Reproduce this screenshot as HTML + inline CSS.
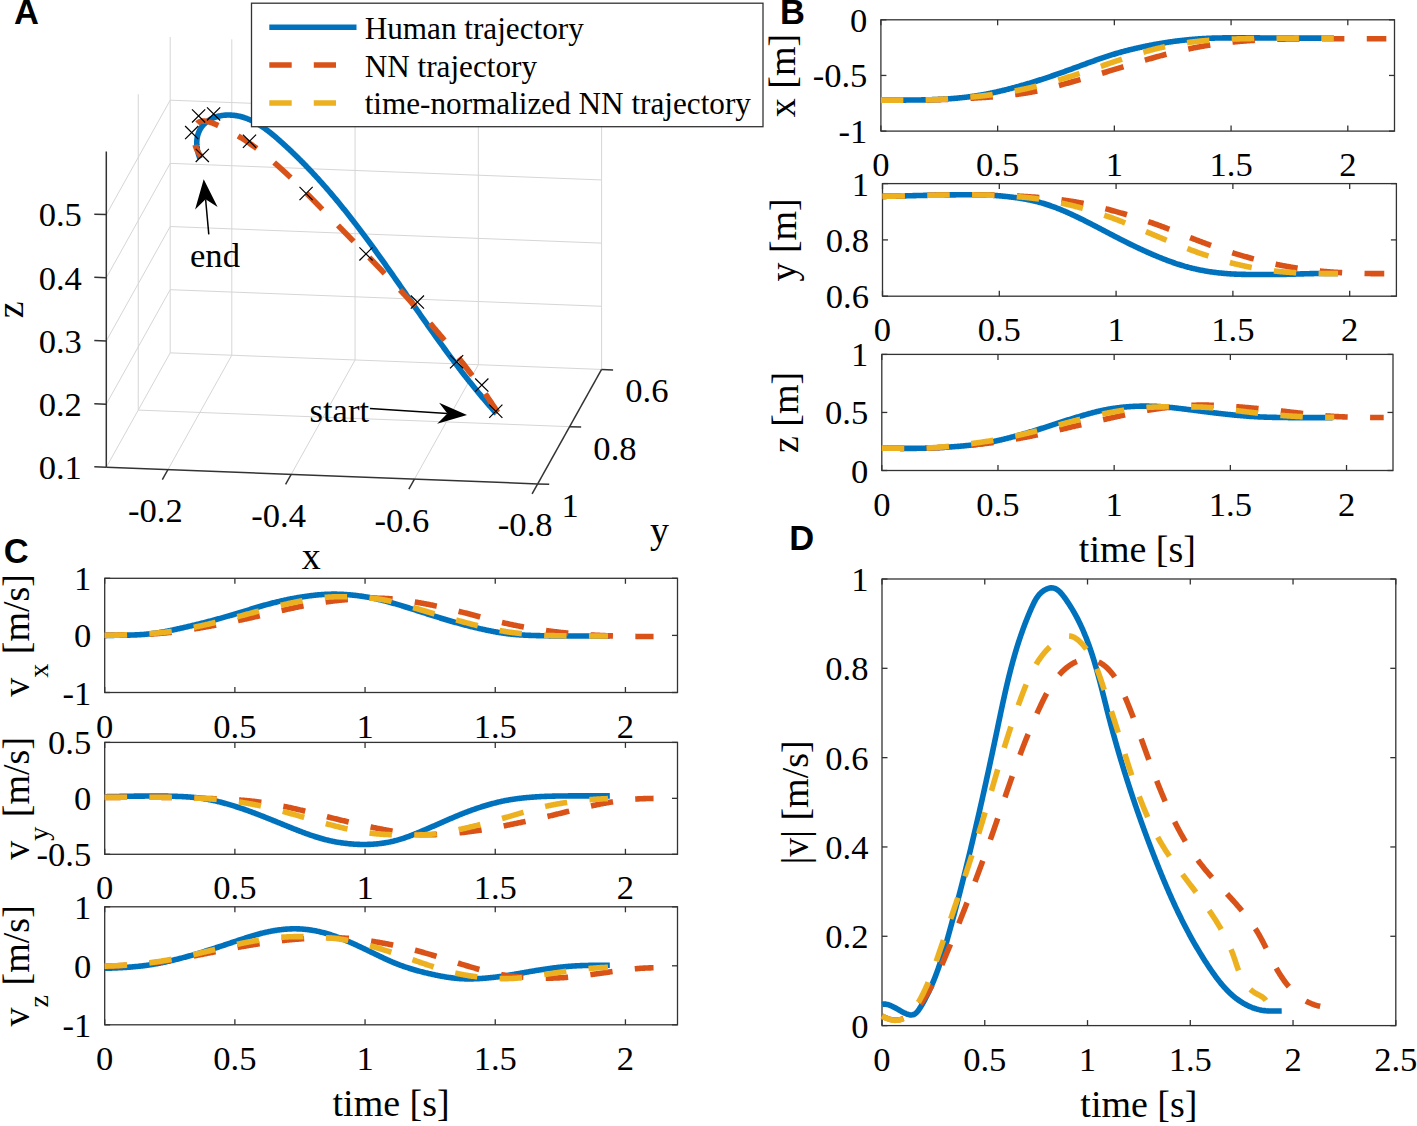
<!DOCTYPE html>
<html><head><meta charset="utf-8"><style>
html,body{margin:0;padding:0;background:#fff;width:1417px;height:1126px;overflow:hidden}
svg{display:block}
</style></head><body>
<svg width="1417" height="1126" viewBox="0 0 1417 1126">
<rect width="1417" height="1126" fill="#fff"/>
<line x1="231.81" y1="355.23" x2="231.81" y2="39.38" stroke="#D6D6D6" stroke-width="1.0"/>
<line x1="355.07" y1="359.97" x2="355.07" y2="44.12" stroke="#D6D6D6" stroke-width="1.0"/>
<line x1="478.33" y1="364.71" x2="478.33" y2="48.86" stroke="#D6D6D6" stroke-width="1.0"/>
<line x1="601.59" y1="369.45" x2="601.59" y2="53.60" stroke="#D6D6D6" stroke-width="1.0"/>
<line x1="170.18" y1="352.86" x2="170.18" y2="37.01" stroke="#D6D6D6" stroke-width="1.0"/>
<line x1="170.18" y1="352.86" x2="601.59" y2="369.45" stroke="#D6D6D6" stroke-width="1.0"/>
<line x1="170.18" y1="289.69" x2="601.59" y2="306.28" stroke="#D6D6D6" stroke-width="1.0"/>
<line x1="170.18" y1="226.52" x2="601.59" y2="243.11" stroke="#D6D6D6" stroke-width="1.0"/>
<line x1="170.18" y1="163.35" x2="601.59" y2="179.94" stroke="#D6D6D6" stroke-width="1.0"/>
<line x1="170.18" y1="100.18" x2="601.59" y2="116.77" stroke="#D6D6D6" stroke-width="1.0"/>
<line x1="138.24" y1="410.08" x2="138.24" y2="94.23" stroke="#D6D6D6" stroke-width="1.0"/>
<line x1="106.30" y1="467.30" x2="170.18" y2="352.86" stroke="#D6D6D6" stroke-width="1.0"/>
<line x1="106.30" y1="404.13" x2="170.18" y2="289.69" stroke="#D6D6D6" stroke-width="1.0"/>
<line x1="106.30" y1="340.96" x2="170.18" y2="226.52" stroke="#D6D6D6" stroke-width="1.0"/>
<line x1="106.30" y1="277.79" x2="170.18" y2="163.35" stroke="#D6D6D6" stroke-width="1.0"/>
<line x1="106.30" y1="214.62" x2="170.18" y2="100.18" stroke="#D6D6D6" stroke-width="1.0"/>
<line x1="167.93" y1="469.67" x2="231.81" y2="355.23" stroke="#D6D6D6" stroke-width="1.0"/>
<line x1="291.19" y1="474.41" x2="355.07" y2="359.97" stroke="#D6D6D6" stroke-width="1.0"/>
<line x1="414.45" y1="479.15" x2="478.33" y2="364.71" stroke="#D6D6D6" stroke-width="1.0"/>
<line x1="138.24" y1="410.08" x2="569.65" y2="426.67" stroke="#D6D6D6" stroke-width="1.0"/>
<line x1="106.30" y1="467.30" x2="106.30" y2="151.45" stroke="#333333" stroke-width="1.5"/>
<line x1="106.30" y1="467.30" x2="537.71" y2="483.89" stroke="#333333" stroke-width="1.5"/>
<line x1="537.71" y1="483.89" x2="601.59" y2="369.45" stroke="#333333" stroke-width="1.5"/>
<line x1="106.30" y1="467.30" x2="94.30" y2="466.85" stroke="#333333" stroke-width="1.5"/>
<text x="81.90" y="479.10" font-family="Liberation Serif" font-size="34.6" font-weight="400" text-anchor="end" fill="#000">0.1</text>
<line x1="106.30" y1="404.13" x2="94.30" y2="403.68" stroke="#333333" stroke-width="1.5"/>
<text x="81.90" y="415.93" font-family="Liberation Serif" font-size="34.6" font-weight="400" text-anchor="end" fill="#000">0.2</text>
<line x1="106.30" y1="340.96" x2="94.30" y2="340.51" stroke="#333333" stroke-width="1.5"/>
<text x="81.90" y="352.76" font-family="Liberation Serif" font-size="34.6" font-weight="400" text-anchor="end" fill="#000">0.3</text>
<line x1="106.30" y1="277.79" x2="94.30" y2="277.34" stroke="#333333" stroke-width="1.5"/>
<text x="81.90" y="289.59" font-family="Liberation Serif" font-size="34.6" font-weight="400" text-anchor="end" fill="#000">0.4</text>
<line x1="106.30" y1="214.62" x2="94.30" y2="214.17" stroke="#333333" stroke-width="1.5"/>
<text x="81.90" y="226.42" font-family="Liberation Serif" font-size="34.6" font-weight="400" text-anchor="end" fill="#000">0.5</text>
<line x1="167.93" y1="469.67" x2="162.32" y2="479.71" stroke="#333333" stroke-width="1.5"/>
<text x="155.43" y="522.17" font-family="Liberation Serif" font-size="34.6" font-weight="400" text-anchor="middle" fill="#000">-0.2</text>
<line x1="291.19" y1="474.41" x2="285.58" y2="484.45" stroke="#333333" stroke-width="1.5"/>
<text x="278.69" y="526.91" font-family="Liberation Serif" font-size="34.6" font-weight="400" text-anchor="middle" fill="#000">-0.4</text>
<line x1="414.45" y1="479.15" x2="408.84" y2="489.19" stroke="#333333" stroke-width="1.5"/>
<text x="401.95" y="531.65" font-family="Liberation Serif" font-size="34.6" font-weight="400" text-anchor="middle" fill="#000">-0.6</text>
<line x1="537.71" y1="483.89" x2="532.10" y2="493.93" stroke="#333333" stroke-width="1.5"/>
<text x="525.21" y="536.39" font-family="Liberation Serif" font-size="34.6" font-weight="400" text-anchor="middle" fill="#000">-0.8</text>
<line x1="601.59" y1="369.45" x2="613.08" y2="369.89" stroke="#333333" stroke-width="1.5"/>
<text x="625.29" y="402.45" font-family="Liberation Serif" font-size="34.6" font-weight="400" text-anchor="start" fill="#000">0.6</text>
<line x1="569.65" y1="426.67" x2="581.14" y2="427.11" stroke="#333333" stroke-width="1.5"/>
<text x="593.35" y="459.67" font-family="Liberation Serif" font-size="34.6" font-weight="400" text-anchor="start" fill="#000">0.8</text>
<line x1="537.71" y1="483.89" x2="549.20" y2="484.33" stroke="#333333" stroke-width="1.5"/>
<text x="561.41" y="516.89" font-family="Liberation Serif" font-size="34.6" font-weight="400" text-anchor="start" fill="#000">1</text>
<text x="311.20" y="568.50" font-family="Liberation Serif" font-size="38" font-weight="400" text-anchor="middle" fill="#000">x</text>
<text x="659.50" y="543.40" font-family="Liberation Serif" font-size="38" font-weight="400" text-anchor="middle" fill="#000">y</text>
<text x="0" y="0" font-family="Liberation Serif" font-size="38" text-anchor="middle" transform="translate(22.60,309.90) rotate(-90)">z</text>
<path d="M496.59,413.71 L495.94,413.00 L495.30,412.28 L494.67,411.57 L494.03,410.85 L493.39,410.13 L492.76,409.41 L492.12,408.69 L491.49,407.97 L490.86,407.25 L490.23,406.53 L489.60,405.81 L488.98,405.09 L488.35,404.37 L487.72,403.64 L487.10,402.92 L486.48,402.19 L485.86,401.47 L485.24,400.74 L484.62,400.01 L484.00,399.28 L483.39,398.56 L482.77,397.83 L482.16,397.10 L481.54,396.37 L480.93,395.63 L480.32,394.90 L479.71,394.17 L479.11,393.44 L478.50,392.70 L477.89,391.97 L477.29,391.23 L476.68,390.50 L476.08,389.76 L475.48,389.03 L474.88,388.29 L474.28,387.55 L473.68,386.81 L473.08,386.07 L472.49,385.33 L471.89,384.59 L471.30,383.85 L470.70,383.11 L470.11,382.37 L469.52,381.63 L468.93,380.88 L468.34,380.14 L467.75,379.40 L467.17,378.65 L466.58,377.91 L465.99,377.16 L465.41,376.41 L464.82,375.67 L464.24,374.92 L463.66,374.17 L463.08,373.42 L462.50,372.68 L461.92,371.93 L461.34,371.18 L460.76,370.43 L460.19,369.68 L459.61,368.93 L459.04,368.17 L458.46,367.42 L457.89,366.67 L457.32,365.92 L456.74,365.16 L456.17,364.41 L455.60,363.66 L455.03,362.90 L454.46,362.15 L453.90,361.39 L453.33,360.64 L452.76,359.88 L452.20,359.13 L451.63,358.37 L451.07,357.61 L450.51,356.85 L449.94,356.10 L449.38,355.34 L448.82,354.58 L448.26,353.82 L447.70,353.06 L447.14,352.30 L446.58,351.54 L446.02,350.78 L445.46,350.02 L444.91,349.26 L444.35,348.50 L443.79,347.74 L443.24,346.97 L442.68,346.21 L442.13,345.45 L441.58,344.69 L441.02,343.92 L440.47,343.16 L439.92,342.40 L439.37,341.63 L438.82,340.87 L438.27,340.10 L437.72,339.34 L437.17,338.57 L436.62,337.81 L436.07,337.04 L435.52,336.28 L434.98,335.51 L434.43,334.75 L433.88,333.98 L433.34,333.21 L432.79,332.45 L432.25,331.68 L431.70,330.91 L431.16,330.14 L430.61,329.38 L430.07,328.61 L429.53,327.84 L428.98,327.07 L428.44,326.30 L427.90,325.54 L427.36,324.77 L426.82,324.00 L426.28,323.23 L425.74,322.46 L425.20,321.69 L424.65,320.92 L424.12,320.15 L423.58,319.38 L423.04,318.61 L422.50,317.84 L421.96,317.07 L421.42,316.30 L420.88,315.53 L420.34,314.76 L419.81,313.99 L419.27,313.22 L418.73,312.45 L418.19,311.68 L417.66,310.91 L417.12,310.14 L416.58,309.37 L416.05,308.60 L415.51,307.83 L414.97,307.06 L414.44,306.29 L413.90,305.51 L413.37,304.74 L412.83,303.97 L412.30,303.20 L411.76,302.43 L411.23,301.66 L410.69,300.89 L410.15,300.12 L409.62,299.35 L409.08,298.58 L408.55,297.80 L408.01,297.03 L407.48,296.26 L406.94,295.49 L406.41,294.72 L405.87,293.95 L405.34,293.18 L404.80,292.41 L404.27,291.64 L403.73,290.87 L403.20,290.10 L402.66,289.33 L402.13,288.56 L401.59,287.79 L401.06,287.02 L400.52,286.25 L399.99,285.48 L399.45,284.71 L398.92,283.94 L398.38,283.17 L397.85,282.40 L397.31,281.63 L396.77,280.86 L396.24,280.09 L395.70,279.32 L395.16,278.55 L394.63,277.78 L394.09,277.01 L393.55,276.24 L393.01,275.48 L392.48,274.71 L391.94,273.94 L391.40,273.17 L390.86,272.41 L390.32,271.64 L389.78,270.87 L389.25,270.10 L388.71,269.34 L388.17,268.57 L387.63,267.80 L387.09,267.04 L386.55,266.27 L386.01,265.51 L385.46,264.74 L384.92,263.98 L384.38,263.21 L383.84,262.45 L383.30,261.68 L382.75,260.92 L382.21,260.15 L381.67,259.39 L381.12,258.63 L380.58,257.87 L380.03,257.10 L379.49,256.34 L378.94,255.58 L378.39,254.82 L377.85,254.05 L377.30,253.29 L376.75,252.53 L376.21,251.77 L375.66,251.01 L375.11,250.25 L374.56,249.49 L374.01,248.73 L373.46,247.97 L372.91,247.22 L372.36,246.46 L371.80,245.70 L371.25,244.94 L370.70,244.19 L370.14,243.43 L369.59,242.67 L369.03,241.92 L368.48,241.16 L367.92,240.41 L367.37,239.65 L366.81,238.90 L366.25,238.14 L365.69,237.39 L365.13,236.64 L364.57,235.89 L364.01,235.13 L363.45,234.38 L362.89,233.63 L362.33,232.88 L361.76,232.13 L361.20,231.38 L360.64,230.63 L360.07,229.88 L359.50,229.13 L358.94,228.39 L358.37,227.64 L357.80,226.89 L357.23,226.15 L356.66,225.40 L356.09,224.65 L355.52,223.91 L354.95,223.16 L354.37,222.42 L353.80,221.68 L353.23,220.93 L352.65,220.19 L352.07,219.45 L351.50,218.71 L350.92,217.97 L350.34,217.23 L349.76,216.49 L349.18,215.75 L348.60,215.01 L348.02,214.28 L347.43,213.54 L346.85,212.80 L346.26,212.07 L345.68,211.33 L345.09,210.60 L344.50,209.86 L343.91,209.13 L343.32,208.39 L342.73,207.66 L342.14,206.93 L341.55,206.20 L340.95,205.47 L340.36,204.74 L339.76,204.01 L339.17,203.28 L338.57,202.56 L337.97,201.83 L337.37,201.10 L336.77,200.38 L336.17,199.65 L335.56,198.93 L334.96,198.20 L334.35,197.48 L333.75,196.76 L333.14,196.04 L332.53,195.32 L331.92,194.60 L331.31,193.88 L330.70,193.16 L330.08,192.44 L329.47,191.72 L328.85,191.01 L328.24,190.29 L327.62,189.58 L327.00,188.86 L326.38,188.15 L325.76,187.44 L325.13,186.72 L324.51,186.01 L323.89,185.30 L323.26,184.59 L322.63,183.88 L322.00,183.18 L321.37,182.47 L320.74,181.76 L320.11,181.06 L319.47,180.35 L318.84,179.65 L318.20,178.95 L317.56,178.24 L316.92,177.54 L316.28,176.84 L315.64,176.14 L315.00,175.44 L314.35,174.75 L313.70,174.05 L313.06,173.35 L312.41,172.66 L311.76,171.96 L311.11,171.27 L310.45,170.58 L309.80,169.89 L309.14,169.20 L308.48,168.51 L307.82,167.82 L307.16,167.13 L306.50,166.44 L305.84,165.76 L305.17,165.07 L304.51,164.39 L303.84,163.70 L303.17,163.02 L302.50,162.34 L301.82,161.66 L301.15,160.98 L300.47,160.30 L299.80,159.62 L299.12,158.95 L298.44,158.27 L297.76,157.60 L297.07,156.92 L296.39,156.25 L295.70,155.58 L295.01,154.91 L294.32,154.24 L293.63,153.57 L292.94,152.90 L292.24,152.24 L291.55,151.57 L290.85,150.91 L290.15,150.24 L289.45,149.58 L288.74,148.92 L288.04,148.26 L287.33,147.60 L286.62,146.94 L285.91,146.28 L285.20,145.63 L284.49,144.97 L283.77,144.32 L283.05,143.67 L282.34,143.02 L281.61,142.37 L280.89,141.72 L280.17,141.07 L279.44,140.42 L278.71,139.78 L277.98,139.14 L277.25,138.50 L276.52,137.86 L275.78,137.23 L275.04,136.59 L274.30,135.97 L273.56,135.34 L272.81,134.72 L272.06,134.11 L271.31,133.50 L270.56,132.89 L269.80,132.30 L269.05,131.70 L268.29,131.11 L267.52,130.53 L266.76,129.95 L265.99,129.38 L265.21,128.82 L264.44,128.27 L263.66,127.72 L262.88,127.18 L262.10,126.64 L261.31,126.12 L260.52,125.61 L259.73,125.10 L258.93,124.60 L258.13,124.11 L257.33,123.63 L256.52,123.17 L255.71,122.71 L254.89,122.26 L254.08,121.82 L253.26,121.40 L252.43,120.98 L251.60,120.58 L250.77,120.19 L249.93,119.81 L249.09,119.44 L248.25,119.09 L247.40,118.75 L246.55,118.42 L245.69,118.10 L244.83,117.80 L243.97,117.52 L243.10,117.25 L242.22,116.99 L241.35,116.75 L240.46,116.52 L239.58,116.31 L238.69,116.11 L237.79,115.93 L236.89,115.77 L235.99,115.62 L235.09,115.49 L234.19,115.37 L233.28,115.27 L232.37,115.19 L231.47,115.12 L230.56,115.08 L229.66,115.05 L228.75,115.03 L227.85,115.04 L226.95,115.06 L226.06,115.10 L225.16,115.15 L224.27,115.23 L223.39,115.32 L222.51,115.43 L221.63,115.56 L220.76,115.71 L219.90,115.88 L219.05,116.06 L218.20,116.27 L217.36,116.49 L216.53,116.74 L215.71,117.00 L214.90,117.28 L214.09,117.59 L213.30,117.91 L212.52,118.25 L211.75,118.62 L210.99,119.00 L210.25,119.41 L209.52,119.83 L208.80,120.28 L208.10,120.74 L207.41,121.23 L206.73,121.74 L206.08,122.27 L205.43,122.82 L204.81,123.39 L204.21,123.98 L203.62,124.59 L203.05,125.22 L202.51,125.87 L201.98,126.54 L201.48,127.24 L200.99,127.95 L200.53,128.68 L200.10,129.44 L199.68,130.21 L199.29,131.00 L198.93,131.82 L198.59,132.65 L198.28,133.50 L198.00,134.38 L197.74,135.27 L197.51,136.18 L197.31,137.11 L197.15,138.06 L197.01,139.04 L196.90,140.03 L196.82,141.04 L196.78,142.07 L196.77,143.12 L196.79,144.18 L196.85,145.27 L196.94,146.38 L197.07,147.50 L197.23,148.65 L197.43,149.81 L197.67,151.00 L197.95,152.20 L198.26,153.42 L198.62,154.66 L199.01,155.92 L199.44,157.20 L199.92,158.49" fill="none" stroke="#0072BD" stroke-width="5.6" stroke-linejoin="round"/>
<path d="M497.71,412.38 L497.20,411.59 L496.69,410.80 L496.17,410.01 L495.66,409.22 L495.14,408.43 L494.63,407.64 L494.11,406.85 L493.59,406.06 L493.07,405.28 L492.55,404.49 L492.03,403.71 L491.50,402.93 L490.98,402.15 L490.45,401.37 L489.93,400.59 L489.40,399.81 L488.87,399.03 L488.35,398.26 L487.82,397.48 L487.29,396.71 L486.76,395.93 L486.22,395.16 L485.69,394.39 L485.16,393.62 L484.62,392.85 L484.09,392.08 L483.55,391.32 L483.01,390.55 L482.48,389.78 L481.94,389.02 L481.40,388.26 L480.86,387.49 L480.31,386.73 L479.77,385.97 L479.23,385.21 L478.68,384.45 L478.14,383.69 L477.59,382.94 L477.05,382.18 L476.50,381.43 L475.95,380.67 L475.40,379.92 L474.85,379.17 L474.30,378.41 L473.75,377.66 L473.20,376.91 L472.64,376.17 L472.09,375.42 L471.54,374.67 L470.98,373.92 L470.42,373.18 L469.87,372.43 L469.31,371.69 L468.75,370.95 L468.19,370.20 L467.63,369.46 L467.07,368.72 L466.51,367.98 L465.94,367.24 L465.38,366.51 L464.82,365.77 L464.25,365.03 L463.69,364.30 L463.12,363.56 L462.55,362.83 L461.98,362.10 L461.42,361.36 L460.85,360.63 L460.28,359.90 L459.71,359.17 L459.13,358.44 L458.56,357.71 L457.99,356.98 L457.41,356.26 L456.84,355.53 L456.26,354.81 L455.69,354.08 L455.11,353.36 L454.53,352.63 L453.96,351.91 L453.38,351.19 L452.80,350.47 L452.22,349.75 L451.64,349.03 L451.05,348.31 L450.47,347.59 L449.89,346.87 L449.31,346.16 L448.72,345.44 L448.14,344.72 L447.55,344.01 L446.96,343.29 L446.38,342.58 L445.79,341.87 L445.20,341.16 L444.61,340.44 L444.02,339.73 L443.43,339.02 L442.84,338.31 L442.25,337.60 L441.66,336.90 L441.07,336.19 L440.47,335.48 L439.88,334.77 L439.28,334.07 L438.69,333.36 L438.09,332.66 L437.50,331.95 L436.90,331.25 L436.30,330.55 L435.70,329.85 L435.10,329.14 L434.51,328.44 L433.91,327.74 L433.30,327.04 L432.70,326.34 L432.10,325.64 L431.50,324.94 L430.90,324.25 L430.29,323.55 L429.69,322.85 L429.08,322.16 L428.48,321.46 L427.87,320.77 L427.27,320.07 L426.66,319.38 L426.05,318.68 L425.44,317.99 L424.84,317.30 L424.23,316.61 L423.62,315.91 L423.01,315.22 L422.40,314.53 L421.79,313.84 L421.17,313.15 L420.56,312.46 L419.95,311.77 L419.34,311.09 L418.72,310.40 L418.11,309.71 L417.49,309.02 L416.88,308.34 L416.26,307.65 L415.65,306.97 L415.03,306.28 L414.41,305.60 L413.79,304.91 L413.18,304.23 L412.56,303.55 L411.94,302.86 L411.32,302.18 L410.70,301.50 L410.08,300.82 L409.46,300.13 L408.84,299.45 L408.21,298.77 L407.59,298.09 L406.97,297.41 L406.35,296.73 L405.72,296.05 L405.10,295.37 L404.47,294.70 L403.85,294.02 L403.22,293.34 L402.60,292.66 L401.97,291.99 L401.34,291.31 L400.72,290.63 L400.09,289.96 L399.46,289.28 L398.83,288.61 L398.20,287.93 L397.58,287.26 L396.95,286.58 L396.32,285.91 L395.69,285.23 L395.06,284.56 L394.42,283.89 L393.79,283.21 L393.16,282.54 L392.53,281.87 L391.90,281.19 L391.26,280.52 L390.63,279.85 L390.00,279.18 L389.36,278.51 L388.73,277.84 L388.09,277.17 L387.46,276.50 L386.82,275.83 L386.19,275.16 L385.55,274.49 L384.92,273.82 L384.28,273.15 L383.64,272.48 L383.00,271.81 L382.37,271.14 L381.73,270.47 L381.09,269.80 L380.45,269.13 L379.81,268.47 L379.17,267.80 L378.53,267.13 L377.90,266.46 L377.26,265.80 L376.61,265.13 L375.97,264.46 L375.33,263.79 L374.69,263.13 L374.05,262.46 L373.41,261.79 L372.77,261.13 L372.12,260.46 L371.48,259.80 L370.84,259.13 L370.20,258.46 L369.55,257.80 L368.91,257.13 L368.27,256.47 L367.62,255.80 L366.98,255.13 L366.33,254.47 L365.69,253.80 L365.04,253.14 L364.40,252.47 L363.75,251.81 L363.11,251.14 L362.46,250.48 L361.82,249.81 L361.17,249.15 L360.52,248.48 L359.88,247.82 L359.23,247.15 L358.58,246.49 L357.94,245.83 L357.29,245.16 L356.64,244.50 L355.99,243.83 L355.34,243.17 L354.70,242.50 L354.05,241.84 L353.40,241.17 L352.75,240.51 L352.10,239.84 L351.45,239.18 L350.80,238.51 L350.15,237.85 L349.51,237.19 L348.86,236.52 L348.21,235.86 L347.56,235.19 L346.91,234.53 L346.26,233.86 L345.61,233.20 L344.96,232.53 L344.30,231.87 L343.65,231.20 L343.00,230.54 L342.35,229.87 L341.70,229.20 L341.05,228.54 L340.40,227.87 L339.75,227.21 L339.10,226.54 L338.45,225.88 L337.79,225.21 L337.14,224.54 L336.49,223.88 L335.84,223.21 L335.19,222.54 L334.53,221.88 L333.88,221.21 L333.23,220.54 L332.58,219.88 L331.93,219.21 L331.27,218.54 L330.62,217.87 L329.97,217.21 L329.32,216.54 L328.66,215.87 L328.01,215.20 L327.36,214.53 L326.71,213.86 L326.05,213.20 L325.40,212.53 L324.75,211.86 L324.10,211.19 L323.44,210.52 L322.79,209.85 L322.14,209.18 L321.48,208.51 L320.83,207.84 L320.18,207.17 L319.53,206.50 L318.87,205.83 L318.22,205.15 L317.57,204.48 L316.91,203.81 L316.26,203.14 L315.61,202.47 L314.95,201.80 L314.30,201.13 L313.64,200.46 L312.99,199.79 L312.33,199.12 L311.68,198.45 L311.02,197.78 L310.37,197.11 L309.71,196.44 L309.05,195.78 L308.39,195.11 L307.74,194.44 L307.08,193.77 L306.42,193.11 L305.76,192.44 L305.10,191.78 L304.44,191.11 L303.78,190.45 L303.12,189.78 L302.46,189.12 L301.80,188.46 L301.13,187.80 L300.47,187.14 L299.81,186.48 L299.14,185.82 L298.48,185.16 L297.81,184.50 L297.14,183.85 L296.48,183.19 L295.81,182.54 L295.14,181.88 L294.47,181.23 L293.80,180.58 L293.13,179.93 L292.46,179.28 L291.78,178.64 L291.11,177.99 L290.43,177.34 L289.76,176.70 L289.08,176.06 L288.40,175.42 L287.73,174.78 L287.05,174.14 L286.37,173.50 L285.68,172.86 L285.00,172.23 L284.32,171.60 L283.63,170.96 L282.95,170.34 L282.26,169.71 L281.57,169.08 L280.88,168.46 L280.19,167.83 L279.50,167.21 L278.81,166.59 L278.12,165.97 L277.42,165.36 L276.73,164.74 L276.03,164.13 L275.33,163.52 L274.63,162.91 L273.93,162.30 L273.22,161.70 L272.52,161.10 L271.81,160.50 L271.11,159.90 L270.40,159.30 L269.69,158.71 L268.98,158.11 L268.26,157.52 L267.55,156.94 L266.83,156.35 L266.12,155.77 L265.40,155.19 L264.68,154.61 L263.96,154.03 L263.23,153.46 L262.51,152.89 L261.78,152.32 L261.05,151.75 L260.32,151.19 L259.59,150.63 L258.86,150.07 L258.12,149.51 L257.38,148.96 L256.65,148.41 L255.91,147.86 L255.16,147.31 L254.42,146.77 L253.67,146.23 L252.93,145.69 L252.18,145.16 L251.42,144.63 L250.67,144.10 L249.91,143.58 L249.16,143.05 L248.40,142.53 L247.64,142.02 L246.87,141.50 L246.11,140.99 L245.34,140.49 L244.57,139.98 L243.80,139.48 L243.03,138.99 L242.25,138.49 L241.47,138.00 L240.69,137.51 L239.91,137.03 L239.13,136.55 L238.34,136.07 L237.55,135.60 L236.76,135.13 L235.97,134.66 L235.17,134.19 L234.37,133.73 L233.57,133.28 L232.77,132.83 L231.97,132.38 L231.16,131.93 L230.35,131.49 L229.54,131.05 L228.72,130.62 L227.91,130.19 L227.09,129.76 L226.26,129.34 L225.44,128.92 L224.61,128.50 L223.78,128.09 L222.95,127.68 L222.12,127.28 L221.28,126.88 L220.44,126.49 L219.60,126.10 L218.75,125.71 L217.91,125.33 L217.06,124.95 L216.21,124.58 L215.36,124.22 L214.51,123.87 L213.66,123.53 L212.82,123.21 L211.99,122.90 L211.15,122.61 L210.33,122.34 L209.51,122.09 L208.70,121.87 L207.91,121.67 L207.12,121.49 L206.35,121.34 L205.59,121.23 L204.84,121.14 L204.11,121.09 L203.39,121.07 L202.70,121.09 L202.02,121.15 L201.36,121.25 L200.73,121.40 L200.11,121.58 L199.52,121.81 L198.96,122.09 L198.41,122.42 L197.90,122.80 L197.41,123.23 L196.95,123.72 L196.52,124.26 L196.13,124.86 L195.76,125.52 L195.42,126.23 L195.12,126.98 L194.85,127.79 L194.61,128.64 L194.40,129.53 L194.23,130.46 L194.09,131.42 L193.98,132.41 L193.90,133.42 L193.86,134.47 L193.85,135.53 L193.88,136.61 L193.94,137.70 L194.03,138.80 L194.16,139.92 L194.32,141.03 L194.52,142.15 L194.75,143.26 L195.02,144.37 L195.32,145.47 L195.66,146.56 L196.04,147.63 L196.45,148.68 L196.90,149.71 L197.38,150.72 L197.90,151.70 L198.46,152.64 L199.06,153.55 L199.69,154.43 L200.36,155.26 L201.07,156.04 L201.81,156.78" fill="none" stroke="#D95319" stroke-width="5.6" stroke-dasharray="22.4 22.4" stroke-linejoin="round"/>
<path d="M489.20,404.60 L502.40,417.80 M489.20,417.80 L502.40,404.60" stroke="#000" stroke-width="1.2" fill="none"/>
<path d="M475.20,378.50 L488.40,391.70 M475.20,391.70 L488.40,378.50" stroke="#000" stroke-width="1.2" fill="none"/>
<path d="M450.00,355.20 L463.20,368.40 M450.00,368.40 L463.20,355.20" stroke="#000" stroke-width="1.2" fill="none"/>
<path d="M410.80,295.50 L424.00,308.70 M410.80,308.70 L424.00,295.50" stroke="#000" stroke-width="1.2" fill="none"/>
<path d="M359.40,247.30 L372.60,260.50 M359.40,260.50 L372.60,247.30" stroke="#000" stroke-width="1.2" fill="none"/>
<path d="M299.50,186.90 L312.70,200.10 M299.50,200.10 L312.70,186.90" stroke="#000" stroke-width="1.2" fill="none"/>
<path d="M242.90,134.60 L256.10,147.80 M242.90,147.80 L256.10,134.60" stroke="#000" stroke-width="1.2" fill="none"/>
<path d="M207.00,107.30 L220.20,120.50 M207.00,120.50 L220.20,107.30" stroke="#000" stroke-width="1.2" fill="none"/>
<path d="M192.00,109.30 L205.20,122.50 M192.00,122.50 L205.20,109.30" stroke="#000" stroke-width="1.2" fill="none"/>
<path d="M185.10,126.00 L198.30,139.20 M185.10,139.20 L198.30,126.00" stroke="#000" stroke-width="1.2" fill="none"/>
<path d="M195.70,148.80 L208.90,162.00 M195.70,162.00 L208.90,148.80" stroke="#000" stroke-width="1.2" fill="none"/>
<line x1="208.8" y1="234.4" x2="205.6" y2="199.3" stroke="#000" stroke-width="1.5"/>
<path d="M203.7,179.3 L195.1,209.5 L205.6,199.3 L217.6,207.1 Z" fill="#000"/>
<text x="190.00" y="267.20" font-family="Liberation Serif" font-size="34.6" font-weight="400" text-anchor="start" fill="#000">end</text>
<line x1="369.9" y1="408.5" x2="447.4" y2="413.6" stroke="#000" stroke-width="1.5"/>
<path d="M467.0,414.9 L439.1,402.8 L447.4,413.6 L437.2,423.7 Z" fill="#000"/>
<text x="309.50" y="421.50" font-family="Liberation Serif" font-size="34.6" font-weight="400" text-anchor="start" fill="#000">start</text>
<rect x="251.5" y="3.2" width="511.5" height="123.5" fill="#fff" stroke="#333333" stroke-width="1.3"/>
<path d="M269.3,27.3 L356.5,27.3" stroke="#0072BD" stroke-width="5.6" fill="none"/>
<text x="364.70" y="38.70" font-family="Liberation Serif" font-size="31.2" font-weight="400" text-anchor="start" fill="#000">Human trajectory</text>
<path d="M269.3,65.0 L291.7,65.0 M313.8,65.0 L336,65.0" stroke="#D95319" stroke-width="5.6" fill="none"/>
<text x="364.70" y="76.60" font-family="Liberation Serif" font-size="31.2" font-weight="400" text-anchor="start" fill="#000">NN trajectory</text>
<path d="M269.3,103.0 L291.7,103.0 M313.8,103.0 L336,103.0" stroke="#EDB120" stroke-width="5.6" fill="none"/>
<text x="364.70" y="114.30" font-family="Liberation Serif" font-size="31.2" font-weight="400" text-anchor="start" fill="#000">time-normalized NN trajectory</text>
<line x1="880.90" y1="131.10" x2="880.90" y2="125.60" stroke="#333333" stroke-width="1.3"/>
<line x1="880.90" y1="19.80" x2="880.90" y2="25.30" stroke="#333333" stroke-width="1.3"/>
<line x1="997.63" y1="131.10" x2="997.63" y2="125.60" stroke="#333333" stroke-width="1.3"/>
<line x1="997.63" y1="19.80" x2="997.63" y2="25.30" stroke="#333333" stroke-width="1.3"/>
<line x1="1114.35" y1="131.10" x2="1114.35" y2="125.60" stroke="#333333" stroke-width="1.3"/>
<line x1="1114.35" y1="19.80" x2="1114.35" y2="25.30" stroke="#333333" stroke-width="1.3"/>
<line x1="1231.08" y1="131.10" x2="1231.08" y2="125.60" stroke="#333333" stroke-width="1.3"/>
<line x1="1231.08" y1="19.80" x2="1231.08" y2="25.30" stroke="#333333" stroke-width="1.3"/>
<line x1="1347.81" y1="131.10" x2="1347.81" y2="125.60" stroke="#333333" stroke-width="1.3"/>
<line x1="1347.81" y1="19.80" x2="1347.81" y2="25.30" stroke="#333333" stroke-width="1.3"/>
<line x1="880.90" y1="131.10" x2="886.40" y2="131.10" stroke="#333333" stroke-width="1.3"/>
<line x1="1394.50" y1="131.10" x2="1389.00" y2="131.10" stroke="#333333" stroke-width="1.3"/>
<line x1="880.90" y1="75.45" x2="886.40" y2="75.45" stroke="#333333" stroke-width="1.3"/>
<line x1="1394.50" y1="75.45" x2="1389.00" y2="75.45" stroke="#333333" stroke-width="1.3"/>
<line x1="880.90" y1="19.80" x2="886.40" y2="19.80" stroke="#333333" stroke-width="1.3"/>
<line x1="1394.50" y1="19.80" x2="1389.00" y2="19.80" stroke="#333333" stroke-width="1.3"/>
<rect x="880.90" y="19.80" width="513.60" height="111.30" fill="none" stroke="#333333" stroke-width="1.3"/>
<text x="880.90" y="176.10" font-family="Liberation Serif" font-size="34.6" font-weight="400" text-anchor="middle" fill="#000">0</text>
<text x="997.63" y="176.10" font-family="Liberation Serif" font-size="34.6" font-weight="400" text-anchor="middle" fill="#000">0.5</text>
<text x="1114.35" y="176.10" font-family="Liberation Serif" font-size="34.6" font-weight="400" text-anchor="middle" fill="#000">1</text>
<text x="1231.08" y="176.10" font-family="Liberation Serif" font-size="34.6" font-weight="400" text-anchor="middle" fill="#000">1.5</text>
<text x="1347.81" y="176.10" font-family="Liberation Serif" font-size="34.6" font-weight="400" text-anchor="middle" fill="#000">2</text>
<text x="867.40" y="143.10" font-family="Liberation Serif" font-size="34.6" font-weight="400" text-anchor="end" fill="#000">-1</text>
<text x="867.40" y="87.45" font-family="Liberation Serif" font-size="34.6" font-weight="400" text-anchor="end" fill="#000">-0.5</text>
<text x="867.40" y="31.80" font-family="Liberation Serif" font-size="34.6" font-weight="400" text-anchor="end" fill="#000">0</text>
<path d="M880.90,100.15 L881.66,100.15 L882.41,100.15 L883.17,100.15 L883.92,100.15 L884.68,100.15 L885.44,100.15 L886.19,100.14 L886.95,100.14 L887.70,100.14 L888.46,100.14 L889.22,100.14 L889.97,100.14 L890.73,100.14 L891.49,100.13 L892.24,100.13 L893.00,100.13 L893.75,100.13 L894.51,100.13 L895.27,100.12 L896.02,100.12 L896.78,100.12 L897.53,100.12 L898.29,100.11 L899.05,100.11 L899.80,100.11 L900.56,100.10 L901.31,100.10 L902.07,100.10 L902.83,100.09 L903.58,100.09 L904.34,100.09 L905.10,100.08 L905.85,100.08 L906.61,100.07 L907.36,100.07 L908.12,100.06 L908.88,100.06 L909.63,100.05 L910.39,100.05 L911.14,100.04 L911.90,100.04 L912.66,100.03 L913.41,100.02 L914.17,100.02 L914.92,100.01 L915.68,100.00 L916.44,99.99 L917.19,99.99 L917.95,99.98 L918.70,99.97 L919.46,99.96 L920.22,99.95 L920.97,99.94 L921.73,99.92 L922.49,99.91 L923.24,99.90 L924.00,99.88 L924.75,99.87 L925.51,99.85 L926.27,99.84 L927.02,99.82 L927.78,99.80 L928.53,99.78 L929.29,99.76 L930.05,99.74 L930.80,99.72 L931.56,99.69 L932.31,99.67 L933.07,99.64 L933.83,99.61 L934.58,99.58 L935.34,99.55 L936.10,99.52 L936.85,99.49 L937.61,99.46 L938.36,99.42 L939.12,99.39 L939.88,99.35 L940.63,99.31 L941.39,99.27 L942.14,99.23 L942.90,99.19 L943.66,99.14 L944.41,99.10 L945.17,99.05 L945.92,99.00 L946.68,98.95 L947.44,98.90 L948.19,98.85 L948.95,98.80 L949.70,98.74 L950.46,98.68 L951.22,98.63 L951.97,98.57 L952.73,98.51 L953.49,98.45 L954.24,98.38 L955.00,98.32 L955.75,98.25 L956.51,98.18 L957.27,98.11 L958.02,98.04 L958.78,97.97 L959.53,97.90 L960.29,97.82 L961.05,97.75 L961.80,97.67 L962.56,97.59 L963.31,97.50 L964.07,97.42 L964.83,97.33 L965.58,97.25 L966.34,97.16 L967.10,97.07 L967.85,96.97 L968.61,96.88 L969.36,96.78 L970.12,96.68 L970.88,96.58 L971.63,96.48 L972.39,96.38 L973.14,96.27 L973.90,96.16 L974.66,96.05 L975.41,95.94 L976.17,95.82 L976.92,95.70 L977.68,95.58 L978.44,95.46 L979.19,95.34 L979.95,95.21 L980.70,95.09 L981.46,94.96 L982.22,94.83 L982.97,94.69 L983.73,94.56 L984.49,94.42 L985.24,94.28 L986.00,94.14 L986.75,93.99 L987.51,93.85 L988.27,93.70 L989.02,93.55 L989.78,93.40 L990.53,93.24 L991.29,93.09 L992.05,92.93 L992.80,92.77 L993.56,92.61 L994.31,92.44 L995.07,92.28 L995.83,92.11 L996.58,91.94 L997.34,91.77 L998.09,91.60 L998.85,91.43 L999.61,91.25 L1000.36,91.07 L1001.12,90.89 L1001.88,90.71 L1002.63,90.53 L1003.39,90.34 L1004.14,90.16 L1004.90,89.97 L1005.66,89.78 L1006.41,89.59 L1007.17,89.40 L1007.92,89.21 L1008.68,89.01 L1009.44,88.82 L1010.19,88.62 L1010.95,88.42 L1011.70,88.22 L1012.46,88.02 L1013.22,87.82 L1013.97,87.62 L1014.73,87.41 L1015.49,87.21 L1016.24,87.00 L1017.00,86.79 L1017.75,86.58 L1018.51,86.37 L1019.27,86.16 L1020.02,85.95 L1020.78,85.73 L1021.53,85.52 L1022.29,85.30 L1023.05,85.09 L1023.80,84.87 L1024.56,84.65 L1025.31,84.43 L1026.07,84.21 L1026.83,83.98 L1027.58,83.76 L1028.34,83.54 L1029.09,83.31 L1029.85,83.08 L1030.61,82.86 L1031.36,82.63 L1032.12,82.40 L1032.88,82.17 L1033.63,81.93 L1034.39,81.70 L1035.14,81.47 L1035.90,81.23 L1036.66,80.99 L1037.41,80.76 L1038.17,80.52 L1038.92,80.28 L1039.68,80.03 L1040.44,79.79 L1041.19,79.55 L1041.95,79.30 L1042.70,79.06 L1043.46,78.81 L1044.22,78.56 L1044.97,78.31 L1045.73,78.06 L1046.49,77.81 L1047.24,77.56 L1048.00,77.31 L1048.75,77.05 L1049.51,76.80 L1050.27,76.54 L1051.02,76.28 L1051.78,76.02 L1052.53,75.76 L1053.29,75.50 L1054.05,75.24 L1054.80,74.98 L1055.56,74.72 L1056.31,74.46 L1057.07,74.19 L1057.83,73.93 L1058.58,73.66 L1059.34,73.39 L1060.09,73.13 L1060.85,72.86 L1061.61,72.59 L1062.36,72.32 L1063.12,72.05 L1063.88,71.78 L1064.63,71.51 L1065.39,71.24 L1066.14,70.96 L1066.90,70.69 L1067.66,70.42 L1068.41,70.14 L1069.17,69.87 L1069.92,69.60 L1070.68,69.32 L1071.44,69.05 L1072.19,68.77 L1072.95,68.49 L1073.70,68.22 L1074.46,67.94 L1075.22,67.66 L1075.97,67.39 L1076.73,67.11 L1077.49,66.83 L1078.24,66.55 L1079.00,66.28 L1079.75,66.00 L1080.51,65.72 L1081.27,65.44 L1082.02,65.17 L1082.78,64.89 L1083.53,64.61 L1084.29,64.33 L1085.05,64.06 L1085.80,63.78 L1086.56,63.50 L1087.31,63.23 L1088.07,62.95 L1088.83,62.68 L1089.58,62.40 L1090.34,62.13 L1091.09,61.86 L1091.85,61.58 L1092.61,61.31 L1093.36,61.04 L1094.12,60.77 L1094.88,60.50 L1095.63,60.23 L1096.39,59.96 L1097.14,59.70 L1097.90,59.43 L1098.66,59.17 L1099.41,58.91 L1100.17,58.64 L1100.92,58.38 L1101.68,58.12 L1102.44,57.87 L1103.19,57.61 L1103.95,57.36 L1104.70,57.10 L1105.46,56.85 L1106.22,56.60 L1106.97,56.35 L1107.73,56.11 L1108.49,55.86 L1109.24,55.62 L1110.00,55.38 L1110.75,55.14 L1111.51,54.91 L1112.27,54.67 L1113.02,54.44 L1113.78,54.21 L1114.53,53.98 L1115.29,53.75 L1116.05,53.53 L1116.80,53.31 L1117.56,53.09 L1118.31,52.87 L1119.07,52.65 L1119.83,52.44 L1120.58,52.23 L1121.34,52.02 L1122.09,51.81 L1122.85,51.60 L1123.61,51.40 L1124.36,51.20 L1125.12,51.00 L1125.88,50.80 L1126.63,50.60 L1127.39,50.41 L1128.14,50.22 L1128.90,50.03 L1129.66,49.84 L1130.41,49.65 L1131.17,49.47 L1131.92,49.28 L1132.68,49.10 L1133.44,48.92 L1134.19,48.74 L1134.95,48.57 L1135.70,48.39 L1136.46,48.22 L1137.22,48.05 L1137.97,47.88 L1138.73,47.71 L1139.49,47.54 L1140.24,47.37 L1141.00,47.21 L1141.75,47.04 L1142.51,46.88 L1143.27,46.72 L1144.02,46.56 L1144.78,46.40 L1145.53,46.25 L1146.29,46.09 L1147.05,45.94 L1147.80,45.78 L1148.56,45.63 L1149.31,45.48 L1150.07,45.33 L1150.83,45.19 L1151.58,45.04 L1152.34,44.90 L1153.09,44.75 L1153.85,44.61 L1154.61,44.47 L1155.36,44.33 L1156.12,44.20 L1156.88,44.06 L1157.63,43.93 L1158.39,43.79 L1159.14,43.66 L1159.90,43.53 L1160.66,43.40 L1161.41,43.28 L1162.17,43.15 L1162.92,43.03 L1163.68,42.90 L1164.44,42.78 L1165.19,42.66 L1165.95,42.54 L1166.70,42.43 L1167.46,42.31 L1168.22,42.20 L1168.97,42.09 L1169.73,41.98 L1170.48,41.87 L1171.24,41.76 L1172.00,41.65 L1172.75,41.55 L1173.51,41.45 L1174.27,41.34 L1175.02,41.24 L1175.78,41.15 L1176.53,41.05 L1177.29,40.95 L1178.05,40.86 L1178.80,40.77 L1179.56,40.68 L1180.31,40.59 L1181.07,40.50 L1181.83,40.42 L1182.58,40.33 L1183.34,40.25 L1184.09,40.17 L1184.85,40.09 L1185.61,40.01 L1186.36,39.93 L1187.12,39.85 L1187.88,39.78 L1188.63,39.71 L1189.39,39.64 L1190.14,39.57 L1190.90,39.50 L1191.66,39.43 L1192.41,39.36 L1193.17,39.30 L1193.92,39.24 L1194.68,39.18 L1195.44,39.12 L1196.19,39.06 L1196.95,39.00 L1197.70,38.94 L1198.46,38.89 L1199.22,38.84 L1199.97,38.79 L1200.73,38.74 L1201.48,38.69 L1202.24,38.64 L1203.00,38.59 L1203.75,38.55 L1204.51,38.51 L1205.27,38.47 L1206.02,38.43 L1206.78,38.39 L1207.53,38.35 L1208.29,38.32 L1209.05,38.28 L1209.80,38.25 L1210.56,38.22 L1211.31,38.19 L1212.07,38.16 L1212.83,38.14 L1213.58,38.11 L1214.34,38.09 L1215.09,38.07 L1215.85,38.05 L1216.61,38.03 L1217.36,38.01 L1218.12,37.99 L1218.88,37.98 L1219.63,37.96 L1220.39,37.95 L1221.14,37.94 L1221.90,37.93 L1222.66,37.92 L1223.41,37.91 L1224.17,37.90 L1224.92,37.89 L1225.68,37.89 L1226.44,37.88 L1227.19,37.87 L1227.95,37.87 L1228.70,37.86 L1229.46,37.86 L1230.22,37.86 L1230.97,37.85 L1231.73,37.85 L1232.48,37.85 L1233.24,37.85 L1234.00,37.85 L1234.75,37.85 L1235.51,37.85 L1236.27,37.85 L1237.02,37.85 L1237.78,37.85 L1238.53,37.85 L1239.29,37.85 L1240.05,37.85 L1240.80,37.85 L1241.56,37.85 L1242.31,37.85 L1243.07,37.85 L1243.83,37.85 L1244.58,37.86 L1245.34,37.86 L1246.09,37.86 L1246.85,37.86 L1247.61,37.87 L1248.36,37.87 L1249.12,37.87 L1249.88,37.87 L1250.63,37.88 L1251.39,37.88 L1252.14,37.88 L1252.90,37.89 L1253.66,37.89 L1254.41,37.89 L1255.17,37.90 L1255.92,37.90 L1256.68,37.91 L1257.44,37.91 L1258.19,37.92 L1258.95,37.92 L1259.70,37.92 L1260.46,37.93 L1261.22,37.93 L1261.97,37.94 L1262.73,37.94 L1263.48,37.95 L1264.24,37.95 L1265.00,37.96 L1265.75,37.96 L1266.51,37.97 L1267.27,37.97 L1268.02,37.98 L1268.78,37.98 L1269.53,37.99 L1270.29,37.99 L1271.05,38.00 L1271.80,38.01 L1272.56,38.01 L1273.31,38.02 L1274.07,38.02 L1274.83,38.03 L1275.58,38.03 L1276.34,38.04 L1277.09,38.04 L1277.85,38.05 L1278.61,38.05 L1279.36,38.06 L1280.12,38.06 L1280.88,38.07 L1281.63,38.07 L1282.39,38.08 L1283.14,38.08 L1283.90,38.08 L1284.66,38.09 L1285.41,38.09 L1286.17,38.10 L1286.92,38.10 L1287.68,38.10 L1288.44,38.11 L1289.19,38.11 L1289.95,38.12 L1290.70,38.12 L1291.46,38.12 L1292.22,38.12 L1292.97,38.13 L1293.73,38.13 L1294.48,38.13 L1295.24,38.14 L1296.00,38.14 L1296.75,38.14 L1297.51,38.14 L1298.27,38.14 L1299.02,38.15 L1299.78,38.15 L1300.53,38.15 L1301.29,38.15 L1302.05,38.15 L1302.80,38.15 L1303.56,38.15 L1304.31,38.16 L1305.07,38.16 L1305.83,38.16 L1306.58,38.16 L1307.34,38.16 L1308.09,38.16 L1308.85,38.16 L1309.61,38.16 L1310.36,38.16 L1311.12,38.16 L1311.88,38.16 L1312.63,38.16 L1313.39,38.16 L1314.14,38.16 L1314.90,38.16 L1315.66,38.16 L1316.41,38.16 L1317.17,38.16 L1317.92,38.16 L1318.68,38.16 L1319.44,38.16 L1320.19,38.16 L1320.95,38.16 L1321.70,38.16 L1322.46,38.16 L1323.22,38.16 L1323.97,38.16 L1324.73,38.16 L1325.48,38.16 L1326.24,38.16 L1327.00,38.16 L1327.75,38.16 L1328.51,38.16 L1329.27,38.16 L1330.02,38.16 L1330.78,38.16 L1331.53,38.16 L1332.29,38.16 L1333.05,38.16 L1333.80,38.16" fill="none" stroke="#0072BD" stroke-width="5.6" stroke-linejoin="round"/>
<path d="M880.90,100.15 L881.74,100.15 L882.59,100.15 L883.43,100.15 L884.28,100.15 L885.12,100.15 L885.96,100.14 L886.81,100.14 L887.65,100.14 L888.49,100.14 L889.34,100.14 L890.18,100.14 L891.03,100.13 L891.87,100.13 L892.71,100.13 L893.56,100.13 L894.40,100.12 L895.24,100.12 L896.09,100.12 L896.93,100.11 L897.78,100.11 L898.62,100.11 L899.46,100.11 L900.31,100.10 L901.15,100.10 L901.99,100.09 L902.84,100.09 L903.68,100.09 L904.53,100.08 L905.37,100.08 L906.21,100.07 L907.06,100.07 L907.90,100.06 L908.75,100.06 L909.59,100.05 L910.43,100.05 L911.28,100.04 L912.12,100.04 L912.96,100.03 L913.81,100.02 L914.65,100.02 L915.50,100.01 L916.34,100.00 L917.18,100.00 L918.03,99.99 L918.87,99.98 L919.71,99.97 L920.56,99.96 L921.40,99.96 L922.25,99.95 L923.09,99.94 L923.93,99.93 L924.78,99.92 L925.62,99.90 L926.46,99.89 L927.31,99.88 L928.15,99.87 L929.00,99.85 L929.84,99.84 L930.68,99.82 L931.53,99.81 L932.37,99.79 L933.21,99.77 L934.06,99.76 L934.90,99.74 L935.75,99.72 L936.59,99.70 L937.43,99.68 L938.28,99.66 L939.12,99.63 L939.97,99.61 L940.81,99.59 L941.65,99.56 L942.50,99.53 L943.34,99.51 L944.18,99.48 L945.03,99.45 L945.87,99.42 L946.72,99.39 L947.56,99.36 L948.40,99.33 L949.25,99.30 L950.09,99.27 L950.93,99.23 L951.78,99.20 L952.62,99.16 L953.47,99.13 L954.31,99.09 L955.15,99.05 L956.00,99.01 L956.84,98.98 L957.68,98.94 L958.53,98.90 L959.37,98.86 L960.22,98.82 L961.06,98.77 L961.90,98.73 L962.75,98.69 L963.59,98.65 L964.44,98.60 L965.28,98.56 L966.12,98.51 L966.97,98.47 L967.81,98.42 L968.65,98.38 L969.50,98.33 L970.34,98.28 L971.19,98.23 L972.03,98.19 L972.87,98.14 L973.72,98.09 L974.56,98.04 L975.40,97.99 L976.25,97.94 L977.09,97.89 L977.94,97.83 L978.78,97.78 L979.62,97.73 L980.47,97.67 L981.31,97.62 L982.15,97.56 L983.00,97.51 L983.84,97.45 L984.69,97.39 L985.53,97.34 L986.37,97.28 L987.22,97.22 L988.06,97.16 L988.90,97.09 L989.75,97.03 L990.59,96.97 L991.44,96.90 L992.28,96.84 L993.12,96.77 L993.97,96.70 L994.81,96.63 L995.66,96.56 L996.50,96.49 L997.34,96.42 L998.19,96.35 L999.03,96.27 L999.87,96.20 L1000.72,96.12 L1001.56,96.04 L1002.41,95.96 L1003.25,95.88 L1004.09,95.80 L1004.94,95.72 L1005.78,95.63 L1006.62,95.55 L1007.47,95.46 L1008.31,95.37 L1009.16,95.28 L1010.00,95.19 L1010.84,95.09 L1011.69,95.00 L1012.53,94.90 L1013.37,94.80 L1014.22,94.70 L1015.06,94.59 L1015.91,94.49 L1016.75,94.38 L1017.59,94.27 L1018.44,94.16 L1019.28,94.04 L1020.13,93.92 L1020.97,93.80 L1021.81,93.68 L1022.66,93.56 L1023.50,93.43 L1024.34,93.30 L1025.19,93.16 L1026.03,93.03 L1026.88,92.89 L1027.72,92.75 L1028.56,92.60 L1029.41,92.45 L1030.25,92.30 L1031.09,92.14 L1031.94,91.98 L1032.78,91.82 L1033.63,91.66 L1034.47,91.49 L1035.31,91.32 L1036.16,91.14 L1037.00,90.97 L1037.84,90.78 L1038.69,90.60 L1039.53,90.41 L1040.38,90.22 L1041.22,90.03 L1042.06,89.83 L1042.91,89.64 L1043.75,89.44 L1044.59,89.23 L1045.44,89.03 L1046.28,88.82 L1047.13,88.61 L1047.97,88.40 L1048.81,88.18 L1049.66,87.97 L1050.50,87.75 L1051.35,87.53 L1052.19,87.31 L1053.03,87.09 L1053.88,86.87 L1054.72,86.64 L1055.56,86.42 L1056.41,86.19 L1057.25,85.96 L1058.10,85.73 L1058.94,85.51 L1059.78,85.28 L1060.63,85.05 L1061.47,84.81 L1062.31,84.58 L1063.16,84.35 L1064.00,84.12 L1064.85,83.89 L1065.69,83.65 L1066.53,83.42 L1067.38,83.19 L1068.22,82.95 L1069.06,82.72 L1069.91,82.48 L1070.75,82.25 L1071.60,82.01 L1072.44,81.78 L1073.28,81.54 L1074.13,81.30 L1074.97,81.07 L1075.82,80.83 L1076.66,80.59 L1077.50,80.35 L1078.35,80.11 L1079.19,79.87 L1080.03,79.63 L1080.88,79.39 L1081.72,79.15 L1082.57,78.91 L1083.41,78.67 L1084.25,78.43 L1085.10,78.18 L1085.94,77.94 L1086.78,77.69 L1087.63,77.45 L1088.47,77.20 L1089.32,76.96 L1090.16,76.71 L1091.00,76.46 L1091.85,76.22 L1092.69,75.97 L1093.53,75.72 L1094.38,75.47 L1095.22,75.22 L1096.07,74.97 L1096.91,74.72 L1097.75,74.47 L1098.60,74.22 L1099.44,73.97 L1100.28,73.72 L1101.13,73.47 L1101.97,73.22 L1102.82,72.96 L1103.66,72.71 L1104.50,72.46 L1105.35,72.20 L1106.19,71.95 L1107.04,71.70 L1107.88,71.44 L1108.72,71.19 L1109.57,70.93 L1110.41,70.68 L1111.25,70.42 L1112.10,70.16 L1112.94,69.91 L1113.79,69.65 L1114.63,69.39 L1115.47,69.13 L1116.32,68.88 L1117.16,68.62 L1118.00,68.36 L1118.85,68.10 L1119.69,67.84 L1120.54,67.58 L1121.38,67.32 L1122.22,67.06 L1123.07,66.80 L1123.91,66.54 L1124.75,66.28 L1125.60,66.02 L1126.44,65.76 L1127.29,65.50 L1128.13,65.24 L1128.97,64.98 L1129.82,64.72 L1130.66,64.46 L1131.51,64.20 L1132.35,63.95 L1133.19,63.69 L1134.04,63.43 L1134.88,63.17 L1135.72,62.92 L1136.57,62.66 L1137.41,62.41 L1138.26,62.15 L1139.10,61.90 L1139.94,61.65 L1140.79,61.39 L1141.63,61.14 L1142.47,60.89 L1143.32,60.64 L1144.16,60.40 L1145.01,60.15 L1145.85,59.90 L1146.69,59.66 L1147.54,59.41 L1148.38,59.17 L1149.22,58.93 L1150.07,58.69 L1150.91,58.45 L1151.76,58.21 L1152.60,57.97 L1153.44,57.74 L1154.29,57.50 L1155.13,57.27 L1155.97,57.03 L1156.82,56.80 L1157.66,56.57 L1158.51,56.34 L1159.35,56.11 L1160.19,55.88 L1161.04,55.66 L1161.88,55.43 L1162.73,55.21 L1163.57,54.98 L1164.41,54.76 L1165.26,54.54 L1166.10,54.32 L1166.94,54.10 L1167.79,53.88 L1168.63,53.66 L1169.48,53.45 L1170.32,53.23 L1171.16,53.02 L1172.01,52.81 L1172.85,52.60 L1173.69,52.39 L1174.54,52.18 L1175.38,51.97 L1176.23,51.77 L1177.07,51.57 L1177.91,51.37 L1178.76,51.16 L1179.60,50.97 L1180.44,50.77 L1181.29,50.57 L1182.13,50.38 L1182.98,50.19 L1183.82,50.00 L1184.66,49.81 L1185.51,49.63 L1186.35,49.44 L1187.20,49.26 L1188.04,49.08 L1188.88,48.90 L1189.73,48.72 L1190.57,48.55 L1191.41,48.38 L1192.26,48.21 L1193.10,48.04 L1193.95,47.87 L1194.79,47.70 L1195.63,47.54 L1196.48,47.38 L1197.32,47.22 L1198.16,47.06 L1199.01,46.90 L1199.85,46.75 L1200.70,46.59 L1201.54,46.44 L1202.38,46.29 L1203.23,46.14 L1204.07,46.00 L1204.91,45.85 L1205.76,45.71 L1206.60,45.56 L1207.45,45.42 L1208.29,45.28 L1209.13,45.15 L1209.98,45.01 L1210.82,44.88 L1211.66,44.74 L1212.51,44.61 L1213.35,44.48 L1214.20,44.36 L1215.04,44.23 L1215.88,44.10 L1216.73,43.98 L1217.57,43.86 L1218.42,43.74 L1219.26,43.62 L1220.10,43.51 L1220.95,43.39 L1221.79,43.28 L1222.63,43.17 L1223.48,43.06 L1224.32,42.96 L1225.17,42.85 L1226.01,42.75 L1226.85,42.65 L1227.70,42.55 L1228.54,42.46 L1229.38,42.36 L1230.23,42.27 L1231.07,42.18 L1231.92,42.09 L1232.76,42.01 L1233.60,41.92 L1234.45,41.84 L1235.29,41.76 L1236.13,41.68 L1236.98,41.60 L1237.82,41.53 L1238.67,41.45 L1239.51,41.38 L1240.35,41.31 L1241.20,41.24 L1242.04,41.17 L1242.89,41.11 L1243.73,41.04 L1244.57,40.98 L1245.42,40.92 L1246.26,40.85 L1247.10,40.80 L1247.95,40.74 L1248.79,40.68 L1249.64,40.62 L1250.48,40.57 L1251.32,40.51 L1252.17,40.46 L1253.01,40.41 L1253.85,40.35 L1254.70,40.30 L1255.54,40.25 L1256.39,40.20 L1257.23,40.16 L1258.07,40.11 L1258.92,40.06 L1259.76,40.02 L1260.60,39.97 L1261.45,39.93 L1262.29,39.89 L1263.14,39.84 L1263.98,39.80 L1264.82,39.76 L1265.67,39.72 L1266.51,39.69 L1267.35,39.65 L1268.20,39.61 L1269.04,39.58 L1269.89,39.54 L1270.73,39.51 L1271.57,39.48 L1272.42,39.45 L1273.26,39.41 L1274.11,39.39 L1274.95,39.36 L1275.79,39.33 L1276.64,39.30 L1277.48,39.28 L1278.32,39.25 L1279.17,39.23 L1280.01,39.21 L1280.86,39.18 L1281.70,39.16 L1282.54,39.14 L1283.39,39.12 L1284.23,39.11 L1285.07,39.09 L1285.92,39.07 L1286.76,39.06 L1287.61,39.04 L1288.45,39.03 L1289.29,39.01 L1290.14,39.00 L1290.98,38.99 L1291.82,38.98 L1292.67,38.97 L1293.51,38.96 L1294.36,38.95 L1295.20,38.94 L1296.04,38.93 L1296.89,38.92 L1297.73,38.91 L1298.58,38.90 L1299.42,38.90 L1300.26,38.89 L1301.11,38.88 L1301.95,38.88 L1302.79,38.87 L1303.64,38.87 L1304.48,38.86 L1305.33,38.85 L1306.17,38.85 L1307.01,38.84 L1307.86,38.84 L1308.70,38.83 L1309.54,38.83 L1310.39,38.83 L1311.23,38.82 L1312.08,38.82 L1312.92,38.81 L1313.76,38.81 L1314.61,38.81 L1315.45,38.80 L1316.29,38.80 L1317.14,38.79 L1317.98,38.79 L1318.83,38.79 L1319.67,38.78 L1320.51,38.78 L1321.36,38.78 L1322.20,38.78 L1323.04,38.77 L1323.89,38.77 L1324.73,38.77 L1325.58,38.76 L1326.42,38.76 L1327.26,38.76 L1328.11,38.76 L1328.95,38.75 L1329.80,38.75 L1330.64,38.75 L1331.48,38.75 L1332.33,38.75 L1333.17,38.74 L1334.01,38.74 L1334.86,38.74 L1335.70,38.74 L1336.55,38.74 L1337.39,38.74 L1338.23,38.74 L1339.08,38.73 L1339.92,38.73 L1340.76,38.73 L1341.61,38.73 L1342.45,38.73 L1343.30,38.73 L1344.14,38.73 L1344.98,38.73 L1345.83,38.73 L1346.67,38.73 L1347.51,38.73 L1348.36,38.73 L1349.20,38.72 L1350.05,38.72 L1350.89,38.72 L1351.73,38.72 L1352.58,38.72 L1353.42,38.72 L1354.27,38.72 L1355.11,38.72 L1355.95,38.72 L1356.80,38.72 L1357.64,38.72 L1358.48,38.72 L1359.33,38.72 L1360.17,38.72 L1361.02,38.72 L1361.86,38.72 L1362.70,38.72 L1363.55,38.72 L1364.39,38.72 L1365.23,38.72 L1366.08,38.72 L1366.92,38.72 L1367.77,38.72 L1368.61,38.72 L1369.45,38.72 L1370.30,38.72 L1371.14,38.72 L1371.98,38.72 L1372.83,38.72 L1373.67,38.72 L1374.52,38.72 L1375.36,38.72 L1376.20,38.72 L1377.05,38.72 L1377.89,38.72 L1378.73,38.72 L1379.58,38.72 L1380.42,38.72 L1381.27,38.72 L1382.11,38.72 L1382.95,38.72 L1383.80,38.72 L1384.64,38.72 L1385.49,38.72 L1386.33,38.72" fill="none" stroke="#D95319" stroke-width="5.6" stroke-dasharray="22.4 22.4" stroke-linejoin="round"/>
<path d="M880.90,100.15 L881.66,100.15 L882.41,100.15 L883.17,100.15 L883.92,100.15 L884.68,100.15 L885.44,100.15 L886.19,100.14 L886.95,100.14 L887.70,100.14 L888.46,100.14 L889.22,100.14 L889.97,100.14 L890.73,100.13 L891.49,100.13 L892.24,100.13 L893.00,100.13 L893.75,100.13 L894.51,100.12 L895.27,100.12 L896.02,100.12 L896.78,100.12 L897.53,100.11 L898.29,100.11 L899.05,100.11 L899.80,100.11 L900.56,100.10 L901.31,100.10 L902.07,100.10 L902.83,100.09 L903.58,100.09 L904.34,100.08 L905.10,100.08 L905.85,100.08 L906.61,100.07 L907.36,100.07 L908.12,100.06 L908.88,100.06 L909.63,100.05 L910.39,100.05 L911.14,100.04 L911.90,100.04 L912.66,100.03 L913.41,100.02 L914.17,100.02 L914.92,100.01 L915.68,100.00 L916.44,100.00 L917.19,99.99 L917.95,99.98 L918.70,99.97 L919.46,99.96 L920.22,99.95 L920.97,99.94 L921.73,99.93 L922.49,99.92 L923.24,99.91 L924.00,99.89 L924.75,99.88 L925.51,99.87 L926.27,99.85 L927.02,99.84 L927.78,99.82 L928.53,99.80 L929.29,99.78 L930.05,99.76 L930.80,99.74 L931.56,99.72 L932.31,99.70 L933.07,99.67 L933.83,99.65 L934.58,99.62 L935.34,99.60 L936.10,99.57 L936.85,99.54 L937.61,99.51 L938.36,99.48 L939.12,99.44 L939.88,99.41 L940.63,99.37 L941.39,99.34 L942.14,99.30 L942.90,99.26 L943.66,99.22 L944.41,99.18 L945.17,99.13 L945.92,99.09 L946.68,99.04 L947.44,99.00 L948.19,98.95 L948.95,98.90 L949.70,98.85 L950.46,98.80 L951.22,98.75 L951.97,98.69 L952.73,98.64 L953.49,98.59 L954.24,98.53 L955.00,98.47 L955.75,98.41 L956.51,98.35 L957.27,98.29 L958.02,98.23 L958.78,98.17 L959.53,98.11 L960.29,98.05 L961.05,97.98 L961.80,97.92 L962.56,97.85 L963.31,97.78 L964.07,97.72 L964.83,97.65 L965.58,97.58 L966.34,97.51 L967.10,97.44 L967.85,97.37 L968.61,97.30 L969.36,97.23 L970.12,97.15 L970.88,97.08 L971.63,97.00 L972.39,96.93 L973.14,96.85 L973.90,96.78 L974.66,96.70 L975.41,96.62 L976.17,96.54 L976.92,96.46 L977.68,96.38 L978.44,96.30 L979.19,96.22 L979.95,96.13 L980.70,96.05 L981.46,95.96 L982.22,95.88 L982.97,95.79 L983.73,95.70 L984.49,95.61 L985.24,95.52 L986.00,95.43 L986.75,95.33 L987.51,95.24 L988.27,95.14 L989.02,95.05 L989.78,94.95 L990.53,94.85 L991.29,94.75 L992.05,94.65 L992.80,94.54 L993.56,94.44 L994.31,94.33 L995.07,94.23 L995.83,94.12 L996.58,94.01 L997.34,93.90 L998.09,93.78 L998.85,93.67 L999.61,93.55 L1000.36,93.44 L1001.12,93.32 L1001.88,93.20 L1002.63,93.08 L1003.39,92.96 L1004.14,92.83 L1004.90,92.71 L1005.66,92.58 L1006.41,92.45 L1007.17,92.32 L1007.92,92.19 L1008.68,92.06 L1009.44,91.93 L1010.19,91.80 L1010.95,91.66 L1011.70,91.52 L1012.46,91.38 L1013.22,91.24 L1013.97,91.10 L1014.73,90.96 L1015.49,90.82 L1016.24,90.67 L1017.00,90.53 L1017.75,90.38 L1018.51,90.23 L1019.27,90.08 L1020.02,89.92 L1020.78,89.77 L1021.53,89.61 L1022.29,89.46 L1023.05,89.30 L1023.80,89.14 L1024.56,88.98 L1025.31,88.81 L1026.07,88.65 L1026.83,88.48 L1027.58,88.31 L1028.34,88.14 L1029.09,87.97 L1029.85,87.79 L1030.61,87.62 L1031.36,87.44 L1032.12,87.26 L1032.88,87.08 L1033.63,86.90 L1034.39,86.71 L1035.14,86.53 L1035.90,86.34 L1036.66,86.15 L1037.41,85.96 L1038.17,85.76 L1038.92,85.57 L1039.68,85.37 L1040.44,85.17 L1041.19,84.97 L1041.95,84.77 L1042.70,84.57 L1043.46,84.37 L1044.22,84.16 L1044.97,83.95 L1045.73,83.74 L1046.49,83.53 L1047.24,83.32 L1048.00,83.11 L1048.75,82.90 L1049.51,82.68 L1050.27,82.47 L1051.02,82.25 L1051.78,82.03 L1052.53,81.81 L1053.29,81.59 L1054.05,81.37 L1054.80,81.15 L1055.56,80.93 L1056.31,80.71 L1057.07,80.48 L1057.83,80.26 L1058.58,80.03 L1059.34,79.80 L1060.09,79.58 L1060.85,79.35 L1061.61,79.12 L1062.36,78.89 L1063.12,78.66 L1063.88,78.43 L1064.63,78.19 L1065.39,77.96 L1066.14,77.73 L1066.90,77.49 L1067.66,77.26 L1068.41,77.02 L1069.17,76.79 L1069.92,76.55 L1070.68,76.31 L1071.44,76.07 L1072.19,75.83 L1072.95,75.59 L1073.70,75.35 L1074.46,75.11 L1075.22,74.87 L1075.97,74.63 L1076.73,74.38 L1077.49,74.14 L1078.24,73.89 L1079.00,73.65 L1079.75,73.40 L1080.51,73.15 L1081.27,72.90 L1082.02,72.66 L1082.78,72.41 L1083.53,72.16 L1084.29,71.91 L1085.05,71.66 L1085.80,71.40 L1086.56,71.15 L1087.31,70.90 L1088.07,70.65 L1088.83,70.39 L1089.58,70.14 L1090.34,69.88 L1091.09,69.63 L1091.85,69.37 L1092.61,69.12 L1093.36,68.86 L1094.12,68.61 L1094.88,68.35 L1095.63,68.09 L1096.39,67.84 L1097.14,67.58 L1097.90,67.32 L1098.66,67.07 L1099.41,66.81 L1100.17,66.55 L1100.92,66.30 L1101.68,66.04 L1102.44,65.78 L1103.19,65.52 L1103.95,65.26 L1104.70,65.01 L1105.46,64.75 L1106.22,64.49 L1106.97,64.23 L1107.73,63.97 L1108.49,63.72 L1109.24,63.46 L1110.00,63.20 L1110.75,62.94 L1111.51,62.68 L1112.27,62.42 L1113.02,62.16 L1113.78,61.90 L1114.53,61.64 L1115.29,61.38 L1116.05,61.12 L1116.80,60.87 L1117.56,60.61 L1118.31,60.35 L1119.07,60.09 L1119.83,59.83 L1120.58,59.57 L1121.34,59.31 L1122.09,59.05 L1122.85,58.80 L1123.61,58.54 L1124.36,58.28 L1125.12,58.02 L1125.88,57.77 L1126.63,57.51 L1127.39,57.26 L1128.14,57.01 L1128.90,56.75 L1129.66,56.50 L1130.41,56.25 L1131.17,56.00 L1131.92,55.75 L1132.68,55.50 L1133.44,55.26 L1134.19,55.02 L1134.95,54.77 L1135.70,54.53 L1136.46,54.29 L1137.22,54.05 L1137.97,53.82 L1138.73,53.58 L1139.49,53.35 L1140.24,53.12 L1141.00,52.89 L1141.75,52.67 L1142.51,52.44 L1143.27,52.22 L1144.02,52.00 L1144.78,51.78 L1145.53,51.57 L1146.29,51.35 L1147.05,51.14 L1147.80,50.93 L1148.56,50.73 L1149.31,50.52 L1150.07,50.32 L1150.83,50.12 L1151.58,49.92 L1152.34,49.72 L1153.09,49.53 L1153.85,49.33 L1154.61,49.14 L1155.36,48.95 L1156.12,48.77 L1156.88,48.58 L1157.63,48.40 L1158.39,48.22 L1159.14,48.04 L1159.90,47.86 L1160.66,47.68 L1161.41,47.51 L1162.17,47.34 L1162.92,47.17 L1163.68,47.00 L1164.44,46.83 L1165.19,46.66 L1165.95,46.50 L1166.70,46.34 L1167.46,46.17 L1168.22,46.02 L1168.97,45.86 L1169.73,45.70 L1170.48,45.55 L1171.24,45.40 L1172.00,45.25 L1172.75,45.10 L1173.51,44.95 L1174.27,44.81 L1175.02,44.66 L1175.78,44.52 L1176.53,44.39 L1177.29,44.25 L1178.05,44.11 L1178.80,43.98 L1179.56,43.85 L1180.31,43.72 L1181.07,43.60 L1181.83,43.47 L1182.58,43.35 L1183.34,43.23 L1184.09,43.11 L1184.85,43.00 L1185.61,42.88 L1186.36,42.77 L1187.12,42.66 L1187.88,42.56 L1188.63,42.45 L1189.39,42.35 L1190.14,42.25 L1190.90,42.15 L1191.66,42.06 L1192.41,41.96 L1193.17,41.87 L1193.92,41.78 L1194.68,41.69 L1195.44,41.61 L1196.19,41.52 L1196.95,41.44 L1197.70,41.36 L1198.46,41.28 L1199.22,41.20 L1199.97,41.13 L1200.73,41.05 L1201.48,40.98 L1202.24,40.91 L1203.00,40.84 L1203.75,40.78 L1204.51,40.71 L1205.27,40.64 L1206.02,40.58 L1206.78,40.52 L1207.53,40.46 L1208.29,40.40 L1209.05,40.34 L1209.80,40.28 L1210.56,40.23 L1211.31,40.17 L1212.07,40.12 L1212.83,40.07 L1213.58,40.01 L1214.34,39.96 L1215.09,39.91 L1215.85,39.87 L1216.61,39.82 L1217.36,39.77 L1218.12,39.73 L1218.88,39.68 L1219.63,39.64 L1220.39,39.60 L1221.14,39.56 L1221.90,39.52 L1222.66,39.48 L1223.41,39.44 L1224.17,39.40 L1224.92,39.37 L1225.68,39.33 L1226.44,39.30 L1227.19,39.26 L1227.95,39.23 L1228.70,39.20 L1229.46,39.17 L1230.22,39.14 L1230.97,39.11 L1231.73,39.08 L1232.48,39.05 L1233.24,39.03 L1234.00,39.00 L1234.75,38.98 L1235.51,38.95 L1236.27,38.93 L1237.02,38.90 L1237.78,38.88 L1238.53,38.86 L1239.29,38.84 L1240.05,38.82 L1240.80,38.80 L1241.56,38.78 L1242.31,38.76 L1243.07,38.74 L1243.83,38.72 L1244.58,38.71 L1245.34,38.69 L1246.09,38.67 L1246.85,38.66 L1247.61,38.64 L1248.36,38.63 L1249.12,38.61 L1249.88,38.60 L1250.63,38.58 L1251.39,38.57 L1252.14,38.55 L1252.90,38.54 L1253.66,38.53 L1254.41,38.51 L1255.17,38.50 L1255.92,38.49 L1256.68,38.48 L1257.44,38.47 L1258.19,38.45 L1258.95,38.44 L1259.70,38.43 L1260.46,38.42 L1261.22,38.41 L1261.97,38.40 L1262.73,38.39 L1263.48,38.38 L1264.24,38.37 L1265.00,38.36 L1265.75,38.35 L1266.51,38.34 L1267.27,38.33 L1268.02,38.32 L1268.78,38.32 L1269.53,38.31 L1270.29,38.30 L1271.05,38.29 L1271.80,38.29 L1272.56,38.28 L1273.31,38.27 L1274.07,38.27 L1274.83,38.26 L1275.58,38.25 L1276.34,38.25 L1277.09,38.24 L1277.85,38.24 L1278.61,38.23 L1279.36,38.23 L1280.12,38.22 L1280.88,38.22 L1281.63,38.21 L1282.39,38.21 L1283.14,38.21 L1283.90,38.20 L1284.66,38.20 L1285.41,38.20 L1286.17,38.19 L1286.92,38.19 L1287.68,38.19 L1288.44,38.19 L1289.19,38.18 L1289.95,38.18 L1290.70,38.18 L1291.46,38.18 L1292.22,38.18 L1292.97,38.18 L1293.73,38.18 L1294.48,38.17 L1295.24,38.17 L1296.00,38.17 L1296.75,38.17 L1297.51,38.17 L1298.27,38.17 L1299.02,38.17 L1299.78,38.17 L1300.53,38.17 L1301.29,38.17 L1302.05,38.17 L1302.80,38.17 L1303.56,38.17 L1304.31,38.17 L1305.07,38.17 L1305.83,38.17 L1306.58,38.17 L1307.34,38.17 L1308.09,38.17 L1308.85,38.17 L1309.61,38.16 L1310.36,38.16 L1311.12,38.16 L1311.88,38.16 L1312.63,38.16 L1313.39,38.16 L1314.14,38.16 L1314.90,38.16 L1315.66,38.16 L1316.41,38.16 L1317.17,38.16 L1317.92,38.16 L1318.68,38.16 L1319.44,38.16 L1320.19,38.16 L1320.95,38.16 L1321.70,38.16 L1322.46,38.16 L1323.22,38.16 L1323.97,38.16 L1324.73,38.16 L1325.48,38.16 L1326.24,38.16 L1327.00,38.16 L1327.75,38.16 L1328.51,38.16 L1329.27,38.16 L1330.02,38.16 L1330.78,38.16 L1331.53,38.16 L1332.29,38.16 L1333.05,38.16 L1333.80,38.16" fill="none" stroke="#EDB120" stroke-width="5.6" stroke-dasharray="22.4 22.4" stroke-linejoin="round"/>
<text x="0" y="0" font-family="Liberation Serif" font-size="38" text-anchor="middle" transform="translate(795.30,75.45) rotate(-90)">x [m]</text>
<line x1="882.50" y1="296.20" x2="882.50" y2="290.70" stroke="#333333" stroke-width="1.3"/>
<line x1="882.50" y1="183.60" x2="882.50" y2="189.10" stroke="#333333" stroke-width="1.3"/>
<line x1="999.30" y1="296.20" x2="999.30" y2="290.70" stroke="#333333" stroke-width="1.3"/>
<line x1="999.30" y1="183.60" x2="999.30" y2="189.10" stroke="#333333" stroke-width="1.3"/>
<line x1="1116.09" y1="296.20" x2="1116.09" y2="290.70" stroke="#333333" stroke-width="1.3"/>
<line x1="1116.09" y1="183.60" x2="1116.09" y2="189.10" stroke="#333333" stroke-width="1.3"/>
<line x1="1232.89" y1="296.20" x2="1232.89" y2="290.70" stroke="#333333" stroke-width="1.3"/>
<line x1="1232.89" y1="183.60" x2="1232.89" y2="189.10" stroke="#333333" stroke-width="1.3"/>
<line x1="1349.68" y1="296.20" x2="1349.68" y2="290.70" stroke="#333333" stroke-width="1.3"/>
<line x1="1349.68" y1="183.60" x2="1349.68" y2="189.10" stroke="#333333" stroke-width="1.3"/>
<line x1="882.50" y1="296.20" x2="888.00" y2="296.20" stroke="#333333" stroke-width="1.3"/>
<line x1="1396.40" y1="296.20" x2="1390.90" y2="296.20" stroke="#333333" stroke-width="1.3"/>
<line x1="882.50" y1="239.90" x2="888.00" y2="239.90" stroke="#333333" stroke-width="1.3"/>
<line x1="1396.40" y1="239.90" x2="1390.90" y2="239.90" stroke="#333333" stroke-width="1.3"/>
<line x1="882.50" y1="183.60" x2="888.00" y2="183.60" stroke="#333333" stroke-width="1.3"/>
<line x1="1396.40" y1="183.60" x2="1390.90" y2="183.60" stroke="#333333" stroke-width="1.3"/>
<rect x="882.50" y="183.60" width="513.90" height="112.60" fill="none" stroke="#333333" stroke-width="1.3"/>
<text x="882.50" y="341.20" font-family="Liberation Serif" font-size="34.6" font-weight="400" text-anchor="middle" fill="#000">0</text>
<text x="999.30" y="341.20" font-family="Liberation Serif" font-size="34.6" font-weight="400" text-anchor="middle" fill="#000">0.5</text>
<text x="1116.09" y="341.20" font-family="Liberation Serif" font-size="34.6" font-weight="400" text-anchor="middle" fill="#000">1</text>
<text x="1232.89" y="341.20" font-family="Liberation Serif" font-size="34.6" font-weight="400" text-anchor="middle" fill="#000">1.5</text>
<text x="1349.68" y="341.20" font-family="Liberation Serif" font-size="34.6" font-weight="400" text-anchor="middle" fill="#000">2</text>
<text x="869.00" y="308.20" font-family="Liberation Serif" font-size="34.6" font-weight="400" text-anchor="end" fill="#000">0.6</text>
<text x="869.00" y="251.90" font-family="Liberation Serif" font-size="34.6" font-weight="400" text-anchor="end" fill="#000">0.8</text>
<text x="869.00" y="195.60" font-family="Liberation Serif" font-size="34.6" font-weight="400" text-anchor="end" fill="#000">1</text>
<path d="M882.50,196.40 L883.26,196.39 L884.02,196.38 L884.78,196.36 L885.54,196.35 L886.30,196.33 L887.06,196.32 L887.82,196.30 L888.58,196.29 L889.34,196.27 L890.10,196.25 L890.86,196.24 L891.63,196.22 L892.39,196.20 L893.15,196.18 L893.91,196.16 L894.67,196.14 L895.43,196.12 L896.19,196.10 L896.95,196.08 L897.71,196.06 L898.47,196.04 L899.23,196.02 L899.99,196.00 L900.75,195.98 L901.51,195.96 L902.27,195.94 L903.03,195.92 L903.79,195.90 L904.55,195.88 L905.31,195.86 L906.07,195.84 L906.83,195.82 L907.59,195.80 L908.35,195.78 L909.12,195.76 L909.88,195.74 L910.64,195.72 L911.40,195.70 L912.16,195.68 L912.92,195.66 L913.68,195.64 L914.44,195.62 L915.20,195.61 L915.96,195.59 L916.72,195.57 L917.48,195.55 L918.24,195.53 L919.00,195.51 L919.76,195.50 L920.52,195.48 L921.28,195.46 L922.04,195.44 L922.80,195.43 L923.56,195.41 L924.32,195.39 L925.08,195.38 L925.84,195.36 L926.61,195.34 L927.37,195.33 L928.13,195.31 L928.89,195.30 L929.65,195.28 L930.41,195.27 L931.17,195.25 L931.93,195.24 L932.69,195.22 L933.45,195.21 L934.21,195.19 L934.97,195.18 L935.73,195.16 L936.49,195.15 L937.25,195.13 L938.01,195.12 L938.77,195.11 L939.53,195.09 L940.29,195.08 L941.05,195.07 L941.81,195.05 L942.57,195.04 L943.34,195.03 L944.10,195.01 L944.86,195.00 L945.62,194.99 L946.38,194.97 L947.14,194.96 L947.90,194.95 L948.66,194.94 L949.42,194.92 L950.18,194.91 L950.94,194.90 L951.70,194.89 L952.46,194.88 L953.22,194.87 L953.98,194.86 L954.74,194.84 L955.50,194.83 L956.26,194.82 L957.02,194.81 L957.78,194.80 L958.54,194.79 L959.30,194.78 L960.06,194.78 L960.83,194.77 L961.59,194.76 L962.35,194.75 L963.11,194.74 L963.87,194.74 L964.63,194.73 L965.39,194.73 L966.15,194.72 L966.91,194.72 L967.67,194.71 L968.43,194.71 L969.19,194.71 L969.95,194.71 L970.71,194.71 L971.47,194.71 L972.23,194.71 L972.99,194.71 L973.75,194.72 L974.51,194.72 L975.27,194.73 L976.03,194.73 L976.79,194.74 L977.55,194.75 L978.32,194.77 L979.08,194.78 L979.84,194.79 L980.60,194.81 L981.36,194.83 L982.12,194.85 L982.88,194.87 L983.64,194.89 L984.40,194.92 L985.16,194.95 L985.92,194.98 L986.68,195.01 L987.44,195.04 L988.20,195.08 L988.96,195.11 L989.72,195.15 L990.48,195.19 L991.24,195.24 L992.00,195.28 L992.76,195.33 L993.52,195.38 L994.28,195.43 L995.04,195.48 L995.81,195.54 L996.57,195.59 L997.33,195.65 L998.09,195.71 L998.85,195.78 L999.61,195.84 L1000.37,195.91 L1001.13,195.97 L1001.89,196.04 L1002.65,196.12 L1003.41,196.19 L1004.17,196.27 L1004.93,196.34 L1005.69,196.42 L1006.45,196.50 L1007.21,196.59 L1007.97,196.67 L1008.73,196.76 L1009.49,196.85 L1010.25,196.94 L1011.01,197.03 L1011.77,197.12 L1012.53,197.22 L1013.30,197.32 L1014.06,197.42 L1014.82,197.52 L1015.58,197.62 L1016.34,197.73 L1017.10,197.84 L1017.86,197.95 L1018.62,198.07 L1019.38,198.18 L1020.14,198.30 L1020.90,198.42 L1021.66,198.55 L1022.42,198.67 L1023.18,198.80 L1023.94,198.93 L1024.70,199.07 L1025.46,199.21 L1026.22,199.35 L1026.98,199.49 L1027.74,199.64 L1028.50,199.78 L1029.26,199.94 L1030.02,200.09 L1030.79,200.25 L1031.55,200.41 L1032.31,200.58 L1033.07,200.75 L1033.83,200.92 L1034.59,201.10 L1035.35,201.28 L1036.11,201.46 L1036.87,201.65 L1037.63,201.84 L1038.39,202.04 L1039.15,202.24 L1039.91,202.44 L1040.67,202.65 L1041.43,202.87 L1042.19,203.08 L1042.95,203.30 L1043.71,203.53 L1044.47,203.76 L1045.23,203.99 L1045.99,204.23 L1046.75,204.47 L1047.52,204.72 L1048.28,204.97 L1049.04,205.23 L1049.80,205.49 L1050.56,205.75 L1051.32,206.02 L1052.08,206.29 L1052.84,206.56 L1053.60,206.84 L1054.36,207.13 L1055.12,207.41 L1055.88,207.70 L1056.64,208.00 L1057.40,208.30 L1058.16,208.60 L1058.92,208.90 L1059.68,209.21 L1060.44,209.52 L1061.20,209.83 L1061.96,210.15 L1062.72,210.47 L1063.48,210.79 L1064.24,211.12 L1065.01,211.44 L1065.77,211.77 L1066.53,212.11 L1067.29,212.44 L1068.05,212.78 L1068.81,213.12 L1069.57,213.46 L1070.33,213.81 L1071.09,214.16 L1071.85,214.51 L1072.61,214.86 L1073.37,215.21 L1074.13,215.57 L1074.89,215.93 L1075.65,216.29 L1076.41,216.65 L1077.17,217.01 L1077.93,217.38 L1078.69,217.75 L1079.45,218.11 L1080.21,218.49 L1080.97,218.86 L1081.73,219.23 L1082.50,219.61 L1083.26,219.99 L1084.02,220.37 L1084.78,220.75 L1085.54,221.13 L1086.30,221.51 L1087.06,221.90 L1087.82,222.28 L1088.58,222.67 L1089.34,223.06 L1090.10,223.44 L1090.86,223.83 L1091.62,224.23 L1092.38,224.62 L1093.14,225.01 L1093.90,225.40 L1094.66,225.80 L1095.42,226.19 L1096.18,226.59 L1096.94,226.98 L1097.70,227.38 L1098.46,227.78 L1099.22,228.17 L1099.99,228.57 L1100.75,228.97 L1101.51,229.37 L1102.27,229.77 L1103.03,230.17 L1103.79,230.57 L1104.55,230.97 L1105.31,231.37 L1106.07,231.77 L1106.83,232.16 L1107.59,232.56 L1108.35,232.96 L1109.11,233.36 L1109.87,233.76 L1110.63,234.16 L1111.39,234.56 L1112.15,234.96 L1112.91,235.35 L1113.67,235.75 L1114.43,236.15 L1115.19,236.54 L1115.95,236.94 L1116.71,237.33 L1117.48,237.72 L1118.24,238.11 L1119.00,238.51 L1119.76,238.90 L1120.52,239.28 L1121.28,239.67 L1122.04,240.06 L1122.80,240.45 L1123.56,240.83 L1124.32,241.21 L1125.08,241.60 L1125.84,241.98 L1126.60,242.36 L1127.36,242.74 L1128.12,243.11 L1128.88,243.49 L1129.64,243.86 L1130.40,244.24 L1131.16,244.61 L1131.92,244.98 L1132.68,245.35 L1133.44,245.71 L1134.20,246.08 L1134.97,246.44 L1135.73,246.81 L1136.49,247.17 L1137.25,247.53 L1138.01,247.89 L1138.77,248.25 L1139.53,248.60 L1140.29,248.96 L1141.05,249.31 L1141.81,249.66 L1142.57,250.01 L1143.33,250.36 L1144.09,250.70 L1144.85,251.05 L1145.61,251.39 L1146.37,251.73 L1147.13,252.07 L1147.89,252.41 L1148.65,252.75 L1149.41,253.08 L1150.17,253.42 L1150.93,253.75 L1151.69,254.08 L1152.46,254.41 L1153.22,254.74 L1153.98,255.06 L1154.74,255.38 L1155.50,255.71 L1156.26,256.02 L1157.02,256.34 L1157.78,256.66 L1158.54,256.97 L1159.30,257.28 L1160.06,257.59 L1160.82,257.90 L1161.58,258.21 L1162.34,258.51 L1163.10,258.81 L1163.86,259.11 L1164.62,259.41 L1165.38,259.70 L1166.14,259.99 L1166.90,260.28 L1167.66,260.57 L1168.42,260.85 L1169.19,261.13 L1169.95,261.41 L1170.71,261.69 L1171.47,261.96 L1172.23,262.23 L1172.99,262.50 L1173.75,262.76 L1174.51,263.02 L1175.27,263.28 L1176.03,263.54 L1176.79,263.79 L1177.55,264.04 L1178.31,264.28 L1179.07,264.52 L1179.83,264.76 L1180.59,265.00 L1181.35,265.23 L1182.11,265.46 L1182.87,265.69 L1183.63,265.91 L1184.39,266.14 L1185.15,266.35 L1185.91,266.57 L1186.68,266.78 L1187.44,266.99 L1188.20,267.19 L1188.96,267.39 L1189.72,267.59 L1190.48,267.79 L1191.24,267.98 L1192.00,268.17 L1192.76,268.35 L1193.52,268.54 L1194.28,268.72 L1195.04,268.89 L1195.80,269.07 L1196.56,269.24 L1197.32,269.40 L1198.08,269.57 L1198.84,269.73 L1199.60,269.88 L1200.36,270.04 L1201.12,270.19 L1201.88,270.34 L1202.64,270.48 L1203.40,270.62 L1204.17,270.76 L1204.93,270.90 L1205.69,271.03 L1206.45,271.16 L1207.21,271.29 L1207.97,271.41 L1208.73,271.53 L1209.49,271.65 L1210.25,271.76 L1211.01,271.87 L1211.77,271.98 L1212.53,272.09 L1213.29,272.19 L1214.05,272.29 L1214.81,272.39 L1215.57,272.49 L1216.33,272.58 L1217.09,272.67 L1217.85,272.76 L1218.61,272.85 L1219.37,272.93 L1220.13,273.01 L1220.89,273.09 L1221.66,273.16 L1222.42,273.24 L1223.18,273.31 L1223.94,273.38 L1224.70,273.44 L1225.46,273.51 L1226.22,273.57 L1226.98,273.63 L1227.74,273.69 L1228.50,273.74 L1229.26,273.79 L1230.02,273.84 L1230.78,273.89 L1231.54,273.94 L1232.30,273.98 L1233.06,274.02 L1233.82,274.06 L1234.58,274.10 L1235.34,274.13 L1236.10,274.16 L1236.86,274.19 L1237.62,274.22 L1238.38,274.25 L1239.15,274.28 L1239.91,274.30 L1240.67,274.32 L1241.43,274.34 L1242.19,274.36 L1242.95,274.38 L1243.71,274.39 L1244.47,274.41 L1245.23,274.42 L1245.99,274.43 L1246.75,274.44 L1247.51,274.45 L1248.27,274.46 L1249.03,274.47 L1249.79,274.47 L1250.55,274.48 L1251.31,274.49 L1252.07,274.49 L1252.83,274.50 L1253.59,274.50 L1254.35,274.50 L1255.11,274.51 L1255.87,274.51 L1256.64,274.51 L1257.40,274.51 L1258.16,274.51 L1258.92,274.51 L1259.68,274.52 L1260.44,274.52 L1261.20,274.52 L1261.96,274.52 L1262.72,274.52 L1263.48,274.52 L1264.24,274.52 L1265.00,274.52 L1265.76,274.51 L1266.52,274.51 L1267.28,274.51 L1268.04,274.51 L1268.80,274.51 L1269.56,274.51 L1270.32,274.50 L1271.08,274.50 L1271.84,274.50 L1272.60,274.49 L1273.37,274.49 L1274.13,274.48 L1274.89,274.48 L1275.65,274.47 L1276.41,274.47 L1277.17,274.46 L1277.93,274.45 L1278.69,274.45 L1279.45,274.44 L1280.21,274.43 L1280.97,274.42 L1281.73,274.41 L1282.49,274.39 L1283.25,274.38 L1284.01,274.37 L1284.77,274.36 L1285.53,274.34 L1286.29,274.33 L1287.05,274.31 L1287.81,274.29 L1288.57,274.27 L1289.33,274.26 L1290.09,274.24 L1290.86,274.22 L1291.62,274.20 L1292.38,274.18 L1293.14,274.15 L1293.90,274.13 L1294.66,274.11 L1295.42,274.09 L1296.18,274.06 L1296.94,274.04 L1297.70,274.02 L1298.46,273.99 L1299.22,273.97 L1299.98,273.95 L1300.74,273.92 L1301.50,273.90 L1302.26,273.87 L1303.02,273.85 L1303.78,273.83 L1304.54,273.80 L1305.30,273.78 L1306.06,273.76 L1306.82,273.74 L1307.58,273.72 L1308.35,273.70 L1309.11,273.68 L1309.87,273.66 L1310.63,273.64 L1311.39,273.62 L1312.15,273.61 L1312.91,273.59 L1313.67,273.58 L1314.43,273.56 L1315.19,273.55 L1315.95,273.54 L1316.71,273.52 L1317.47,273.51 L1318.23,273.50 L1318.99,273.49 L1319.75,273.48 L1320.51,273.47 L1321.27,273.47 L1322.03,273.46 L1322.79,273.45 L1323.55,273.45 L1324.31,273.44 L1325.07,273.44 L1325.84,273.43 L1326.60,273.43 L1327.36,273.42 L1328.12,273.42 L1328.88,273.42 L1329.64,273.42 L1330.40,273.41 L1331.16,273.41 L1331.92,273.41 L1332.68,273.41 L1333.44,273.41 L1334.20,273.41 L1334.96,273.40 L1335.72,273.40 L1336.48,273.40 L1337.24,273.40 L1338.00,273.40" fill="none" stroke="#0072BD" stroke-width="5.6" stroke-linejoin="round"/>
<path d="M882.50,196.39 L883.34,196.37 L884.18,196.36 L885.01,196.34 L885.85,196.32 L886.69,196.30 L887.53,196.29 L888.36,196.27 L889.20,196.25 L890.04,196.23 L890.88,196.21 L891.71,196.18 L892.55,196.16 L893.39,196.14 L894.23,196.12 L895.06,196.10 L895.90,196.07 L896.74,196.05 L897.58,196.02 L898.42,196.00 L899.25,195.98 L900.09,195.95 L900.93,195.93 L901.77,195.91 L902.60,195.88 L903.44,195.86 L904.28,195.83 L905.12,195.81 L905.95,195.79 L906.79,195.77 L907.63,195.74 L908.47,195.72 L909.30,195.70 L910.14,195.68 L910.98,195.65 L911.82,195.63 L912.66,195.61 L913.49,195.59 L914.33,195.57 L915.17,195.55 L916.01,195.53 L916.84,195.51 L917.68,195.49 L918.52,195.47 L919.36,195.46 L920.19,195.44 L921.03,195.42 L921.87,195.40 L922.71,195.39 L923.54,195.37 L924.38,195.35 L925.22,195.34 L926.06,195.32 L926.90,195.31 L927.73,195.30 L928.57,195.28 L929.41,195.27 L930.25,195.25 L931.08,195.24 L931.92,195.23 L932.76,195.22 L933.60,195.21 L934.43,195.19 L935.27,195.18 L936.11,195.17 L936.95,195.16 L937.79,195.15 L938.62,195.14 L939.46,195.13 L940.30,195.12 L941.14,195.11 L941.97,195.10 L942.81,195.09 L943.65,195.08 L944.49,195.08 L945.32,195.07 L946.16,195.06 L947.00,195.05 L947.84,195.04 L948.67,195.04 L949.51,195.03 L950.35,195.02 L951.19,195.01 L952.03,195.01 L952.86,195.00 L953.70,194.99 L954.54,194.99 L955.38,194.98 L956.21,194.98 L957.05,194.97 L957.89,194.97 L958.73,194.96 L959.56,194.95 L960.40,194.95 L961.24,194.95 L962.08,194.94 L962.91,194.94 L963.75,194.93 L964.59,194.93 L965.43,194.93 L966.27,194.92 L967.10,194.92 L967.94,194.92 L968.78,194.92 L969.62,194.91 L970.45,194.91 L971.29,194.91 L972.13,194.91 L972.97,194.91 L973.80,194.91 L974.64,194.91 L975.48,194.92 L976.32,194.92 L977.15,194.92 L977.99,194.93 L978.83,194.93 L979.67,194.93 L980.51,194.94 L981.34,194.95 L982.18,194.95 L983.02,194.96 L983.86,194.97 L984.69,194.98 L985.53,194.99 L986.37,195.00 L987.21,195.02 L988.04,195.03 L988.88,195.05 L989.72,195.06 L990.56,195.08 L991.39,195.09 L992.23,195.11 L993.07,195.13 L993.91,195.15 L994.75,195.17 L995.58,195.20 L996.42,195.22 L997.26,195.24 L998.10,195.27 L998.93,195.30 L999.77,195.32 L1000.61,195.35 L1001.45,195.38 L1002.28,195.41 L1003.12,195.44 L1003.96,195.47 L1004.80,195.50 L1005.63,195.53 L1006.47,195.57 L1007.31,195.60 L1008.15,195.64 L1008.99,195.67 L1009.82,195.71 L1010.66,195.75 L1011.50,195.79 L1012.34,195.82 L1013.17,195.86 L1014.01,195.90 L1014.85,195.94 L1015.69,195.99 L1016.52,196.03 L1017.36,196.07 L1018.20,196.11 L1019.04,196.16 L1019.87,196.20 L1020.71,196.25 L1021.55,196.30 L1022.39,196.34 L1023.23,196.39 L1024.06,196.44 L1024.90,196.49 L1025.74,196.54 L1026.58,196.59 L1027.41,196.64 L1028.25,196.70 L1029.09,196.75 L1029.93,196.81 L1030.76,196.86 L1031.60,196.92 L1032.44,196.98 L1033.28,197.04 L1034.11,197.10 L1034.95,197.16 L1035.79,197.22 L1036.63,197.29 L1037.47,197.35 L1038.30,197.42 L1039.14,197.49 L1039.98,197.56 L1040.82,197.63 L1041.65,197.70 L1042.49,197.78 L1043.33,197.85 L1044.17,197.93 L1045.00,198.00 L1045.84,198.08 L1046.68,198.16 L1047.52,198.25 L1048.36,198.33 L1049.19,198.41 L1050.03,198.50 L1050.87,198.59 L1051.71,198.68 L1052.54,198.77 L1053.38,198.86 L1054.22,198.95 L1055.06,199.05 L1055.89,199.15 L1056.73,199.24 L1057.57,199.34 L1058.41,199.44 L1059.24,199.55 L1060.08,199.65 L1060.92,199.76 L1061.76,199.87 L1062.60,199.98 L1063.43,200.09 L1064.27,200.20 L1065.11,200.32 L1065.95,200.44 L1066.78,200.56 L1067.62,200.68 L1068.46,200.80 L1069.30,200.93 L1070.13,201.06 L1070.97,201.19 L1071.81,201.32 L1072.65,201.46 L1073.48,201.60 L1074.32,201.74 L1075.16,201.88 L1076.00,202.03 L1076.84,202.18 L1077.67,202.33 L1078.51,202.48 L1079.35,202.64 L1080.19,202.80 L1081.02,202.96 L1081.86,203.12 L1082.70,203.29 L1083.54,203.46 L1084.37,203.63 L1085.21,203.81 L1086.05,203.99 L1086.89,204.17 L1087.72,204.35 L1088.56,204.54 L1089.40,204.72 L1090.24,204.91 L1091.08,205.11 L1091.91,205.30 L1092.75,205.50 L1093.59,205.70 L1094.43,205.90 L1095.26,206.10 L1096.10,206.30 L1096.94,206.51 L1097.78,206.72 L1098.61,206.93 L1099.45,207.14 L1100.29,207.35 L1101.13,207.57 L1101.96,207.78 L1102.80,208.00 L1103.64,208.22 L1104.48,208.44 L1105.32,208.66 L1106.15,208.88 L1106.99,209.11 L1107.83,209.33 L1108.67,209.56 L1109.50,209.78 L1110.34,210.01 L1111.18,210.24 L1112.02,210.47 L1112.85,210.70 L1113.69,210.93 L1114.53,211.16 L1115.37,211.40 L1116.20,211.63 L1117.04,211.87 L1117.88,212.11 L1118.72,212.34 L1119.56,212.58 L1120.39,212.83 L1121.23,213.07 L1122.07,213.31 L1122.91,213.55 L1123.74,213.80 L1124.58,214.05 L1125.42,214.29 L1126.26,214.54 L1127.09,214.79 L1127.93,215.05 L1128.77,215.30 L1129.61,215.55 L1130.44,215.81 L1131.28,216.07 L1132.12,216.32 L1132.96,216.58 L1133.80,216.84 L1134.63,217.11 L1135.47,217.37 L1136.31,217.64 L1137.15,217.90 L1137.98,218.17 L1138.82,218.44 L1139.66,218.71 L1140.50,218.98 L1141.33,219.26 L1142.17,219.53 L1143.01,219.81 L1143.85,220.09 L1144.68,220.36 L1145.52,220.65 L1146.36,220.93 L1147.20,221.21 L1148.04,221.50 L1148.87,221.78 L1149.71,222.07 L1150.55,222.36 L1151.39,222.65 L1152.22,222.94 L1153.06,223.24 L1153.90,223.53 L1154.74,223.83 L1155.57,224.13 L1156.41,224.43 L1157.25,224.74 L1158.09,225.04 L1158.93,225.35 L1159.76,225.65 L1160.60,225.96 L1161.44,226.28 L1162.28,226.59 L1163.11,226.90 L1163.95,227.22 L1164.79,227.54 L1165.63,227.86 L1166.46,228.18 L1167.30,228.50 L1168.14,228.82 L1168.98,229.15 L1169.81,229.47 L1170.65,229.80 L1171.49,230.13 L1172.33,230.46 L1173.17,230.79 L1174.00,231.12 L1174.84,231.46 L1175.68,231.79 L1176.52,232.12 L1177.35,232.46 L1178.19,232.79 L1179.03,233.13 L1179.87,233.46 L1180.70,233.80 L1181.54,234.13 L1182.38,234.47 L1183.22,234.80 L1184.05,235.14 L1184.89,235.47 L1185.73,235.81 L1186.57,236.14 L1187.41,236.47 L1188.24,236.80 L1189.08,237.14 L1189.92,237.47 L1190.76,237.80 L1191.59,238.12 L1192.43,238.45 L1193.27,238.78 L1194.11,239.10 L1194.94,239.43 L1195.78,239.75 L1196.62,240.07 L1197.46,240.39 L1198.29,240.71 L1199.13,241.03 L1199.97,241.35 L1200.81,241.67 L1201.65,241.98 L1202.48,242.30 L1203.32,242.61 L1204.16,242.92 L1205.00,243.23 L1205.83,243.54 L1206.67,243.85 L1207.51,244.16 L1208.35,244.47 L1209.18,244.77 L1210.02,245.07 L1210.86,245.38 L1211.70,245.68 L1212.53,245.98 L1213.37,246.28 L1214.21,246.58 L1215.05,246.88 L1215.89,247.17 L1216.72,247.47 L1217.56,247.76 L1218.40,248.05 L1219.24,248.34 L1220.07,248.63 L1220.91,248.92 L1221.75,249.21 L1222.59,249.49 L1223.42,249.77 L1224.26,250.06 L1225.10,250.34 L1225.94,250.62 L1226.77,250.89 L1227.61,251.17 L1228.45,251.44 L1229.29,251.71 L1230.13,251.99 L1230.96,252.25 L1231.80,252.52 L1232.64,252.79 L1233.48,253.05 L1234.31,253.31 L1235.15,253.57 L1235.99,253.83 L1236.83,254.09 L1237.66,254.34 L1238.50,254.60 L1239.34,254.85 L1240.18,255.10 L1241.01,255.35 L1241.85,255.59 L1242.69,255.84 L1243.53,256.08 L1244.37,256.33 L1245.20,256.57 L1246.04,256.81 L1246.88,257.04 L1247.72,257.28 L1248.55,257.51 L1249.39,257.75 L1250.23,257.98 L1251.07,258.21 L1251.90,258.44 L1252.74,258.66 L1253.58,258.89 L1254.42,259.11 L1255.25,259.34 L1256.09,259.56 L1256.93,259.78 L1257.77,259.99 L1258.61,260.21 L1259.44,260.42 L1260.28,260.64 L1261.12,260.85 L1261.96,261.06 L1262.79,261.26 L1263.63,261.47 L1264.47,261.67 L1265.31,261.87 L1266.14,262.07 L1266.98,262.27 L1267.82,262.47 L1268.66,262.66 L1269.50,262.85 L1270.33,263.04 L1271.17,263.23 L1272.01,263.42 L1272.85,263.60 L1273.68,263.78 L1274.52,263.96 L1275.36,264.14 L1276.20,264.31 L1277.03,264.49 L1277.87,264.66 L1278.71,264.83 L1279.55,265.00 L1280.38,265.16 L1281.22,265.33 L1282.06,265.49 L1282.90,265.65 L1283.74,265.81 L1284.57,265.96 L1285.41,266.12 L1286.25,266.27 L1287.09,266.42 L1287.92,266.57 L1288.76,266.72 L1289.60,266.87 L1290.44,267.01 L1291.27,267.16 L1292.11,267.30 L1292.95,267.44 L1293.79,267.58 L1294.62,267.72 L1295.46,267.85 L1296.30,267.99 L1297.14,268.12 L1297.98,268.25 L1298.81,268.38 L1299.65,268.51 L1300.49,268.63 L1301.33,268.76 L1302.16,268.88 L1303.00,269.00 L1303.84,269.12 L1304.68,269.24 L1305.51,269.36 L1306.35,269.48 L1307.19,269.59 L1308.03,269.70 L1308.86,269.81 L1309.70,269.92 L1310.54,270.02 L1311.38,270.13 L1312.22,270.23 L1313.05,270.33 L1313.89,270.43 L1314.73,270.52 L1315.57,270.62 L1316.40,270.71 L1317.24,270.80 L1318.08,270.89 L1318.92,270.97 L1319.75,271.06 L1320.59,271.14 L1321.43,271.22 L1322.27,271.29 L1323.10,271.37 L1323.94,271.45 L1324.78,271.52 L1325.62,271.59 L1326.46,271.66 L1327.29,271.72 L1328.13,271.79 L1328.97,271.85 L1329.81,271.91 L1330.64,271.98 L1331.48,272.03 L1332.32,272.09 L1333.16,272.15 L1333.99,272.20 L1334.83,272.26 L1335.67,272.31 L1336.51,272.36 L1337.34,272.41 L1338.18,272.46 L1339.02,272.51 L1339.86,272.55 L1340.70,272.60 L1341.53,272.64 L1342.37,272.69 L1343.21,272.73 L1344.05,272.77 L1344.88,272.81 L1345.72,272.85 L1346.56,272.89 L1347.40,272.93 L1348.23,272.96 L1349.07,273.00 L1349.91,273.03 L1350.75,273.07 L1351.58,273.10 L1352.42,273.13 L1353.26,273.16 L1354.10,273.19 L1354.94,273.22 L1355.77,273.25 L1356.61,273.28 L1357.45,273.30 L1358.29,273.33 L1359.12,273.35 L1359.96,273.37 L1360.80,273.40 L1361.64,273.42 L1362.47,273.44 L1363.31,273.46 L1364.15,273.47 L1364.99,273.49 L1365.82,273.51 L1366.66,273.52 L1367.50,273.54 L1368.34,273.55 L1369.18,273.56 L1370.01,273.57 L1370.85,273.58 L1371.69,273.59 L1372.53,273.60 L1373.36,273.61 L1374.20,273.62 L1375.04,273.62 L1375.88,273.63 L1376.71,273.64 L1377.55,273.64 L1378.39,273.65 L1379.23,273.65 L1380.07,273.65 L1380.90,273.66 L1381.74,273.66 L1382.58,273.66 L1383.42,273.67 L1384.25,273.67" fill="none" stroke="#D95319" stroke-width="5.6" stroke-dasharray="22.4 22.4" stroke-linejoin="round"/>
<path d="M882.50,196.39 L883.26,196.37 L884.02,196.36 L884.78,196.34 L885.54,196.33 L886.30,196.31 L887.06,196.30 L887.82,196.28 L888.58,196.26 L889.34,196.24 L890.10,196.23 L890.86,196.21 L891.63,196.19 L892.39,196.17 L893.15,196.15 L893.91,196.13 L894.67,196.11 L895.43,196.09 L896.19,196.06 L896.95,196.04 L897.71,196.02 L898.47,196.00 L899.23,195.98 L899.99,195.96 L900.75,195.93 L901.51,195.91 L902.27,195.89 L903.03,195.87 L903.79,195.85 L904.55,195.83 L905.31,195.81 L906.07,195.79 L906.83,195.76 L907.59,195.74 L908.35,195.72 L909.12,195.70 L909.88,195.68 L910.64,195.66 L911.40,195.64 L912.16,195.62 L912.92,195.61 L913.68,195.59 L914.44,195.57 L915.20,195.55 L915.96,195.53 L916.72,195.51 L917.48,195.50 L918.24,195.48 L919.00,195.46 L919.76,195.45 L920.52,195.43 L921.28,195.42 L922.04,195.40 L922.80,195.39 L923.56,195.37 L924.32,195.36 L925.08,195.34 L925.84,195.33 L926.61,195.31 L927.37,195.30 L928.13,195.29 L928.89,195.28 L929.65,195.26 L930.41,195.25 L931.17,195.24 L931.93,195.23 L932.69,195.22 L933.45,195.21 L934.21,195.20 L934.97,195.19 L935.73,195.18 L936.49,195.17 L937.25,195.16 L938.01,195.15 L938.77,195.14 L939.53,195.13 L940.29,195.12 L941.05,195.11 L941.81,195.10 L942.57,195.10 L943.34,195.09 L944.10,195.08 L944.86,195.07 L945.62,195.06 L946.38,195.06 L947.14,195.05 L947.90,195.04 L948.66,195.04 L949.42,195.03 L950.18,195.02 L950.94,195.02 L951.70,195.01 L952.46,195.00 L953.22,195.00 L953.98,194.99 L954.74,194.99 L955.50,194.98 L956.26,194.98 L957.02,194.97 L957.78,194.97 L958.54,194.96 L959.30,194.96 L960.06,194.95 L960.83,194.95 L961.59,194.94 L962.35,194.94 L963.11,194.94 L963.87,194.93 L964.63,194.93 L965.39,194.93 L966.15,194.93 L966.91,194.92 L967.67,194.92 L968.43,194.92 L969.19,194.92 L969.95,194.92 L970.71,194.92 L971.47,194.92 L972.23,194.92 L972.99,194.92 L973.75,194.92 L974.51,194.93 L975.27,194.93 L976.03,194.93 L976.79,194.94 L977.55,194.94 L978.32,194.95 L979.08,194.96 L979.84,194.96 L980.60,194.97 L981.36,194.98 L982.12,194.99 L982.88,195.00 L983.64,195.02 L984.40,195.03 L985.16,195.04 L985.92,195.06 L986.68,195.08 L987.44,195.09 L988.20,195.11 L988.96,195.13 L989.72,195.15 L990.48,195.18 L991.24,195.20 L992.00,195.22 L992.76,195.25 L993.52,195.28 L994.28,195.30 L995.04,195.33 L995.81,195.36 L996.57,195.39 L997.33,195.43 L998.09,195.46 L998.85,195.50 L999.61,195.53 L1000.37,195.57 L1001.13,195.61 L1001.89,195.65 L1002.65,195.69 L1003.41,195.73 L1004.17,195.77 L1004.93,195.82 L1005.69,195.86 L1006.45,195.91 L1007.21,195.96 L1007.97,196.00 L1008.73,196.05 L1009.49,196.10 L1010.25,196.15 L1011.01,196.21 L1011.77,196.26 L1012.53,196.31 L1013.30,196.37 L1014.06,196.42 L1014.82,196.48 L1015.58,196.54 L1016.34,196.60 L1017.10,196.66 L1017.86,196.72 L1018.62,196.78 L1019.38,196.85 L1020.14,196.91 L1020.90,196.98 L1021.66,197.05 L1022.42,197.12 L1023.18,197.19 L1023.94,197.26 L1024.70,197.33 L1025.46,197.41 L1026.22,197.48 L1026.98,197.56 L1027.74,197.64 L1028.50,197.72 L1029.26,197.81 L1030.02,197.89 L1030.79,197.98 L1031.55,198.07 L1032.31,198.16 L1033.07,198.25 L1033.83,198.35 L1034.59,198.44 L1035.35,198.54 L1036.11,198.64 L1036.87,198.74 L1037.63,198.85 L1038.39,198.96 L1039.15,199.07 L1039.91,199.18 L1040.67,199.29 L1041.43,199.41 L1042.19,199.52 L1042.95,199.64 L1043.71,199.76 L1044.47,199.89 L1045.23,200.01 L1045.99,200.14 L1046.75,200.27 L1047.52,200.40 L1048.28,200.54 L1049.04,200.67 L1049.80,200.81 L1050.56,200.95 L1051.32,201.09 L1052.08,201.23 L1052.84,201.38 L1053.60,201.52 L1054.36,201.67 L1055.12,201.82 L1055.88,201.97 L1056.64,202.13 L1057.40,202.28 L1058.16,202.44 L1058.92,202.59 L1059.68,202.75 L1060.44,202.91 L1061.20,203.08 L1061.96,203.24 L1062.72,203.41 L1063.48,203.57 L1064.24,203.74 L1065.01,203.91 L1065.77,204.08 L1066.53,204.26 L1067.29,204.43 L1068.05,204.61 L1068.81,204.79 L1069.57,204.97 L1070.33,205.15 L1071.09,205.33 L1071.85,205.52 L1072.61,205.70 L1073.37,205.89 L1074.13,206.08 L1074.89,206.28 L1075.65,206.47 L1076.41,206.67 L1077.17,206.86 L1077.93,207.06 L1078.69,207.27 L1079.45,207.47 L1080.21,207.68 L1080.97,207.88 L1081.73,208.09 L1082.50,208.31 L1083.26,208.52 L1084.02,208.73 L1084.78,208.95 L1085.54,209.17 L1086.30,209.39 L1087.06,209.62 L1087.82,209.84 L1088.58,210.07 L1089.34,210.30 L1090.10,210.53 L1090.86,210.77 L1091.62,211.00 L1092.38,211.24 L1093.14,211.48 L1093.90,211.72 L1094.66,211.96 L1095.42,212.20 L1096.18,212.45 L1096.94,212.70 L1097.70,212.94 L1098.46,213.19 L1099.22,213.45 L1099.99,213.70 L1100.75,213.96 L1101.51,214.21 L1102.27,214.47 L1103.03,214.73 L1103.79,214.99 L1104.55,215.25 L1105.31,215.52 L1106.07,215.78 L1106.83,216.05 L1107.59,216.32 L1108.35,216.59 L1109.11,216.86 L1109.87,217.13 L1110.63,217.41 L1111.39,217.68 L1112.15,217.96 L1112.91,218.24 L1113.67,218.52 L1114.43,218.80 L1115.19,219.08 L1115.95,219.37 L1116.71,219.65 L1117.48,219.94 L1118.24,220.23 L1119.00,220.52 L1119.76,220.81 L1120.52,221.11 L1121.28,221.40 L1122.04,221.70 L1122.80,222.00 L1123.56,222.30 L1124.32,222.60 L1125.08,222.90 L1125.84,223.21 L1126.60,223.51 L1127.36,223.82 L1128.12,224.13 L1128.88,224.44 L1129.64,224.75 L1130.40,225.06 L1131.16,225.37 L1131.92,225.69 L1132.68,226.00 L1133.44,226.32 L1134.20,226.64 L1134.97,226.95 L1135.73,227.27 L1136.49,227.59 L1137.25,227.91 L1138.01,228.23 L1138.77,228.55 L1139.53,228.87 L1140.29,229.19 L1141.05,229.51 L1141.81,229.84 L1142.57,230.16 L1143.33,230.48 L1144.09,230.80 L1144.85,231.12 L1145.61,231.45 L1146.37,231.77 L1147.13,232.09 L1147.89,232.41 L1148.65,232.73 L1149.41,233.06 L1150.17,233.38 L1150.93,233.70 L1151.69,234.02 L1152.46,234.34 L1153.22,234.66 L1153.98,234.98 L1154.74,235.30 L1155.50,235.62 L1156.26,235.94 L1157.02,236.26 L1157.78,236.58 L1158.54,236.90 L1159.30,237.22 L1160.06,237.54 L1160.82,237.86 L1161.58,238.17 L1162.34,238.49 L1163.10,238.81 L1163.86,239.12 L1164.62,239.44 L1165.38,239.76 L1166.14,240.07 L1166.90,240.39 L1167.66,240.70 L1168.42,241.02 L1169.19,241.33 L1169.95,241.64 L1170.71,241.96 L1171.47,242.27 L1172.23,242.58 L1172.99,242.89 L1173.75,243.20 L1174.51,243.51 L1175.27,243.82 L1176.03,244.13 L1176.79,244.43 L1177.55,244.74 L1178.31,245.05 L1179.07,245.35 L1179.83,245.65 L1180.59,245.95 L1181.35,246.25 L1182.11,246.55 L1182.87,246.85 L1183.63,247.15 L1184.39,247.45 L1185.15,247.74 L1185.91,248.03 L1186.68,248.33 L1187.44,248.62 L1188.20,248.91 L1188.96,249.19 L1189.72,249.48 L1190.48,249.77 L1191.24,250.05 L1192.00,250.33 L1192.76,250.61 L1193.52,250.89 L1194.28,251.17 L1195.04,251.45 L1195.80,251.72 L1196.56,252.00 L1197.32,252.27 L1198.08,252.54 L1198.84,252.81 L1199.60,253.08 L1200.36,253.35 L1201.12,253.61 L1201.88,253.88 L1202.64,254.14 L1203.40,254.40 L1204.17,254.67 L1204.93,254.92 L1205.69,255.18 L1206.45,255.44 L1207.21,255.69 L1207.97,255.95 L1208.73,256.20 L1209.49,256.45 L1210.25,256.70 L1211.01,256.95 L1211.77,257.20 L1212.53,257.44 L1213.29,257.68 L1214.05,257.93 L1214.81,258.17 L1215.57,258.40 L1216.33,258.64 L1217.09,258.88 L1217.85,259.11 L1218.61,259.34 L1219.37,259.57 L1220.13,259.80 L1220.89,260.02 L1221.66,260.25 L1222.42,260.47 L1223.18,260.69 L1223.94,260.91 L1224.70,261.12 L1225.46,261.34 L1226.22,261.55 L1226.98,261.76 L1227.74,261.97 L1228.50,262.17 L1229.26,262.38 L1230.02,262.58 L1230.78,262.78 L1231.54,262.97 L1232.30,263.17 L1233.06,263.36 L1233.82,263.55 L1234.58,263.74 L1235.34,263.93 L1236.10,264.11 L1236.86,264.29 L1237.62,264.47 L1238.38,264.65 L1239.15,264.83 L1239.91,265.00 L1240.67,265.18 L1241.43,265.35 L1242.19,265.52 L1242.95,265.68 L1243.71,265.85 L1244.47,266.01 L1245.23,266.18 L1245.99,266.34 L1246.75,266.49 L1247.51,266.65 L1248.27,266.81 L1249.03,266.96 L1249.79,267.11 L1250.55,267.26 L1251.31,267.41 L1252.07,267.56 L1252.83,267.71 L1253.59,267.85 L1254.35,267.99 L1255.11,268.13 L1255.87,268.27 L1256.64,268.41 L1257.40,268.54 L1258.16,268.68 L1258.92,268.81 L1259.68,268.94 L1260.44,269.06 L1261.20,269.19 L1261.96,269.31 L1262.72,269.43 L1263.48,269.55 L1264.24,269.67 L1265.00,269.79 L1265.76,269.90 L1266.52,270.01 L1267.28,270.12 L1268.04,270.22 L1268.80,270.33 L1269.56,270.43 L1270.32,270.53 L1271.08,270.62 L1271.84,270.72 L1272.60,270.81 L1273.37,270.90 L1274.13,270.99 L1274.89,271.07 L1275.65,271.15 L1276.41,271.24 L1277.17,271.31 L1277.93,271.39 L1278.69,271.47 L1279.45,271.54 L1280.21,271.61 L1280.97,271.68 L1281.73,271.74 L1282.49,271.81 L1283.25,271.87 L1284.01,271.93 L1284.77,271.99 L1285.53,272.05 L1286.29,272.11 L1287.05,272.16 L1287.81,272.21 L1288.57,272.27 L1289.33,272.32 L1290.09,272.37 L1290.86,272.41 L1291.62,272.46 L1292.38,272.51 L1293.14,272.55 L1293.90,272.59 L1294.66,272.64 L1295.42,272.68 L1296.18,272.72 L1296.94,272.76 L1297.70,272.79 L1298.46,272.83 L1299.22,272.87 L1299.98,272.90 L1300.74,272.94 L1301.50,272.97 L1302.26,273.00 L1303.02,273.04 L1303.78,273.07 L1304.54,273.10 L1305.30,273.13 L1306.06,273.16 L1306.82,273.18 L1307.58,273.21 L1308.35,273.24 L1309.11,273.26 L1309.87,273.29 L1310.63,273.31 L1311.39,273.33 L1312.15,273.35 L1312.91,273.37 L1313.67,273.39 L1314.43,273.41 L1315.19,273.43 L1315.95,273.45 L1316.71,273.46 L1317.47,273.48 L1318.23,273.50 L1318.99,273.51 L1319.75,273.52 L1320.51,273.54 L1321.27,273.55 L1322.03,273.56 L1322.79,273.57 L1323.55,273.58 L1324.31,273.59 L1325.07,273.60 L1325.84,273.60 L1326.60,273.61 L1327.36,273.62 L1328.12,273.62 L1328.88,273.63 L1329.64,273.64 L1330.40,273.64 L1331.16,273.64 L1331.92,273.65 L1332.68,273.65 L1333.44,273.66 L1334.20,273.66 L1334.96,273.66 L1335.72,273.66 L1336.48,273.67 L1337.24,273.67 L1338.00,273.67" fill="none" stroke="#EDB120" stroke-width="5.6" stroke-dasharray="22.4 22.4" stroke-linejoin="round"/>
<text x="0" y="0" font-family="Liberation Serif" font-size="38" text-anchor="middle" transform="translate(796.20,239.90) rotate(-90)">y [m]</text>
<line x1="881.80" y1="470.50" x2="881.80" y2="465.00" stroke="#333333" stroke-width="1.3"/>
<line x1="881.80" y1="354.40" x2="881.80" y2="359.90" stroke="#333333" stroke-width="1.3"/>
<line x1="997.98" y1="470.50" x2="997.98" y2="465.00" stroke="#333333" stroke-width="1.3"/>
<line x1="997.98" y1="354.40" x2="997.98" y2="359.90" stroke="#333333" stroke-width="1.3"/>
<line x1="1114.16" y1="470.50" x2="1114.16" y2="465.00" stroke="#333333" stroke-width="1.3"/>
<line x1="1114.16" y1="354.40" x2="1114.16" y2="359.90" stroke="#333333" stroke-width="1.3"/>
<line x1="1230.35" y1="470.50" x2="1230.35" y2="465.00" stroke="#333333" stroke-width="1.3"/>
<line x1="1230.35" y1="354.40" x2="1230.35" y2="359.90" stroke="#333333" stroke-width="1.3"/>
<line x1="1346.53" y1="470.50" x2="1346.53" y2="465.00" stroke="#333333" stroke-width="1.3"/>
<line x1="1346.53" y1="354.40" x2="1346.53" y2="359.90" stroke="#333333" stroke-width="1.3"/>
<line x1="881.80" y1="470.50" x2="887.30" y2="470.50" stroke="#333333" stroke-width="1.3"/>
<line x1="1393.00" y1="470.50" x2="1387.50" y2="470.50" stroke="#333333" stroke-width="1.3"/>
<line x1="881.80" y1="412.45" x2="887.30" y2="412.45" stroke="#333333" stroke-width="1.3"/>
<line x1="1393.00" y1="412.45" x2="1387.50" y2="412.45" stroke="#333333" stroke-width="1.3"/>
<line x1="881.80" y1="354.40" x2="887.30" y2="354.40" stroke="#333333" stroke-width="1.3"/>
<line x1="1393.00" y1="354.40" x2="1387.50" y2="354.40" stroke="#333333" stroke-width="1.3"/>
<rect x="881.80" y="354.40" width="511.20" height="116.10" fill="none" stroke="#333333" stroke-width="1.3"/>
<text x="881.80" y="515.50" font-family="Liberation Serif" font-size="34.6" font-weight="400" text-anchor="middle" fill="#000">0</text>
<text x="997.98" y="515.50" font-family="Liberation Serif" font-size="34.6" font-weight="400" text-anchor="middle" fill="#000">0.5</text>
<text x="1114.16" y="515.50" font-family="Liberation Serif" font-size="34.6" font-weight="400" text-anchor="middle" fill="#000">1</text>
<text x="1230.35" y="515.50" font-family="Liberation Serif" font-size="34.6" font-weight="400" text-anchor="middle" fill="#000">1.5</text>
<text x="1346.53" y="515.50" font-family="Liberation Serif" font-size="34.6" font-weight="400" text-anchor="middle" fill="#000">2</text>
<text x="868.30" y="482.50" font-family="Liberation Serif" font-size="34.6" font-weight="400" text-anchor="end" fill="#000">0</text>
<text x="868.30" y="424.45" font-family="Liberation Serif" font-size="34.6" font-weight="400" text-anchor="end" fill="#000">0.5</text>
<text x="868.30" y="366.40" font-family="Liberation Serif" font-size="34.6" font-weight="400" text-anchor="end" fill="#000">1</text>
<path d="M881.80,448.10 L882.55,448.11 L883.31,448.12 L884.06,448.13 L884.81,448.14 L885.56,448.14 L886.32,448.15 L887.07,448.16 L887.82,448.18 L888.57,448.19 L889.33,448.20 L890.08,448.21 L890.83,448.22 L891.58,448.23 L892.34,448.24 L893.09,448.25 L893.84,448.26 L894.59,448.27 L895.35,448.28 L896.10,448.28 L896.85,448.29 L897.60,448.30 L898.36,448.31 L899.11,448.32 L899.86,448.32 L900.61,448.33 L901.37,448.34 L902.12,448.34 L902.87,448.35 L903.62,448.35 L904.38,448.36 L905.13,448.36 L905.88,448.36 L906.63,448.37 L907.39,448.37 L908.14,448.37 L908.89,448.37 L909.64,448.37 L910.40,448.37 L911.15,448.37 L911.90,448.36 L912.66,448.36 L913.41,448.36 L914.16,448.35 L914.91,448.35 L915.67,448.34 L916.42,448.33 L917.17,448.32 L917.92,448.31 L918.68,448.30 L919.43,448.29 L920.18,448.28 L920.93,448.27 L921.69,448.25 L922.44,448.24 L923.19,448.22 L923.94,448.20 L924.70,448.19 L925.45,448.17 L926.20,448.14 L926.95,448.12 L927.71,448.10 L928.46,448.08 L929.21,448.05 L929.96,448.03 L930.72,448.00 L931.47,447.97 L932.22,447.94 L932.97,447.91 L933.73,447.88 L934.48,447.85 L935.23,447.81 L935.98,447.78 L936.74,447.74 L937.49,447.71 L938.24,447.67 L938.99,447.63 L939.75,447.59 L940.50,447.55 L941.25,447.51 L942.01,447.47 L942.76,447.43 L943.51,447.39 L944.26,447.34 L945.02,447.30 L945.77,447.25 L946.52,447.21 L947.27,447.16 L948.03,447.11 L948.78,447.06 L949.53,447.01 L950.28,446.96 L951.04,446.91 L951.79,446.86 L952.54,446.80 L953.29,446.75 L954.05,446.69 L954.80,446.64 L955.55,446.58 L956.30,446.52 L957.06,446.46 L957.81,446.40 L958.56,446.34 L959.31,446.28 L960.07,446.22 L960.82,446.15 L961.57,446.08 L962.32,446.02 L963.08,445.95 L963.83,445.88 L964.58,445.81 L965.33,445.73 L966.09,445.66 L966.84,445.58 L967.59,445.50 L968.34,445.42 L969.10,445.34 L969.85,445.26 L970.60,445.17 L971.36,445.09 L972.11,445.00 L972.86,444.91 L973.61,444.81 L974.37,444.72 L975.12,444.62 L975.87,444.52 L976.62,444.42 L977.38,444.31 L978.13,444.21 L978.88,444.10 L979.63,443.99 L980.39,443.87 L981.14,443.76 L981.89,443.64 L982.64,443.52 L983.40,443.40 L984.15,443.27 L984.90,443.14 L985.65,443.01 L986.41,442.88 L987.16,442.75 L987.91,442.61 L988.66,442.47 L989.42,442.33 L990.17,442.18 L990.92,442.03 L991.67,441.88 L992.43,441.73 L993.18,441.58 L993.93,441.42 L994.68,441.26 L995.44,441.10 L996.19,440.94 L996.94,440.77 L997.69,440.60 L998.45,440.43 L999.20,440.26 L999.95,440.09 L1000.71,439.91 L1001.46,439.73 L1002.21,439.55 L1002.96,439.37 L1003.72,439.19 L1004.47,439.00 L1005.22,438.82 L1005.97,438.63 L1006.73,438.44 L1007.48,438.25 L1008.23,438.05 L1008.98,437.86 L1009.74,437.67 L1010.49,437.47 L1011.24,437.27 L1011.99,437.07 L1012.75,436.87 L1013.50,436.67 L1014.25,436.47 L1015.00,436.26 L1015.76,436.06 L1016.51,435.86 L1017.26,435.65 L1018.01,435.44 L1018.77,435.24 L1019.52,435.03 L1020.27,434.82 L1021.02,434.61 L1021.78,434.40 L1022.53,434.18 L1023.28,433.97 L1024.03,433.76 L1024.79,433.54 L1025.54,433.33 L1026.29,433.11 L1027.04,432.89 L1027.80,432.68 L1028.55,432.46 L1029.30,432.24 L1030.05,432.01 L1030.81,431.79 L1031.56,431.57 L1032.31,431.34 L1033.07,431.11 L1033.82,430.89 L1034.57,430.66 L1035.32,430.43 L1036.08,430.19 L1036.83,429.96 L1037.58,429.72 L1038.33,429.49 L1039.09,429.25 L1039.84,429.01 L1040.59,428.77 L1041.34,428.53 L1042.10,428.29 L1042.85,428.04 L1043.60,427.80 L1044.35,427.55 L1045.11,427.31 L1045.86,427.06 L1046.61,426.81 L1047.36,426.57 L1048.12,426.32 L1048.87,426.07 L1049.62,425.82 L1050.37,425.57 L1051.13,425.32 L1051.88,425.08 L1052.63,424.83 L1053.38,424.58 L1054.14,424.33 L1054.89,424.09 L1055.64,423.84 L1056.39,423.60 L1057.15,423.35 L1057.90,423.11 L1058.65,422.87 L1059.40,422.62 L1060.16,422.38 L1060.91,422.14 L1061.66,421.90 L1062.42,421.67 L1063.17,421.43 L1063.92,421.19 L1064.67,420.96 L1065.43,420.72 L1066.18,420.49 L1066.93,420.26 L1067.68,420.02 L1068.44,419.79 L1069.19,419.56 L1069.94,419.33 L1070.69,419.10 L1071.45,418.87 L1072.20,418.65 L1072.95,418.42 L1073.70,418.19 L1074.46,417.96 L1075.21,417.73 L1075.96,417.51 L1076.71,417.28 L1077.47,417.06 L1078.22,416.83 L1078.97,416.61 L1079.72,416.38 L1080.48,416.16 L1081.23,415.93 L1081.98,415.71 L1082.73,415.49 L1083.49,415.27 L1084.24,415.05 L1084.99,414.83 L1085.74,414.61 L1086.50,414.40 L1087.25,414.18 L1088.00,413.97 L1088.75,413.76 L1089.51,413.55 L1090.26,413.34 L1091.01,413.14 L1091.77,412.93 L1092.52,412.73 L1093.27,412.54 L1094.02,412.34 L1094.78,412.15 L1095.53,411.96 L1096.28,411.77 L1097.03,411.59 L1097.79,411.41 L1098.54,411.23 L1099.29,411.06 L1100.04,410.89 L1100.80,410.72 L1101.55,410.55 L1102.30,410.39 L1103.05,410.24 L1103.81,410.08 L1104.56,409.93 L1105.31,409.78 L1106.06,409.64 L1106.82,409.50 L1107.57,409.36 L1108.32,409.23 L1109.07,409.10 L1109.83,408.97 L1110.58,408.84 L1111.33,408.72 L1112.08,408.60 L1112.84,408.49 L1113.59,408.37 L1114.34,408.26 L1115.09,408.15 L1115.85,408.05 L1116.60,407.95 L1117.35,407.85 L1118.10,407.75 L1118.86,407.66 L1119.61,407.57 L1120.36,407.48 L1121.12,407.40 L1121.87,407.31 L1122.62,407.23 L1123.37,407.16 L1124.13,407.08 L1124.88,407.01 L1125.63,406.94 L1126.38,406.88 L1127.14,406.81 L1127.89,406.75 L1128.64,406.69 L1129.39,406.64 L1130.15,406.59 L1130.90,406.54 L1131.65,406.49 L1132.40,406.45 L1133.16,406.41 L1133.91,406.37 L1134.66,406.33 L1135.41,406.30 L1136.17,406.27 L1136.92,406.24 L1137.67,406.22 L1138.42,406.20 L1139.18,406.18 L1139.93,406.16 L1140.68,406.15 L1141.43,406.14 L1142.19,406.13 L1142.94,406.12 L1143.69,406.12 L1144.44,406.12 L1145.20,406.12 L1145.95,406.12 L1146.70,406.13 L1147.45,406.14 L1148.21,406.15 L1148.96,406.16 L1149.71,406.18 L1150.47,406.19 L1151.22,406.21 L1151.97,406.24 L1152.72,406.26 L1153.48,406.29 L1154.23,406.32 L1154.98,406.35 L1155.73,406.38 L1156.49,406.42 L1157.24,406.46 L1157.99,406.50 L1158.74,406.54 L1159.50,406.58 L1160.25,406.63 L1161.00,406.68 L1161.75,406.73 L1162.51,406.78 L1163.26,406.84 L1164.01,406.90 L1164.76,406.96 L1165.52,407.02 L1166.27,407.08 L1167.02,407.15 L1167.77,407.21 L1168.53,407.28 L1169.28,407.35 L1170.03,407.43 L1170.78,407.50 L1171.54,407.58 L1172.29,407.65 L1173.04,407.73 L1173.79,407.81 L1174.55,407.89 L1175.30,407.98 L1176.05,408.06 L1176.80,408.14 L1177.56,408.23 L1178.31,408.32 L1179.06,408.41 L1179.82,408.49 L1180.57,408.58 L1181.32,408.67 L1182.07,408.76 L1182.83,408.86 L1183.58,408.95 L1184.33,409.04 L1185.08,409.14 L1185.84,409.23 L1186.59,409.32 L1187.34,409.42 L1188.09,409.51 L1188.85,409.61 L1189.60,409.71 L1190.35,409.80 L1191.10,409.90 L1191.86,410.00 L1192.61,410.09 L1193.36,410.19 L1194.11,410.29 L1194.87,410.38 L1195.62,410.48 L1196.37,410.58 L1197.12,410.68 L1197.88,410.77 L1198.63,410.87 L1199.38,410.97 L1200.13,411.07 L1200.89,411.16 L1201.64,411.26 L1202.39,411.36 L1203.14,411.45 L1203.90,411.55 L1204.65,411.65 L1205.40,411.74 L1206.15,411.84 L1206.91,411.93 L1207.66,412.03 L1208.41,412.12 L1209.17,412.22 L1209.92,412.31 L1210.67,412.41 L1211.42,412.50 L1212.18,412.59 L1212.93,412.69 L1213.68,412.78 L1214.43,412.87 L1215.19,412.96 L1215.94,413.05 L1216.69,413.14 L1217.44,413.23 L1218.20,413.32 L1218.95,413.41 L1219.70,413.49 L1220.45,413.58 L1221.21,413.67 L1221.96,413.75 L1222.71,413.84 L1223.46,413.92 L1224.22,414.00 L1224.97,414.09 L1225.72,414.17 L1226.47,414.25 L1227.23,414.33 L1227.98,414.41 L1228.73,414.49 L1229.48,414.57 L1230.24,414.64 L1230.99,414.72 L1231.74,414.80 L1232.49,414.87 L1233.25,414.95 L1234.00,415.02 L1234.75,415.09 L1235.50,415.16 L1236.26,415.23 L1237.01,415.30 L1237.76,415.37 L1238.52,415.44 L1239.27,415.51 L1240.02,415.57 L1240.77,415.64 L1241.53,415.70 L1242.28,415.77 L1243.03,415.83 L1243.78,415.89 L1244.54,415.95 L1245.29,416.01 L1246.04,416.07 L1246.79,416.12 L1247.55,416.18 L1248.30,416.23 L1249.05,416.29 L1249.80,416.34 L1250.56,416.39 L1251.31,416.44 L1252.06,416.49 L1252.81,416.53 L1253.57,416.58 L1254.32,416.62 L1255.07,416.67 L1255.82,416.71 L1256.58,416.75 L1257.33,416.79 L1258.08,416.83 L1258.83,416.87 L1259.59,416.90 L1260.34,416.94 L1261.09,416.97 L1261.84,417.00 L1262.60,417.03 L1263.35,417.06 L1264.10,417.09 L1264.85,417.12 L1265.61,417.14 L1266.36,417.17 L1267.11,417.19 L1267.87,417.22 L1268.62,417.24 L1269.37,417.26 L1270.12,417.28 L1270.88,417.30 L1271.63,417.32 L1272.38,417.34 L1273.13,417.35 L1273.89,417.37 L1274.64,417.38 L1275.39,417.40 L1276.14,417.41 L1276.90,417.43 L1277.65,417.44 L1278.40,417.45 L1279.15,417.47 L1279.91,417.48 L1280.66,417.49 L1281.41,417.50 L1282.16,417.51 L1282.92,417.52 L1283.67,417.53 L1284.42,417.54 L1285.17,417.55 L1285.93,417.56 L1286.68,417.56 L1287.43,417.57 L1288.18,417.58 L1288.94,417.58 L1289.69,417.59 L1290.44,417.60 L1291.19,417.60 L1291.95,417.61 L1292.70,417.61 L1293.45,417.62 L1294.20,417.62 L1294.96,417.63 L1295.71,417.63 L1296.46,417.63 L1297.21,417.64 L1297.97,417.64 L1298.72,417.64 L1299.47,417.65 L1300.23,417.65 L1300.98,417.65 L1301.73,417.65 L1302.48,417.66 L1303.24,417.66 L1303.99,417.66 L1304.74,417.66 L1305.49,417.66 L1306.25,417.66 L1307.00,417.67 L1307.75,417.67 L1308.50,417.67 L1309.26,417.67 L1310.01,417.67 L1310.76,417.67 L1311.51,417.67 L1312.27,417.67 L1313.02,417.67 L1313.77,417.67 L1314.52,417.67 L1315.28,417.67 L1316.03,417.67 L1316.78,417.67 L1317.53,417.67 L1318.29,417.67 L1319.04,417.67 L1319.79,417.67 L1320.54,417.67 L1321.30,417.67 L1322.05,417.67 L1322.80,417.67 L1323.55,417.67 L1324.31,417.67 L1325.06,417.67 L1325.81,417.67 L1326.56,417.67 L1327.32,417.67 L1328.07,417.67 L1328.82,417.67 L1329.58,417.67 L1330.33,417.67 L1331.08,417.67 L1331.83,417.67 L1332.59,417.67" fill="none" stroke="#0072BD" stroke-width="5.6" stroke-linejoin="round"/>
<path d="M881.80,448.10 L882.64,448.11 L883.48,448.12 L884.31,448.13 L885.15,448.14 L885.99,448.15 L886.83,448.16 L887.67,448.17 L888.50,448.18 L889.34,448.20 L890.18,448.21 L891.02,448.22 L891.85,448.23 L892.69,448.24 L893.53,448.25 L894.37,448.26 L895.21,448.27 L896.04,448.28 L896.88,448.29 L897.72,448.30 L898.56,448.31 L899.40,448.32 L900.23,448.33 L901.07,448.33 L901.91,448.34 L902.75,448.35 L903.59,448.35 L904.42,448.36 L905.26,448.36 L906.10,448.36 L906.94,448.37 L907.78,448.37 L908.61,448.37 L909.45,448.37 L910.29,448.37 L911.13,448.37 L911.96,448.36 L912.80,448.36 L913.64,448.35 L914.48,448.35 L915.32,448.34 L916.15,448.33 L916.99,448.32 L917.83,448.31 L918.67,448.30 L919.51,448.29 L920.34,448.27 L921.18,448.26 L922.02,448.24 L922.86,448.22 L923.70,448.20 L924.53,448.18 L925.37,448.16 L926.21,448.14 L927.05,448.11 L927.88,448.08 L928.72,448.06 L929.56,448.03 L930.40,447.99 L931.24,447.96 L932.07,447.93 L932.91,447.89 L933.75,447.85 L934.59,447.82 L935.43,447.78 L936.26,447.73 L937.10,447.69 L937.94,447.65 L938.78,447.60 L939.62,447.55 L940.45,447.50 L941.29,447.45 L942.13,447.40 L942.97,447.35 L943.81,447.30 L944.64,447.24 L945.48,447.18 L946.32,447.13 L947.16,447.07 L947.99,447.01 L948.83,446.95 L949.67,446.89 L950.51,446.82 L951.35,446.76 L952.18,446.69 L953.02,446.63 L953.86,446.56 L954.70,446.50 L955.54,446.43 L956.37,446.36 L957.21,446.29 L958.05,446.22 L958.89,446.15 L959.73,446.07 L960.56,446.00 L961.40,445.93 L962.24,445.85 L963.08,445.78 L963.91,445.70 L964.75,445.63 L965.59,445.55 L966.43,445.47 L967.27,445.40 L968.10,445.32 L968.94,445.24 L969.78,445.16 L970.62,445.08 L971.46,445.00 L972.29,444.91 L973.13,444.83 L973.97,444.75 L974.81,444.66 L975.65,444.58 L976.48,444.49 L977.32,444.41 L978.16,444.32 L979.00,444.23 L979.83,444.14 L980.67,444.05 L981.51,443.96 L982.35,443.86 L983.19,443.77 L984.02,443.67 L984.86,443.58 L985.70,443.48 L986.54,443.38 L987.38,443.28 L988.21,443.17 L989.05,443.07 L989.89,442.96 L990.73,442.86 L991.57,442.75 L992.40,442.64 L993.24,442.53 L994.08,442.42 L994.92,442.30 L995.76,442.19 L996.59,442.07 L997.43,441.95 L998.27,441.83 L999.11,441.71 L999.94,441.58 L1000.78,441.46 L1001.62,441.33 L1002.46,441.21 L1003.30,441.08 L1004.13,440.95 L1004.97,440.82 L1005.81,440.68 L1006.65,440.55 L1007.49,440.41 L1008.32,440.28 L1009.16,440.14 L1010.00,440.00 L1010.84,439.86 L1011.68,439.72 L1012.51,439.58 L1013.35,439.43 L1014.19,439.29 L1015.03,439.14 L1015.86,439.00 L1016.70,438.85 L1017.54,438.70 L1018.38,438.55 L1019.22,438.40 L1020.05,438.24 L1020.89,438.09 L1021.73,437.93 L1022.57,437.78 L1023.41,437.62 L1024.24,437.46 L1025.08,437.30 L1025.92,437.14 L1026.76,436.97 L1027.60,436.81 L1028.43,436.64 L1029.27,436.48 L1030.11,436.31 L1030.95,436.14 L1031.79,435.97 L1032.62,435.80 L1033.46,435.62 L1034.30,435.45 L1035.14,435.27 L1035.97,435.10 L1036.81,434.92 L1037.65,434.74 L1038.49,434.56 L1039.33,434.37 L1040.16,434.19 L1041.00,434.01 L1041.84,433.82 L1042.68,433.63 L1043.52,433.45 L1044.35,433.26 L1045.19,433.07 L1046.03,432.88 L1046.87,432.69 L1047.71,432.49 L1048.54,432.30 L1049.38,432.11 L1050.22,431.92 L1051.06,431.72 L1051.89,431.53 L1052.73,431.33 L1053.57,431.14 L1054.41,430.94 L1055.25,430.75 L1056.08,430.55 L1056.92,430.35 L1057.76,430.16 L1058.60,429.96 L1059.44,429.77 L1060.27,429.57 L1061.11,429.37 L1061.95,429.18 L1062.79,428.98 L1063.63,428.79 L1064.46,428.59 L1065.30,428.40 L1066.14,428.20 L1066.98,428.00 L1067.82,427.81 L1068.65,427.61 L1069.49,427.42 L1070.33,427.23 L1071.17,427.03 L1072.00,426.84 L1072.84,426.64 L1073.68,426.45 L1074.52,426.25 L1075.36,426.06 L1076.19,425.87 L1077.03,425.67 L1077.87,425.48 L1078.71,425.29 L1079.55,425.09 L1080.38,424.90 L1081.22,424.71 L1082.06,424.51 L1082.90,424.32 L1083.74,424.13 L1084.57,423.94 L1085.41,423.74 L1086.25,423.55 L1087.09,423.36 L1087.92,423.17 L1088.76,422.98 L1089.60,422.78 L1090.44,422.59 L1091.28,422.40 L1092.11,422.21 L1092.95,422.02 L1093.79,421.83 L1094.63,421.64 L1095.47,421.45 L1096.30,421.26 L1097.14,421.07 L1097.98,420.88 L1098.82,420.69 L1099.66,420.50 L1100.49,420.31 L1101.33,420.12 L1102.17,419.93 L1103.01,419.75 L1103.84,419.56 L1104.68,419.37 L1105.52,419.18 L1106.36,418.99 L1107.20,418.81 L1108.03,418.62 L1108.87,418.43 L1109.71,418.24 L1110.55,418.06 L1111.39,417.87 L1112.22,417.68 L1113.06,417.50 L1113.90,417.31 L1114.74,417.12 L1115.58,416.94 L1116.41,416.75 L1117.25,416.56 L1118.09,416.38 L1118.93,416.19 L1119.77,416.00 L1120.60,415.82 L1121.44,415.63 L1122.28,415.45 L1123.12,415.26 L1123.95,415.08 L1124.79,414.90 L1125.63,414.71 L1126.47,414.53 L1127.31,414.35 L1128.14,414.17 L1128.98,413.98 L1129.82,413.81 L1130.66,413.63 L1131.50,413.45 L1132.33,413.27 L1133.17,413.10 L1134.01,412.92 L1134.85,412.75 L1135.69,412.58 L1136.52,412.41 L1137.36,412.24 L1138.20,412.07 L1139.04,411.91 L1139.87,411.74 L1140.71,411.58 L1141.55,411.42 L1142.39,411.27 L1143.23,411.11 L1144.06,410.96 L1144.90,410.81 L1145.74,410.66 L1146.58,410.51 L1147.42,410.36 L1148.25,410.22 L1149.09,410.08 L1149.93,409.94 L1150.77,409.81 L1151.61,409.67 L1152.44,409.54 L1153.28,409.41 L1154.12,409.28 L1154.96,409.15 L1155.80,409.03 L1156.63,408.90 L1157.47,408.78 L1158.31,408.66 L1159.15,408.54 L1159.98,408.43 L1160.82,408.31 L1161.66,408.20 L1162.50,408.09 L1163.34,407.98 L1164.17,407.87 L1165.01,407.77 L1165.85,407.66 L1166.69,407.56 L1167.53,407.45 L1168.36,407.35 L1169.20,407.25 L1170.04,407.16 L1170.88,407.06 L1171.72,406.97 L1172.55,406.87 L1173.39,406.78 L1174.23,406.69 L1175.07,406.61 L1175.90,406.52 L1176.74,406.44 L1177.58,406.36 L1178.42,406.28 L1179.26,406.20 L1180.09,406.12 L1180.93,406.05 L1181.77,405.98 L1182.61,405.91 L1183.45,405.84 L1184.28,405.78 L1185.12,405.72 L1185.96,405.66 L1186.80,405.60 L1187.64,405.55 L1188.47,405.50 L1189.31,405.45 L1190.15,405.41 L1190.99,405.37 L1191.83,405.33 L1192.66,405.29 L1193.50,405.26 L1194.34,405.23 L1195.18,405.20 L1196.01,405.18 L1196.85,405.16 L1197.69,405.14 L1198.53,405.13 L1199.37,405.11 L1200.20,405.11 L1201.04,405.10 L1201.88,405.10 L1202.72,405.10 L1203.56,405.10 L1204.39,405.11 L1205.23,405.11 L1206.07,405.13 L1206.91,405.14 L1207.75,405.15 L1208.58,405.17 L1209.42,405.19 L1210.26,405.22 L1211.10,405.24 L1211.93,405.27 L1212.77,405.30 L1213.61,405.33 L1214.45,405.37 L1215.29,405.40 L1216.12,405.44 L1216.96,405.48 L1217.80,405.52 L1218.64,405.56 L1219.48,405.61 L1220.31,405.65 L1221.15,405.70 L1221.99,405.74 L1222.83,405.79 L1223.67,405.84 L1224.50,405.89 L1225.34,405.95 L1226.18,406.00 L1227.02,406.05 L1227.86,406.11 L1228.69,406.16 L1229.53,406.22 L1230.37,406.28 L1231.21,406.34 L1232.04,406.40 L1232.88,406.45 L1233.72,406.52 L1234.56,406.58 L1235.40,406.64 L1236.23,406.70 L1237.07,406.76 L1237.91,406.83 L1238.75,406.89 L1239.59,406.96 L1240.42,407.02 L1241.26,407.09 L1242.10,407.16 L1242.94,407.22 L1243.78,407.29 L1244.61,407.36 L1245.45,407.43 L1246.29,407.50 L1247.13,407.57 L1247.96,407.65 L1248.80,407.72 L1249.64,407.79 L1250.48,407.87 L1251.32,407.94 L1252.15,408.02 L1252.99,408.10 L1253.83,408.18 L1254.67,408.25 L1255.51,408.33 L1256.34,408.41 L1257.18,408.49 L1258.02,408.57 L1258.86,408.66 L1259.70,408.74 L1260.53,408.82 L1261.37,408.91 L1262.21,408.99 L1263.05,409.07 L1263.88,409.16 L1264.72,409.24 L1265.56,409.33 L1266.40,409.42 L1267.24,409.50 L1268.07,409.59 L1268.91,409.68 L1269.75,409.77 L1270.59,409.86 L1271.43,409.94 L1272.26,410.03 L1273.10,410.12 L1273.94,410.21 L1274.78,410.30 L1275.62,410.39 L1276.45,410.48 L1277.29,410.57 L1278.13,410.66 L1278.97,410.75 L1279.81,410.85 L1280.64,410.94 L1281.48,411.03 L1282.32,411.12 L1283.16,411.21 L1283.99,411.31 L1284.83,411.40 L1285.67,411.49 L1286.51,411.59 L1287.35,411.68 L1288.18,411.78 L1289.02,411.87 L1289.86,411.97 L1290.70,412.06 L1291.54,412.16 L1292.37,412.26 L1293.21,412.35 L1294.05,412.45 L1294.89,412.55 L1295.73,412.65 L1296.56,412.74 L1297.40,412.84 L1298.24,412.94 L1299.08,413.04 L1299.91,413.14 L1300.75,413.24 L1301.59,413.34 L1302.43,413.43 L1303.27,413.53 L1304.10,413.63 L1304.94,413.73 L1305.78,413.83 L1306.62,413.93 L1307.46,414.02 L1308.29,414.12 L1309.13,414.21 L1309.97,414.31 L1310.81,414.40 L1311.65,414.50 L1312.48,414.59 L1313.32,414.68 L1314.16,414.77 L1315.00,414.86 L1315.84,414.95 L1316.67,415.03 L1317.51,415.12 L1318.35,415.20 L1319.19,415.28 L1320.02,415.36 L1320.86,415.44 L1321.70,415.51 L1322.54,415.59 L1323.38,415.66 L1324.21,415.73 L1325.05,415.80 L1325.89,415.87 L1326.73,415.93 L1327.57,416.00 L1328.40,416.06 L1329.24,416.12 L1330.08,416.17 L1330.92,416.23 L1331.76,416.29 L1332.59,416.34 L1333.43,416.39 L1334.27,416.44 L1335.11,416.49 L1335.94,416.53 L1336.78,416.58 L1337.62,416.62 L1338.46,416.66 L1339.30,416.70 L1340.13,416.74 L1340.97,416.78 L1341.81,416.82 L1342.65,416.85 L1343.49,416.89 L1344.32,416.92 L1345.16,416.95 L1346.00,416.99 L1346.84,417.02 L1347.68,417.05 L1348.51,417.07 L1349.35,417.10 L1350.19,417.13 L1351.03,417.15 L1351.87,417.18 L1352.70,417.20 L1353.54,417.22 L1354.38,417.25 L1355.22,417.27 L1356.05,417.29 L1356.89,417.31 L1357.73,417.32 L1358.57,417.34 L1359.41,417.36 L1360.24,417.37 L1361.08,417.39 L1361.92,417.40 L1362.76,417.41 L1363.60,417.43 L1364.43,417.44 L1365.27,417.45 L1366.11,417.46 L1366.95,417.47 L1367.79,417.48 L1368.62,417.49 L1369.46,417.49 L1370.30,417.50 L1371.14,417.51 L1371.97,417.51 L1372.81,417.52 L1373.65,417.52 L1374.49,417.53 L1375.33,417.53 L1376.16,417.53 L1377.00,417.54 L1377.84,417.54 L1378.68,417.54 L1379.52,417.54 L1380.35,417.55 L1381.19,417.55 L1382.03,417.55 L1382.87,417.55 L1383.71,417.55" fill="none" stroke="#D95319" stroke-width="5.6" stroke-dasharray="22.4 22.4" stroke-linejoin="round"/>
<path d="M881.80,448.10 L882.56,448.11 L883.31,448.12 L884.07,448.13 L884.82,448.14 L885.58,448.14 L886.33,448.15 L887.09,448.17 L887.84,448.18 L888.60,448.19 L889.35,448.20 L890.11,448.21 L890.86,448.22 L891.62,448.23 L892.37,448.24 L893.13,448.25 L893.88,448.26 L894.64,448.27 L895.40,448.27 L896.15,448.28 L896.91,448.29 L897.66,448.30 L898.42,448.31 L899.17,448.32 L899.93,448.32 L900.68,448.33 L901.44,448.33 L902.19,448.34 L902.95,448.34 L903.70,448.35 L904.46,448.35 L905.21,448.35 L905.97,448.36 L906.72,448.36 L907.48,448.36 L908.23,448.36 L908.99,448.36 L909.75,448.35 L910.50,448.35 L911.26,448.35 L912.01,448.34 L912.77,448.33 L913.52,448.33 L914.28,448.32 L915.03,448.31 L915.79,448.30 L916.54,448.29 L917.30,448.27 L918.05,448.26 L918.81,448.24 L919.56,448.22 L920.32,448.21 L921.07,448.19 L921.83,448.16 L922.59,448.14 L923.34,448.11 L924.10,448.09 L924.85,448.06 L925.61,448.03 L926.36,448.00 L927.12,447.96 L927.87,447.93 L928.63,447.89 L929.38,447.85 L930.14,447.81 L930.89,447.77 L931.65,447.73 L932.40,447.68 L933.16,447.64 L933.91,447.59 L934.67,447.54 L935.42,447.49 L936.18,447.43 L936.94,447.38 L937.69,447.32 L938.45,447.26 L939.20,447.20 L939.96,447.14 L940.71,447.08 L941.47,447.01 L942.22,446.95 L942.98,446.88 L943.73,446.81 L944.49,446.74 L945.24,446.67 L946.00,446.59 L946.75,446.52 L947.51,446.44 L948.26,446.37 L949.02,446.29 L949.78,446.21 L950.53,446.13 L951.29,446.05 L952.04,445.97 L952.80,445.88 L953.55,445.80 L954.31,445.72 L955.06,445.63 L955.82,445.54 L956.57,445.45 L957.33,445.37 L958.08,445.28 L958.84,445.19 L959.59,445.10 L960.35,445.00 L961.10,444.91 L961.86,444.82 L962.61,444.73 L963.37,444.63 L964.13,444.54 L964.88,444.44 L965.64,444.35 L966.39,444.25 L967.15,444.15 L967.90,444.05 L968.66,443.96 L969.41,443.86 L970.17,443.76 L970.92,443.66 L971.68,443.56 L972.43,443.46 L973.19,443.35 L973.94,443.25 L974.70,443.15 L975.45,443.04 L976.21,442.94 L976.97,442.83 L977.72,442.73 L978.48,442.62 L979.23,442.51 L979.99,442.40 L980.74,442.29 L981.50,442.18 L982.25,442.07 L983.01,441.96 L983.76,441.84 L984.52,441.73 L985.27,441.61 L986.03,441.50 L986.78,441.38 L987.54,441.26 L988.29,441.14 L989.05,441.01 L989.80,440.89 L990.56,440.76 L991.32,440.64 L992.07,440.51 L992.83,440.38 L993.58,440.25 L994.34,440.12 L995.09,439.99 L995.85,439.85 L996.60,439.72 L997.36,439.58 L998.11,439.44 L998.87,439.30 L999.62,439.16 L1000.38,439.02 L1001.13,438.88 L1001.89,438.73 L1002.64,438.58 L1003.40,438.44 L1004.16,438.29 L1004.91,438.14 L1005.67,437.99 L1006.42,437.84 L1007.18,437.68 L1007.93,437.53 L1008.69,437.37 L1009.44,437.22 L1010.20,437.06 L1010.95,436.90 L1011.71,436.74 L1012.46,436.58 L1013.22,436.42 L1013.97,436.26 L1014.73,436.10 L1015.48,435.93 L1016.24,435.77 L1016.99,435.60 L1017.75,435.43 L1018.51,435.27 L1019.26,435.10 L1020.02,434.93 L1020.77,434.75 L1021.53,434.58 L1022.28,434.41 L1023.04,434.23 L1023.79,434.06 L1024.55,433.88 L1025.30,433.70 L1026.06,433.52 L1026.81,433.34 L1027.57,433.16 L1028.32,432.98 L1029.08,432.80 L1029.83,432.61 L1030.59,432.43 L1031.35,432.24 L1032.10,432.05 L1032.86,431.87 L1033.61,431.68 L1034.37,431.48 L1035.12,431.29 L1035.88,431.10 L1036.63,430.91 L1037.39,430.71 L1038.14,430.51 L1038.90,430.32 L1039.65,430.12 L1040.41,429.92 L1041.16,429.72 L1041.92,429.52 L1042.67,429.32 L1043.43,429.12 L1044.18,428.92 L1044.94,428.72 L1045.70,428.51 L1046.45,428.31 L1047.21,428.11 L1047.96,427.90 L1048.72,427.70 L1049.47,427.49 L1050.23,427.29 L1050.98,427.08 L1051.74,426.88 L1052.49,426.67 L1053.25,426.47 L1054.00,426.26 L1054.76,426.06 L1055.51,425.85 L1056.27,425.65 L1057.02,425.45 L1057.78,425.24 L1058.54,425.04 L1059.29,424.83 L1060.05,424.63 L1060.80,424.43 L1061.56,424.22 L1062.31,424.02 L1063.07,423.82 L1063.82,423.62 L1064.58,423.41 L1065.33,423.21 L1066.09,423.01 L1066.84,422.81 L1067.60,422.61 L1068.35,422.41 L1069.11,422.21 L1069.86,422.01 L1070.62,421.81 L1071.37,421.61 L1072.13,421.41 L1072.89,421.21 L1073.64,421.02 L1074.40,420.82 L1075.15,420.62 L1075.91,420.42 L1076.66,420.23 L1077.42,420.03 L1078.17,419.83 L1078.93,419.64 L1079.68,419.44 L1080.44,419.25 L1081.19,419.06 L1081.95,418.86 L1082.70,418.67 L1083.46,418.48 L1084.21,418.29 L1084.97,418.10 L1085.73,417.91 L1086.48,417.72 L1087.24,417.53 L1087.99,417.34 L1088.75,417.16 L1089.50,416.97 L1090.26,416.79 L1091.01,416.61 L1091.77,416.43 L1092.52,416.25 L1093.28,416.07 L1094.03,415.89 L1094.79,415.72 L1095.54,415.54 L1096.30,415.37 L1097.05,415.20 L1097.81,415.03 L1098.57,414.86 L1099.32,414.70 L1100.08,414.53 L1100.83,414.37 L1101.59,414.21 L1102.34,414.05 L1103.10,413.89 L1103.85,413.74 L1104.61,413.58 L1105.36,413.43 L1106.12,413.28 L1106.87,413.13 L1107.63,412.98 L1108.38,412.83 L1109.14,412.69 L1109.89,412.55 L1110.65,412.41 L1111.40,412.27 L1112.16,412.13 L1112.92,411.99 L1113.67,411.86 L1114.43,411.72 L1115.18,411.59 L1115.94,411.46 L1116.69,411.33 L1117.45,411.20 L1118.20,411.07 L1118.96,410.95 L1119.71,410.82 L1120.47,410.70 L1121.22,410.57 L1121.98,410.45 L1122.73,410.33 L1123.49,410.22 L1124.24,410.10 L1125.00,409.98 L1125.76,409.87 L1126.51,409.76 L1127.27,409.65 L1128.02,409.54 L1128.78,409.43 L1129.53,409.32 L1130.29,409.22 L1131.04,409.11 L1131.80,409.01 L1132.55,408.91 L1133.31,408.82 L1134.06,408.72 L1134.82,408.63 L1135.57,408.54 L1136.33,408.45 L1137.08,408.36 L1137.84,408.28 L1138.59,408.20 L1139.35,408.12 L1140.11,408.04 L1140.86,407.97 L1141.62,407.90 L1142.37,407.83 L1143.13,407.76 L1143.88,407.70 L1144.64,407.63 L1145.39,407.57 L1146.15,407.52 L1146.90,407.46 L1147.66,407.41 L1148.41,407.36 L1149.17,407.32 L1149.92,407.27 L1150.68,407.23 L1151.43,407.19 L1152.19,407.16 L1152.95,407.12 L1153.70,407.09 L1154.46,407.06 L1155.21,407.03 L1155.97,407.01 L1156.72,406.98 L1157.48,406.96 L1158.23,406.94 L1158.99,406.92 L1159.74,406.91 L1160.50,406.89 L1161.25,406.88 L1162.01,406.86 L1162.76,406.85 L1163.52,406.84 L1164.27,406.83 L1165.03,406.82 L1165.78,406.81 L1166.54,406.81 L1167.30,406.80 L1168.05,406.80 L1168.81,406.79 L1169.56,406.79 L1170.32,406.78 L1171.07,406.78 L1171.83,406.78 L1172.58,406.78 L1173.34,406.77 L1174.09,406.77 L1174.85,406.77 L1175.60,406.77 L1176.36,406.77 L1177.11,406.77 L1177.87,406.77 L1178.62,406.77 L1179.38,406.77 L1180.14,406.77 L1180.89,406.77 L1181.65,406.77 L1182.40,406.78 L1183.16,406.78 L1183.91,406.78 L1184.67,406.78 L1185.42,406.79 L1186.18,406.79 L1186.93,406.80 L1187.69,406.80 L1188.44,406.81 L1189.20,406.81 L1189.95,406.82 L1190.71,406.83 L1191.46,406.84 L1192.22,406.85 L1192.97,406.86 L1193.73,406.88 L1194.49,406.89 L1195.24,406.91 L1196.00,406.92 L1196.75,406.94 L1197.51,406.97 L1198.26,406.99 L1199.02,407.01 L1199.77,407.04 L1200.53,407.07 L1201.28,407.10 L1202.04,407.13 L1202.79,407.17 L1203.55,407.20 L1204.30,407.24 L1205.06,407.29 L1205.81,407.33 L1206.57,407.38 L1207.33,407.43 L1208.08,407.48 L1208.84,407.53 L1209.59,407.59 L1210.35,407.65 L1211.10,407.71 L1211.86,407.78 L1212.61,407.84 L1213.37,407.91 L1214.12,407.98 L1214.88,408.05 L1215.63,408.13 L1216.39,408.21 L1217.14,408.28 L1217.90,408.36 L1218.65,408.45 L1219.41,408.53 L1220.16,408.61 L1220.92,408.70 L1221.68,408.79 L1222.43,408.88 L1223.19,408.96 L1223.94,409.05 L1224.70,409.15 L1225.45,409.24 L1226.21,409.33 L1226.96,409.42 L1227.72,409.51 L1228.47,409.61 L1229.23,409.70 L1229.98,409.79 L1230.74,409.89 L1231.49,409.98 L1232.25,410.07 L1233.00,410.17 L1233.76,410.26 L1234.52,410.35 L1235.27,410.45 L1236.03,410.54 L1236.78,410.63 L1237.54,410.73 L1238.29,410.82 L1239.05,410.91 L1239.80,411.00 L1240.56,411.09 L1241.31,411.18 L1242.07,411.28 L1242.82,411.37 L1243.58,411.46 L1244.33,411.55 L1245.09,411.64 L1245.84,411.73 L1246.60,411.82 L1247.35,411.91 L1248.11,412.00 L1248.87,412.08 L1249.62,412.17 L1250.38,412.26 L1251.13,412.35 L1251.89,412.44 L1252.64,412.53 L1253.40,412.61 L1254.15,412.70 L1254.91,412.79 L1255.66,412.88 L1256.42,412.96 L1257.17,413.05 L1257.93,413.13 L1258.68,413.22 L1259.44,413.30 L1260.19,413.39 L1260.95,413.47 L1261.71,413.56 L1262.46,413.64 L1263.22,413.72 L1263.97,413.80 L1264.73,413.88 L1265.48,413.96 L1266.24,414.04 L1266.99,414.12 L1267.75,414.20 L1268.50,414.28 L1269.26,414.35 L1270.01,414.43 L1270.77,414.50 L1271.52,414.57 L1272.28,414.65 L1273.03,414.72 L1273.79,414.79 L1274.54,414.86 L1275.30,414.92 L1276.06,414.99 L1276.81,415.06 L1277.57,415.12 L1278.32,415.19 L1279.08,415.25 L1279.83,415.31 L1280.59,415.37 L1281.34,415.43 L1282.10,415.49 L1282.85,415.54 L1283.61,415.60 L1284.36,415.65 L1285.12,415.71 L1285.87,415.76 L1286.63,415.81 L1287.38,415.86 L1288.14,415.91 L1288.90,415.96 L1289.65,416.01 L1290.41,416.05 L1291.16,416.10 L1291.92,416.14 L1292.67,416.19 L1293.43,416.23 L1294.18,416.27 L1294.94,416.31 L1295.69,416.35 L1296.45,416.39 L1297.20,416.43 L1297.96,416.47 L1298.71,416.51 L1299.47,416.54 L1300.22,416.58 L1300.98,416.61 L1301.74,416.65 L1302.49,416.68 L1303.25,416.71 L1304.00,416.75 L1304.76,416.78 L1305.51,416.81 L1306.27,416.84 L1307.02,416.87 L1307.78,416.90 L1308.53,416.92 L1309.29,416.95 L1310.04,416.98 L1310.80,417.00 L1311.55,417.03 L1312.31,417.05 L1313.06,417.07 L1313.82,417.10 L1314.57,417.12 L1315.33,417.14 L1316.09,417.16 L1316.84,417.18 L1317.60,417.19 L1318.35,417.21 L1319.11,417.23 L1319.86,417.24 L1320.62,417.26 L1321.37,417.27 L1322.13,417.29 L1322.88,417.30 L1323.64,417.31 L1324.39,417.32 L1325.15,417.33 L1325.90,417.34 L1326.66,417.35 L1327.41,417.36 L1328.17,417.37 L1328.93,417.37 L1329.68,417.38 L1330.44,417.39 L1331.19,417.39 L1331.95,417.40 L1332.70,417.40 L1333.46,417.41 L1334.21,417.41" fill="none" stroke="#EDB120" stroke-width="5.6" stroke-dasharray="22.4 22.4" stroke-linejoin="round"/>
<text x="0" y="0" font-family="Liberation Serif" font-size="38" text-anchor="middle" transform="translate(798.00,412.45) rotate(-90)">z [m]</text>
<text x="1137.40" y="562.00" font-family="Liberation Serif" font-size="38" font-weight="400" text-anchor="middle" fill="#000">time [s]</text>
<line x1="104.70" y1="692.50" x2="104.70" y2="687.00" stroke="#333333" stroke-width="1.3"/>
<line x1="104.70" y1="578.30" x2="104.70" y2="583.80" stroke="#333333" stroke-width="1.3"/>
<line x1="234.88" y1="692.50" x2="234.88" y2="687.00" stroke="#333333" stroke-width="1.3"/>
<line x1="234.88" y1="578.30" x2="234.88" y2="583.80" stroke="#333333" stroke-width="1.3"/>
<line x1="365.06" y1="692.50" x2="365.06" y2="687.00" stroke="#333333" stroke-width="1.3"/>
<line x1="365.06" y1="578.30" x2="365.06" y2="583.80" stroke="#333333" stroke-width="1.3"/>
<line x1="495.25" y1="692.50" x2="495.25" y2="687.00" stroke="#333333" stroke-width="1.3"/>
<line x1="495.25" y1="578.30" x2="495.25" y2="583.80" stroke="#333333" stroke-width="1.3"/>
<line x1="625.43" y1="692.50" x2="625.43" y2="687.00" stroke="#333333" stroke-width="1.3"/>
<line x1="625.43" y1="578.30" x2="625.43" y2="583.80" stroke="#333333" stroke-width="1.3"/>
<line x1="104.70" y1="692.50" x2="110.20" y2="692.50" stroke="#333333" stroke-width="1.3"/>
<line x1="677.50" y1="692.50" x2="672.00" y2="692.50" stroke="#333333" stroke-width="1.3"/>
<line x1="104.70" y1="635.40" x2="110.20" y2="635.40" stroke="#333333" stroke-width="1.3"/>
<line x1="677.50" y1="635.40" x2="672.00" y2="635.40" stroke="#333333" stroke-width="1.3"/>
<line x1="104.70" y1="578.30" x2="110.20" y2="578.30" stroke="#333333" stroke-width="1.3"/>
<line x1="677.50" y1="578.30" x2="672.00" y2="578.30" stroke="#333333" stroke-width="1.3"/>
<rect x="104.70" y="578.30" width="572.80" height="114.20" fill="none" stroke="#333333" stroke-width="1.3"/>
<text x="104.70" y="737.50" font-family="Liberation Serif" font-size="34.6" font-weight="400" text-anchor="middle" fill="#000">0</text>
<text x="234.88" y="737.50" font-family="Liberation Serif" font-size="34.6" font-weight="400" text-anchor="middle" fill="#000">0.5</text>
<text x="365.06" y="737.50" font-family="Liberation Serif" font-size="34.6" font-weight="400" text-anchor="middle" fill="#000">1</text>
<text x="495.25" y="737.50" font-family="Liberation Serif" font-size="34.6" font-weight="400" text-anchor="middle" fill="#000">1.5</text>
<text x="625.43" y="737.50" font-family="Liberation Serif" font-size="34.6" font-weight="400" text-anchor="middle" fill="#000">2</text>
<text x="91.20" y="704.50" font-family="Liberation Serif" font-size="34.6" font-weight="400" text-anchor="end" fill="#000">-1</text>
<text x="91.20" y="647.40" font-family="Liberation Serif" font-size="34.6" font-weight="400" text-anchor="end" fill="#000">0</text>
<text x="91.20" y="590.30" font-family="Liberation Serif" font-size="34.6" font-weight="400" text-anchor="end" fill="#000">1</text>
<path d="M104.70,635.37 L105.54,635.37 L106.39,635.37 L107.23,635.36 L108.07,635.36 L108.92,635.36 L109.76,635.35 L110.60,635.35 L111.45,635.34 L112.29,635.34 L113.13,635.33 L113.98,635.33 L114.82,635.32 L115.66,635.31 L116.51,635.31 L117.35,635.30 L118.19,635.29 L119.04,635.28 L119.88,635.27 L120.72,635.26 L121.56,635.25 L122.41,635.24 L123.25,635.23 L124.09,635.21 L124.94,635.20 L125.78,635.18 L126.62,635.17 L127.47,635.15 L128.31,635.13 L129.15,635.11 L130.00,635.09 L130.84,635.07 L131.68,635.04 L132.53,635.01 L133.37,634.99 L134.21,634.95 L135.06,634.92 L135.90,634.89 L136.74,634.85 L137.59,634.81 L138.43,634.76 L139.27,634.72 L140.12,634.67 L140.96,634.62 L141.80,634.56 L142.65,634.50 L143.49,634.44 L144.33,634.37 L145.18,634.30 L146.02,634.23 L146.86,634.15 L147.71,634.07 L148.55,633.99 L149.39,633.90 L150.24,633.81 L151.08,633.71 L151.92,633.61 L152.77,633.50 L153.61,633.39 L154.45,633.28 L155.29,633.16 L156.14,633.04 L156.98,632.92 L157.82,632.79 L158.67,632.66 L159.51,632.52 L160.35,632.38 L161.20,632.24 L162.04,632.09 L162.88,631.94 L163.73,631.79 L164.57,631.63 L165.41,631.47 L166.26,631.31 L167.10,631.15 L167.94,630.98 L168.79,630.81 L169.63,630.64 L170.47,630.47 L171.32,630.30 L172.16,630.12 L173.00,629.94 L173.85,629.76 L174.69,629.58 L175.53,629.40 L176.38,629.21 L177.22,629.03 L178.06,628.84 L178.91,628.66 L179.75,628.47 L180.59,628.28 L181.44,628.09 L182.28,627.90 L183.12,627.71 L183.97,627.51 L184.81,627.32 L185.65,627.13 L186.50,626.93 L187.34,626.74 L188.18,626.54 L189.02,626.34 L189.87,626.14 L190.71,625.94 L191.55,625.74 L192.40,625.54 L193.24,625.34 L194.08,625.14 L194.93,624.94 L195.77,624.73 L196.61,624.52 L197.46,624.32 L198.30,624.11 L199.14,623.90 L199.99,623.69 L200.83,623.48 L201.67,623.27 L202.52,623.06 L203.36,622.84 L204.20,622.63 L205.05,622.41 L205.89,622.19 L206.73,621.98 L207.58,621.76 L208.42,621.54 L209.26,621.31 L210.11,621.09 L210.95,620.87 L211.79,620.64 L212.64,620.42 L213.48,620.19 L214.32,619.96 L215.17,619.73 L216.01,619.50 L216.85,619.27 L217.70,619.04 L218.54,618.81 L219.38,618.58 L220.22,618.34 L221.07,618.11 L221.91,617.87 L222.75,617.63 L223.60,617.39 L224.44,617.15 L225.28,616.91 L226.13,616.67 L226.97,616.43 L227.81,616.18 L228.66,615.94 L229.50,615.69 L230.34,615.45 L231.19,615.20 L232.03,614.95 L232.87,614.70 L233.72,614.45 L234.56,614.20 L235.40,613.94 L236.25,613.69 L237.09,613.44 L237.93,613.18 L238.78,612.92 L239.62,612.67 L240.46,612.41 L241.31,612.15 L242.15,611.89 L242.99,611.63 L243.84,611.37 L244.68,611.11 L245.52,610.85 L246.37,610.59 L247.21,610.33 L248.05,610.07 L248.90,609.81 L249.74,609.55 L250.58,609.29 L251.43,609.03 L252.27,608.77 L253.11,608.52 L253.95,608.26 L254.80,608.00 L255.64,607.75 L256.48,607.50 L257.33,607.25 L258.17,607.00 L259.01,606.75 L259.86,606.50 L260.70,606.26 L261.54,606.01 L262.39,605.77 L263.23,605.53 L264.07,605.29 L264.92,605.06 L265.76,604.83 L266.60,604.60 L267.45,604.37 L268.29,604.14 L269.13,603.92 L269.98,603.69 L270.82,603.47 L271.66,603.26 L272.51,603.04 L273.35,602.83 L274.19,602.62 L275.04,602.41 L275.88,602.20 L276.72,602.00 L277.57,601.80 L278.41,601.60 L279.25,601.40 L280.10,601.20 L280.94,601.01 L281.78,600.82 L282.63,600.63 L283.47,600.44 L284.31,600.26 L285.16,600.07 L286.00,599.89 L286.84,599.72 L287.68,599.54 L288.53,599.37 L289.37,599.20 L290.21,599.03 L291.06,598.86 L291.90,598.70 L292.74,598.54 L293.59,598.38 L294.43,598.22 L295.27,598.06 L296.12,597.91 L296.96,597.76 L297.80,597.61 L298.65,597.47 L299.49,597.33 L300.33,597.19 L301.18,597.05 L302.02,596.92 L302.86,596.78 L303.71,596.66 L304.55,596.53 L305.39,596.40 L306.24,596.28 L307.08,596.17 L307.92,596.05 L308.77,595.94 L309.61,595.83 L310.45,595.72 L311.30,595.62 L312.14,595.52 L312.98,595.42 L313.83,595.32 L314.67,595.23 L315.51,595.14 L316.36,595.06 L317.20,594.98 L318.04,594.90 L318.88,594.83 L319.73,594.75 L320.57,594.69 L321.41,594.62 L322.26,594.56 L323.10,594.51 L323.94,594.46 L324.79,594.41 L325.63,594.36 L326.47,594.32 L327.32,594.29 L328.16,594.25 L329.00,594.23 L329.85,594.20 L330.69,594.18 L331.53,594.17 L332.38,594.16 L333.22,594.15 L334.06,594.15 L334.91,594.15 L335.75,594.16 L336.59,594.17 L337.44,594.18 L338.28,594.20 L339.12,594.23 L339.97,594.25 L340.81,594.29 L341.65,594.32 L342.50,594.36 L343.34,594.40 L344.18,594.45 L345.03,594.50 L345.87,594.56 L346.71,594.62 L347.56,594.68 L348.40,594.74 L349.24,594.81 L350.09,594.89 L350.93,594.96 L351.77,595.04 L352.61,595.12 L353.46,595.21 L354.30,595.30 L355.14,595.39 L355.99,595.49 L356.83,595.59 L357.67,595.70 L358.52,595.80 L359.36,595.91 L360.20,596.03 L361.05,596.14 L361.89,596.27 L362.73,596.39 L363.58,596.52 L364.42,596.65 L365.26,596.79 L366.11,596.92 L366.95,597.07 L367.79,597.21 L368.64,597.36 L369.48,597.52 L370.32,597.68 L371.17,597.84 L372.01,598.00 L372.85,598.17 L373.70,598.34 L374.54,598.52 L375.38,598.70 L376.23,598.88 L377.07,599.07 L377.91,599.26 L378.76,599.46 L379.60,599.65 L380.44,599.85 L381.29,600.06 L382.13,600.26 L382.97,600.47 L383.82,600.69 L384.66,600.90 L385.50,601.12 L386.34,601.34 L387.19,601.57 L388.03,601.79 L388.87,602.02 L389.72,602.25 L390.56,602.49 L391.40,602.72 L392.25,602.96 L393.09,603.20 L393.93,603.44 L394.78,603.68 L395.62,603.93 L396.46,604.17 L397.31,604.42 L398.15,604.67 L398.99,604.92 L399.84,605.18 L400.68,605.43 L401.52,605.69 L402.37,605.94 L403.21,606.20 L404.05,606.46 L404.90,606.72 L405.74,606.99 L406.58,607.25 L407.43,607.51 L408.27,607.78 L409.11,608.04 L409.96,608.31 L410.80,608.58 L411.64,608.85 L412.49,609.12 L413.33,609.38 L414.17,609.65 L415.02,609.93 L415.86,610.20 L416.70,610.47 L417.54,610.74 L418.39,611.01 L419.23,611.28 L420.07,611.55 L420.92,611.83 L421.76,612.10 L422.60,612.37 L423.45,612.64 L424.29,612.91 L425.13,613.18 L425.98,613.45 L426.82,613.72 L427.66,613.99 L428.51,614.26 L429.35,614.53 L430.19,614.80 L431.04,615.06 L431.88,615.33 L432.72,615.60 L433.57,615.86 L434.41,616.13 L435.25,616.39 L436.10,616.65 L436.94,616.91 L437.78,617.18 L438.63,617.44 L439.47,617.70 L440.31,617.96 L441.16,618.21 L442.00,618.47 L442.84,618.73 L443.69,618.98 L444.53,619.24 L445.37,619.49 L446.22,619.74 L447.06,619.99 L447.90,620.24 L448.75,620.49 L449.59,620.74 L450.43,620.98 L451.27,621.23 L452.12,621.47 L452.96,621.72 L453.80,621.96 L454.65,622.20 L455.49,622.43 L456.33,622.67 L457.18,622.91 L458.02,623.14 L458.86,623.37 L459.71,623.60 L460.55,623.83 L461.39,624.06 L462.24,624.29 L463.08,624.51 L463.92,624.73 L464.77,624.96 L465.61,625.18 L466.45,625.39 L467.30,625.61 L468.14,625.82 L468.98,626.04 L469.83,626.25 L470.67,626.46 L471.51,626.67 L472.36,626.88 L473.20,627.08 L474.04,627.29 L474.89,627.49 L475.73,627.69 L476.57,627.89 L477.42,628.09 L478.26,628.28 L479.10,628.48 L479.95,628.67 L480.79,628.86 L481.63,629.05 L482.48,629.24 L483.32,629.43 L484.16,629.61 L485.00,629.79 L485.85,629.98 L486.69,630.16 L487.53,630.33 L488.38,630.51 L489.22,630.68 L490.06,630.85 L490.91,631.02 L491.75,631.18 L492.59,631.35 L493.44,631.51 L494.28,631.67 L495.12,631.82 L495.97,631.97 L496.81,632.12 L497.65,632.27 L498.50,632.41 L499.34,632.55 L500.18,632.69 L501.03,632.82 L501.87,632.95 L502.71,633.07 L503.56,633.20 L504.40,633.31 L505.24,633.43 L506.09,633.54 L506.93,633.65 L507.77,633.75 L508.62,633.85 L509.46,633.95 L510.30,634.04 L511.15,634.13 L511.99,634.22 L512.83,634.30 L513.68,634.38 L514.52,634.46 L515.36,634.53 L516.20,634.60 L517.05,634.67 L517.89,634.73 L518.73,634.79 L519.58,634.85 L520.42,634.91 L521.26,634.96 L522.11,635.01 L522.95,635.06 L523.79,635.10 L524.64,635.15 L525.48,635.19 L526.32,635.23 L527.17,635.27 L528.01,635.30 L528.85,635.34 L529.70,635.37 L530.54,635.40 L531.38,635.43 L532.23,635.46 L533.07,635.49 L533.91,635.52 L534.76,635.54 L535.60,635.57 L536.44,635.59 L537.29,635.61 L538.13,635.63 L538.97,635.65 L539.82,635.67 L540.66,635.69 L541.50,635.71 L542.35,635.72 L543.19,635.74 L544.03,635.76 L544.88,635.77 L545.72,635.78 L546.56,635.80 L547.41,635.81 L548.25,635.82 L549.09,635.83 L549.93,635.84 L550.78,635.85 L551.62,635.86 L552.46,635.87 L553.31,635.88 L554.15,635.89 L554.99,635.90 L555.84,635.90 L556.68,635.91 L557.52,635.91 L558.37,635.92 L559.21,635.93 L560.05,635.93 L560.90,635.93 L561.74,635.94 L562.58,635.94 L563.43,635.94 L564.27,635.95 L565.11,635.95 L565.96,635.95 L566.80,635.95 L567.64,635.96 L568.49,635.96 L569.33,635.96 L570.17,635.96 L571.02,635.96 L571.86,635.96 L572.70,635.96 L573.55,635.97 L574.39,635.97 L575.23,635.97 L576.08,635.97 L576.92,635.97 L577.76,635.97 L578.61,635.97 L579.45,635.97 L580.29,635.97 L581.14,635.97 L581.98,635.97 L582.82,635.97 L583.66,635.97 L584.51,635.97 L585.35,635.97 L586.19,635.97 L587.04,635.97 L587.88,635.97 L588.72,635.97 L589.57,635.97 L590.41,635.97 L591.25,635.97 L592.10,635.97 L592.94,635.97 L593.78,635.97 L594.63,635.97 L595.47,635.97 L596.31,635.97 L597.16,635.97 L598.00,635.97 L598.84,635.97 L599.69,635.97 L600.53,635.97 L601.37,635.97 L602.22,635.97 L603.06,635.97 L603.90,635.97 L604.75,635.97 L605.59,635.97 L606.43,635.97 L607.28,635.97 L608.12,635.97 L608.96,635.97 L609.81,635.97" fill="none" stroke="#0072BD" stroke-width="5.6" stroke-linejoin="round"/>
<path d="M104.70,635.34 L105.62,635.34 L106.53,635.33 L107.45,635.32 L108.37,635.31 L109.28,635.30 L110.20,635.29 L111.11,635.28 L112.03,635.27 L112.95,635.26 L113.86,635.25 L114.78,635.23 L115.70,635.22 L116.61,635.20 L117.53,635.19 L118.44,635.17 L119.36,635.15 L120.28,635.13 L121.19,635.11 L122.11,635.09 L123.03,635.07 L123.94,635.05 L124.86,635.03 L125.77,635.00 L126.69,634.98 L127.61,634.95 L128.52,634.93 L129.44,634.90 L130.36,634.87 L131.27,634.84 L132.19,634.81 L133.10,634.78 L134.02,634.75 L134.94,634.72 L135.85,634.69 L136.77,634.65 L137.69,634.62 L138.60,634.58 L139.52,634.54 L140.43,634.51 L141.35,634.47 L142.27,634.43 L143.18,634.39 L144.10,634.35 L145.02,634.30 L145.93,634.26 L146.85,634.21 L147.76,634.16 L148.68,634.12 L149.60,634.07 L150.51,634.02 L151.43,633.96 L152.35,633.91 L153.26,633.85 L154.18,633.79 L155.09,633.73 L156.01,633.67 L156.93,633.61 L157.84,633.54 L158.76,633.47 L159.68,633.40 L160.59,633.33 L161.51,633.26 L162.43,633.18 L163.34,633.10 L164.26,633.01 L165.17,632.93 L166.09,632.84 L167.01,632.75 L167.92,632.66 L168.84,632.56 L169.76,632.46 L170.67,632.36 L171.59,632.25 L172.50,632.15 L173.42,632.04 L174.34,631.93 L175.25,631.81 L176.17,631.69 L177.09,631.57 L178.00,631.45 L178.92,631.33 L179.83,631.20 L180.75,631.07 L181.67,630.94 L182.58,630.80 L183.50,630.67 L184.42,630.53 L185.33,630.39 L186.25,630.25 L187.16,630.11 L188.08,629.96 L189.00,629.82 L189.91,629.67 L190.83,629.52 L191.75,629.37 L192.66,629.22 L193.58,629.07 L194.49,628.92 L195.41,628.77 L196.33,628.61 L197.24,628.46 L198.16,628.30 L199.08,628.14 L199.99,627.98 L200.91,627.82 L201.82,627.66 L202.74,627.50 L203.66,627.34 L204.57,627.18 L205.49,627.01 L206.41,626.85 L207.32,626.69 L208.24,626.52 L209.15,626.35 L210.07,626.18 L210.99,626.02 L211.90,625.85 L212.82,625.68 L213.74,625.50 L214.65,625.33 L215.57,625.16 L216.49,624.98 L217.40,624.81 L218.32,624.63 L219.23,624.46 L220.15,624.28 L221.07,624.10 L221.98,623.92 L222.90,623.74 L223.82,623.56 L224.73,623.37 L225.65,623.19 L226.56,623.00 L227.48,622.82 L228.40,622.63 L229.31,622.44 L230.23,622.26 L231.15,622.07 L232.06,621.88 L232.98,621.69 L233.89,621.49 L234.81,621.30 L235.73,621.11 L236.64,620.91 L237.56,620.72 L238.48,620.52 L239.39,620.32 L240.31,620.12 L241.22,619.93 L242.14,619.73 L243.06,619.52 L243.97,619.32 L244.89,619.12 L245.81,618.92 L246.72,618.71 L247.64,618.51 L248.55,618.30 L249.47,618.09 L250.39,617.89 L251.30,617.68 L252.22,617.47 L253.14,617.26 L254.05,617.04 L254.97,616.83 L255.88,616.62 L256.80,616.41 L257.72,616.19 L258.63,615.98 L259.55,615.76 L260.47,615.54 L261.38,615.33 L262.30,615.11 L263.21,614.89 L264.13,614.68 L265.05,614.46 L265.96,614.24 L266.88,614.02 L267.80,613.80 L268.71,613.59 L269.63,613.37 L270.55,613.15 L271.46,612.93 L272.38,612.71 L273.29,612.50 L274.21,612.28 L275.13,612.07 L276.04,611.85 L276.96,611.64 L277.88,611.42 L278.79,611.21 L279.71,611.00 L280.62,610.79 L281.54,610.58 L282.46,610.37 L283.37,610.16 L284.29,609.96 L285.21,609.75 L286.12,609.54 L287.04,609.34 L287.95,609.14 L288.87,608.94 L289.79,608.74 L290.70,608.54 L291.62,608.34 L292.54,608.14 L293.45,607.94 L294.37,607.75 L295.28,607.56 L296.20,607.36 L297.12,607.17 L298.03,606.98 L298.95,606.79 L299.87,606.60 L300.78,606.42 L301.70,606.23 L302.61,606.05 L303.53,605.87 L304.45,605.68 L305.36,605.50 L306.28,605.33 L307.20,605.15 L308.11,604.97 L309.03,604.80 L309.94,604.63 L310.86,604.46 L311.78,604.29 L312.69,604.12 L313.61,603.96 L314.53,603.80 L315.44,603.64 L316.36,603.48 L317.27,603.32 L318.19,603.17 L319.11,603.02 L320.02,602.87 L320.94,602.72 L321.86,602.58 L322.77,602.44 L323.69,602.30 L324.61,602.16 L325.52,602.03 L326.44,601.90 L327.35,601.77 L328.27,601.64 L329.19,601.52 L330.10,601.40 L331.02,601.28 L331.94,601.16 L332.85,601.05 L333.77,600.94 L334.68,600.83 L335.60,600.72 L336.52,600.62 L337.43,600.52 L338.35,600.42 L339.27,600.32 L340.18,600.22 L341.10,600.13 L342.01,600.04 L342.93,599.95 L343.85,599.86 L344.76,599.77 L345.68,599.69 L346.60,599.61 L347.51,599.53 L348.43,599.45 L349.34,599.37 L350.26,599.30 L351.18,599.22 L352.09,599.15 L353.01,599.08 L353.93,599.01 L354.84,598.95 L355.76,598.89 L356.67,598.83 L357.59,598.77 L358.51,598.71 L359.42,598.65 L360.34,598.60 L361.26,598.55 L362.17,598.51 L363.09,598.46 L364.00,598.42 L364.92,598.38 L365.84,598.34 L366.75,598.31 L367.67,598.28 L368.59,598.25 L369.50,598.23 L370.42,598.21 L371.33,598.19 L372.25,598.18 L373.17,598.17 L374.08,598.17 L375.00,598.16 L375.92,598.17 L376.83,598.17 L377.75,598.18 L378.67,598.20 L379.58,598.22 L380.50,598.24 L381.41,598.27 L382.33,598.30 L383.25,598.34 L384.16,598.38 L385.08,598.43 L386.00,598.48 L386.91,598.53 L387.83,598.59 L388.74,598.65 L389.66,598.72 L390.58,598.80 L391.49,598.87 L392.41,598.95 L393.33,599.04 L394.24,599.13 L395.16,599.22 L396.07,599.32 L396.99,599.42 L397.91,599.52 L398.82,599.63 L399.74,599.74 L400.66,599.85 L401.57,599.97 L402.49,600.09 L403.40,600.22 L404.32,600.34 L405.24,600.47 L406.15,600.60 L407.07,600.74 L407.99,600.88 L408.90,601.01 L409.82,601.16 L410.73,601.30 L411.65,601.44 L412.57,601.59 L413.48,601.74 L414.40,601.89 L415.32,602.04 L416.23,602.20 L417.15,602.36 L418.06,602.51 L418.98,602.67 L419.90,602.84 L420.81,603.00 L421.73,603.17 L422.65,603.33 L423.56,603.50 L424.48,603.67 L425.39,603.85 L426.31,604.02 L427.23,604.20 L428.14,604.37 L429.06,604.55 L429.98,604.74 L430.89,604.92 L431.81,605.11 L432.73,605.30 L433.64,605.49 L434.56,605.68 L435.47,605.87 L436.39,606.07 L437.31,606.26 L438.22,606.46 L439.14,606.67 L440.06,606.87 L440.97,607.07 L441.89,607.28 L442.80,607.49 L443.72,607.70 L444.64,607.91 L445.55,608.12 L446.47,608.34 L447.39,608.55 L448.30,608.77 L449.22,608.99 L450.13,609.21 L451.05,609.43 L451.97,609.65 L452.88,609.88 L453.80,610.10 L454.72,610.32 L455.63,610.55 L456.55,610.78 L457.46,611.01 L458.38,611.23 L459.30,611.46 L460.21,611.69 L461.13,611.92 L462.05,612.16 L462.96,612.39 L463.88,612.62 L464.79,612.86 L465.71,613.09 L466.63,613.33 L467.54,613.56 L468.46,613.80 L469.38,614.04 L470.29,614.27 L471.21,614.51 L472.12,614.75 L473.04,614.99 L473.96,615.23 L474.87,615.47 L475.79,615.71 L476.71,615.95 L477.62,616.19 L478.54,616.44 L479.45,616.68 L480.37,616.92 L481.29,617.16 L482.20,617.40 L483.12,617.64 L484.04,617.89 L484.95,618.13 L485.87,618.37 L486.79,618.61 L487.70,618.85 L488.62,619.09 L489.53,619.32 L490.45,619.56 L491.37,619.80 L492.28,620.03 L493.20,620.26 L494.12,620.50 L495.03,620.73 L495.95,620.96 L496.86,621.18 L497.78,621.41 L498.70,621.63 L499.61,621.86 L500.53,622.08 L501.45,622.30 L502.36,622.51 L503.28,622.73 L504.19,622.94 L505.11,623.15 L506.03,623.36 L506.94,623.56 L507.86,623.77 L508.78,623.97 L509.69,624.17 L510.61,624.37 L511.52,624.56 L512.44,624.76 L513.36,624.95 L514.27,625.14 L515.19,625.33 L516.11,625.51 L517.02,625.69 L517.94,625.88 L518.85,626.06 L519.77,626.23 L520.69,626.41 L521.60,626.58 L522.52,626.76 L523.44,626.93 L524.35,627.09 L525.27,627.26 L526.18,627.43 L527.10,627.59 L528.02,627.75 L528.93,627.91 L529.85,628.07 L530.77,628.22 L531.68,628.38 L532.60,628.53 L533.51,628.68 L534.43,628.83 L535.35,628.98 L536.26,629.12 L537.18,629.27 L538.10,629.41 L539.01,629.55 L539.93,629.69 L540.85,629.82 L541.76,629.96 L542.68,630.09 L543.59,630.22 L544.51,630.35 L545.43,630.48 L546.34,630.61 L547.26,630.73 L548.18,630.85 L549.09,630.97 L550.01,631.09 L550.92,631.21 L551.84,631.33 L552.76,631.44 L553.67,631.56 L554.59,631.67 L555.51,631.78 L556.42,631.89 L557.34,631.99 L558.25,632.10 L559.17,632.21 L560.09,632.31 L561.00,632.41 L561.92,632.51 L562.84,632.61 L563.75,632.71 L564.67,632.80 L565.58,632.90 L566.50,632.99 L567.42,633.08 L568.33,633.18 L569.25,633.27 L570.17,633.35 L571.08,633.44 L572.00,633.53 L572.91,633.61 L573.83,633.69 L574.75,633.77 L575.66,633.85 L576.58,633.93 L577.50,634.01 L578.41,634.08 L579.33,634.16 L580.24,634.23 L581.16,634.30 L582.08,634.37 L582.99,634.44 L583.91,634.51 L584.83,634.57 L585.74,634.63 L586.66,634.70 L587.58,634.76 L588.49,634.82 L589.41,634.87 L590.32,634.93 L591.24,634.98 L592.16,635.04 L593.07,635.09 L593.99,635.14 L594.91,635.19 L595.82,635.24 L596.74,635.28 L597.65,635.33 L598.57,635.37 L599.49,635.42 L600.40,635.46 L601.32,635.50 L602.24,635.54 L603.15,635.58 L604.07,635.61 L604.98,635.65 L605.90,635.69 L606.82,635.72 L607.73,635.76 L608.65,635.79 L609.57,635.82 L610.48,635.85 L611.40,635.89 L612.31,635.92 L613.23,635.94 L614.15,635.97 L615.06,636.00 L615.98,636.03 L616.90,636.05 L617.81,636.08 L618.73,636.10 L619.64,636.13 L620.56,636.15 L621.48,636.17 L622.39,636.20 L623.31,636.22 L624.23,636.24 L625.14,636.26 L626.06,636.28 L626.97,636.29 L627.89,636.31 L628.81,636.33 L629.72,636.34 L630.64,636.36 L631.56,636.37 L632.47,636.38 L633.39,636.40 L634.30,636.41 L635.22,636.42 L636.14,636.43 L637.05,636.44 L637.97,636.45 L638.89,636.46 L639.80,636.47 L640.72,636.47 L641.64,636.48 L642.55,636.49 L643.47,636.49 L644.38,636.50 L645.30,636.50 L646.22,636.51 L647.13,636.51 L648.05,636.52 L648.97,636.52 L649.88,636.52 L650.80,636.52 L651.71,636.53 L652.63,636.53 L653.55,636.53" fill="none" stroke="#D95319" stroke-width="5.6" stroke-dasharray="22.4 22.4" stroke-linejoin="round"/>
<path d="M104.70,635.32 L105.54,635.31 L106.38,635.30 L107.22,635.29 L108.06,635.28 L108.90,635.27 L109.74,635.26 L110.58,635.25 L111.42,635.24 L112.26,635.22 L113.10,635.21 L113.94,635.19 L114.78,635.17 L115.62,635.16 L116.46,635.14 L117.30,635.12 L118.14,635.10 L118.98,635.08 L119.82,635.05 L120.66,635.03 L121.50,635.01 L122.34,634.98 L123.18,634.96 L124.02,634.93 L124.86,634.90 L125.71,634.87 L126.55,634.84 L127.39,634.81 L128.23,634.78 L129.07,634.75 L129.91,634.71 L130.75,634.68 L131.59,634.64 L132.43,634.60 L133.27,634.57 L134.11,634.53 L134.95,634.49 L135.79,634.45 L136.63,634.41 L137.47,634.36 L138.31,634.32 L139.15,634.28 L139.99,634.23 L140.83,634.18 L141.67,634.14 L142.51,634.09 L143.35,634.04 L144.19,633.99 L145.03,633.94 L145.87,633.88 L146.71,633.83 L147.55,633.77 L148.39,633.71 L149.23,633.65 L150.07,633.59 L150.91,633.53 L151.75,633.47 L152.59,633.40 L153.43,633.34 L154.27,633.27 L155.11,633.20 L155.95,633.12 L156.79,633.05 L157.63,632.97 L158.47,632.89 L159.31,632.81 L160.15,632.73 L160.99,632.64 L161.83,632.55 L162.67,632.46 L163.51,632.37 L164.35,632.27 L165.19,632.17 L166.03,632.07 L166.88,631.97 L167.72,631.86 L168.56,631.75 L169.40,631.64 L170.24,631.52 L171.08,631.40 L171.92,631.28 L172.76,631.16 L173.60,631.03 L174.44,630.90 L175.28,630.77 L176.12,630.63 L176.96,630.50 L177.80,630.36 L178.64,630.22 L179.48,630.07 L180.32,629.92 L181.16,629.78 L182.00,629.62 L182.84,629.47 L183.68,629.32 L184.52,629.16 L185.36,629.00 L186.20,628.84 L187.04,628.68 L187.88,628.51 L188.72,628.35 L189.56,628.18 L190.40,628.01 L191.24,627.84 L192.08,627.67 L192.92,627.49 L193.76,627.32 L194.60,627.14 L195.44,626.96 L196.28,626.79 L197.12,626.61 L197.96,626.42 L198.80,626.24 L199.64,626.06 L200.48,625.88 L201.32,625.69 L202.16,625.50 L203.00,625.32 L203.84,625.13 L204.68,624.94 L205.52,624.75 L206.36,624.55 L207.21,624.36 L208.05,624.17 L208.89,623.97 L209.73,623.77 L210.57,623.58 L211.41,623.38 L212.25,623.18 L213.09,622.98 L213.93,622.77 L214.77,622.57 L215.61,622.37 L216.45,622.16 L217.29,621.95 L218.13,621.75 L218.97,621.54 L219.81,621.33 L220.65,621.12 L221.49,620.91 L222.33,620.69 L223.17,620.48 L224.01,620.27 L224.85,620.05 L225.69,619.84 L226.53,619.62 L227.37,619.40 L228.21,619.18 L229.05,618.97 L229.89,618.75 L230.73,618.53 L231.57,618.31 L232.41,618.09 L233.25,617.87 L234.09,617.64 L234.93,617.42 L235.77,617.20 L236.61,616.98 L237.45,616.75 L238.29,616.53 L239.13,616.31 L239.97,616.08 L240.81,615.86 L241.65,615.64 L242.49,615.41 L243.33,615.19 L244.17,614.96 L245.01,614.74 L245.85,614.51 L246.69,614.28 L247.53,614.06 L248.38,613.83 L249.22,613.61 L250.06,613.38 L250.90,613.15 L251.74,612.93 L252.58,612.70 L253.42,612.47 L254.26,612.25 L255.10,612.02 L255.94,611.79 L256.78,611.57 L257.62,611.34 L258.46,611.11 L259.30,610.89 L260.14,610.66 L260.98,610.44 L261.82,610.21 L262.66,609.99 L263.50,609.76 L264.34,609.54 L265.18,609.32 L266.02,609.09 L266.86,608.87 L267.70,608.65 L268.54,608.43 L269.38,608.21 L270.22,607.99 L271.06,607.78 L271.90,607.56 L272.74,607.35 L273.58,607.13 L274.42,606.92 L275.26,606.71 L276.10,606.50 L276.94,606.29 L277.78,606.09 L278.62,605.88 L279.46,605.68 L280.30,605.48 L281.14,605.28 L281.98,605.08 L282.82,604.88 L283.66,604.69 L284.50,604.49 L285.34,604.30 L286.18,604.11 L287.02,603.92 L287.86,603.73 L288.70,603.54 L289.55,603.36 L290.39,603.18 L291.23,602.99 L292.07,602.81 L292.91,602.63 L293.75,602.46 L294.59,602.28 L295.43,602.11 L296.27,601.93 L297.11,601.76 L297.95,601.59 L298.79,601.42 L299.63,601.26 L300.47,601.09 L301.31,600.93 L302.15,600.77 L302.99,600.61 L303.83,600.45 L304.67,600.29 L305.51,600.14 L306.35,599.99 L307.19,599.84 L308.03,599.69 L308.87,599.55 L309.71,599.41 L310.55,599.27 L311.39,599.13 L312.23,599.00 L313.07,598.87 L313.91,598.74 L314.75,598.61 L315.59,598.49 L316.43,598.38 L317.27,598.26 L318.11,598.15 L318.95,598.04 L319.79,597.94 L320.63,597.84 L321.47,597.75 L322.31,597.66 L323.15,597.57 L323.99,597.49 L324.83,597.41 L325.67,597.33 L326.51,597.26 L327.35,597.20 L328.19,597.14 L329.03,597.08 L329.87,597.02 L330.72,596.98 L331.56,596.93 L332.40,596.89 L333.24,596.85 L334.08,596.82 L334.92,596.79 L335.76,596.76 L336.60,596.74 L337.44,596.72 L338.28,596.71 L339.12,596.70 L339.96,596.69 L340.80,596.68 L341.64,596.68 L342.48,596.68 L343.32,596.69 L344.16,596.70 L345.00,596.71 L345.84,596.72 L346.68,596.73 L347.52,596.75 L348.36,596.77 L349.20,596.79 L350.04,596.82 L350.88,596.85 L351.72,596.88 L352.56,596.91 L353.40,596.94 L354.24,596.98 L355.08,597.01 L355.92,597.05 L356.76,597.09 L357.60,597.14 L358.44,597.18 L359.28,597.23 L360.12,597.28 L360.96,597.33 L361.80,597.39 L362.64,597.44 L363.48,597.50 L364.32,597.56 L365.16,597.62 L366.00,597.69 L366.84,597.76 L367.68,597.83 L368.52,597.90 L369.36,597.98 L370.20,598.06 L371.05,598.14 L371.89,598.23 L372.73,598.31 L373.57,598.41 L374.41,598.50 L375.25,598.60 L376.09,598.71 L376.93,598.82 L377.77,598.93 L378.61,599.05 L379.45,599.17 L380.29,599.29 L381.13,599.42 L381.97,599.56 L382.81,599.70 L383.65,599.85 L384.49,600.00 L385.33,600.15 L386.17,600.31 L387.01,600.48 L387.85,600.65 L388.69,600.82 L389.53,601.00 L390.37,601.19 L391.21,601.38 L392.05,601.57 L392.89,601.77 L393.73,601.97 L394.57,602.18 L395.41,602.39 L396.25,602.61 L397.09,602.83 L397.93,603.05 L398.77,603.28 L399.61,603.51 L400.45,603.75 L401.29,603.98 L402.13,604.22 L402.97,604.46 L403.81,604.71 L404.65,604.95 L405.49,605.20 L406.33,605.45 L407.17,605.70 L408.01,605.95 L408.85,606.20 L409.69,606.46 L410.53,606.71 L411.37,606.97 L412.22,607.22 L413.06,607.48 L413.90,607.74 L414.74,607.99 L415.58,608.25 L416.42,608.50 L417.26,608.76 L418.10,609.01 L418.94,609.27 L419.78,609.52 L420.62,609.78 L421.46,610.03 L422.30,610.28 L423.14,610.54 L423.98,610.79 L424.82,611.04 L425.66,611.29 L426.50,611.54 L427.34,611.79 L428.18,612.04 L429.02,612.28 L429.86,612.53 L430.70,612.78 L431.54,613.02 L432.38,613.27 L433.22,613.52 L434.06,613.76 L434.90,614.00 L435.74,614.25 L436.58,614.49 L437.42,614.73 L438.26,614.98 L439.10,615.22 L439.94,615.46 L440.78,615.70 L441.62,615.94 L442.46,616.18 L443.30,616.42 L444.14,616.66 L444.98,616.90 L445.82,617.14 L446.66,617.37 L447.50,617.61 L448.34,617.85 L449.18,618.08 L450.02,618.32 L450.86,618.55 L451.70,618.78 L452.54,619.02 L453.39,619.25 L454.23,619.48 L455.07,619.71 L455.91,619.94 L456.75,620.17 L457.59,620.40 L458.43,620.63 L459.27,620.86 L460.11,621.09 L460.95,621.31 L461.79,621.54 L462.63,621.76 L463.47,621.99 L464.31,622.21 L465.15,622.44 L465.99,622.66 L466.83,622.88 L467.67,623.10 L468.51,623.32 L469.35,623.54 L470.19,623.76 L471.03,623.98 L471.87,624.20 L472.71,624.42 L473.55,624.63 L474.39,624.85 L475.23,625.06 L476.07,625.28 L476.91,625.49 L477.75,625.70 L478.59,625.91 L479.43,626.12 L480.27,626.32 L481.11,626.53 L481.95,626.73 L482.79,626.94 L483.63,627.14 L484.47,627.34 L485.31,627.53 L486.15,627.73 L486.99,627.92 L487.83,628.11 L488.67,628.30 L489.51,628.49 L490.35,628.67 L491.19,628.85 L492.03,629.03 L492.87,629.21 L493.72,629.38 L494.56,629.55 L495.40,629.72 L496.24,629.89 L497.08,630.05 L497.92,630.21 L498.76,630.36 L499.60,630.52 L500.44,630.67 L501.28,630.82 L502.12,630.96 L502.96,631.11 L503.80,631.25 L504.64,631.38 L505.48,631.52 L506.32,631.65 L507.16,631.78 L508.00,631.90 L508.84,632.03 L509.68,632.15 L510.52,632.27 L511.36,632.38 L512.20,632.50 L513.04,632.61 L513.88,632.72 L514.72,632.83 L515.56,632.93 L516.40,633.03 L517.24,633.13 L518.08,633.23 L518.92,633.33 L519.76,633.42 L520.60,633.52 L521.44,633.61 L522.28,633.70 L523.12,633.78 L523.96,633.87 L524.80,633.95 L525.64,634.03 L526.48,634.11 L527.32,634.19 L528.16,634.26 L529.00,634.34 L529.84,634.41 L530.68,634.48 L531.52,634.55 L532.36,634.61 L533.20,634.68 L534.04,634.74 L534.89,634.80 L535.73,634.86 L536.57,634.91 L537.41,634.97 L538.25,635.02 L539.09,635.07 L539.93,635.12 L540.77,635.17 L541.61,635.21 L542.45,635.25 L543.29,635.29 L544.13,635.33 L544.97,635.37 L545.81,635.41 L546.65,635.44 L547.49,635.47 L548.33,635.50 L549.17,635.53 L550.01,635.56 L550.85,635.58 L551.69,635.61 L552.53,635.63 L553.37,635.65 L554.21,635.67 L555.05,635.69 L555.89,635.71 L556.73,635.72 L557.57,635.74 L558.41,635.75 L559.25,635.76 L560.09,635.78 L560.93,635.79 L561.77,635.80 L562.61,635.81 L563.45,635.82 L564.29,635.83 L565.13,635.83 L565.97,635.84 L566.81,635.85 L567.65,635.86 L568.49,635.86 L569.33,635.87 L570.17,635.87 L571.01,635.88 L571.85,635.88 L572.69,635.89 L573.53,635.89 L574.37,635.90 L575.21,635.90 L576.06,635.90 L576.90,635.91 L577.74,635.91 L578.58,635.91 L579.42,635.92 L580.26,635.92 L581.10,635.92 L581.94,635.92 L582.78,635.93 L583.62,635.93 L584.46,635.93 L585.30,635.93 L586.14,635.94 L586.98,635.94 L587.82,635.94 L588.66,635.94 L589.50,635.94 L590.34,635.94 L591.18,635.95 L592.02,635.95 L592.86,635.95 L593.70,635.95 L594.54,635.95 L595.38,635.95 L596.22,635.96 L597.06,635.96 L597.90,635.96 L598.74,635.96 L599.58,635.96 L600.42,635.96 L601.26,635.96 L602.10,635.96 L602.94,635.96 L603.78,635.96 L604.62,635.96 L605.46,635.96 L606.30,635.97 L607.14,635.97 L607.98,635.97" fill="none" stroke="#EDB120" stroke-width="5.6" stroke-dasharray="22.4 22.4" stroke-linejoin="round"/>
<line x1="104.70" y1="854.30" x2="104.70" y2="848.80" stroke="#333333" stroke-width="1.3"/>
<line x1="104.70" y1="742.40" x2="104.70" y2="747.90" stroke="#333333" stroke-width="1.3"/>
<line x1="234.88" y1="854.30" x2="234.88" y2="848.80" stroke="#333333" stroke-width="1.3"/>
<line x1="234.88" y1="742.40" x2="234.88" y2="747.90" stroke="#333333" stroke-width="1.3"/>
<line x1="365.06" y1="854.30" x2="365.06" y2="848.80" stroke="#333333" stroke-width="1.3"/>
<line x1="365.06" y1="742.40" x2="365.06" y2="747.90" stroke="#333333" stroke-width="1.3"/>
<line x1="495.25" y1="854.30" x2="495.25" y2="848.80" stroke="#333333" stroke-width="1.3"/>
<line x1="495.25" y1="742.40" x2="495.25" y2="747.90" stroke="#333333" stroke-width="1.3"/>
<line x1="625.43" y1="854.30" x2="625.43" y2="848.80" stroke="#333333" stroke-width="1.3"/>
<line x1="625.43" y1="742.40" x2="625.43" y2="747.90" stroke="#333333" stroke-width="1.3"/>
<line x1="104.70" y1="854.30" x2="110.20" y2="854.30" stroke="#333333" stroke-width="1.3"/>
<line x1="677.50" y1="854.30" x2="672.00" y2="854.30" stroke="#333333" stroke-width="1.3"/>
<line x1="104.70" y1="798.35" x2="110.20" y2="798.35" stroke="#333333" stroke-width="1.3"/>
<line x1="677.50" y1="798.35" x2="672.00" y2="798.35" stroke="#333333" stroke-width="1.3"/>
<line x1="104.70" y1="742.40" x2="110.20" y2="742.40" stroke="#333333" stroke-width="1.3"/>
<line x1="677.50" y1="742.40" x2="672.00" y2="742.40" stroke="#333333" stroke-width="1.3"/>
<rect x="104.70" y="742.40" width="572.80" height="111.90" fill="none" stroke="#333333" stroke-width="1.3"/>
<text x="104.70" y="899.30" font-family="Liberation Serif" font-size="34.6" font-weight="400" text-anchor="middle" fill="#000">0</text>
<text x="234.88" y="899.30" font-family="Liberation Serif" font-size="34.6" font-weight="400" text-anchor="middle" fill="#000">0.5</text>
<text x="365.06" y="899.30" font-family="Liberation Serif" font-size="34.6" font-weight="400" text-anchor="middle" fill="#000">1</text>
<text x="495.25" y="899.30" font-family="Liberation Serif" font-size="34.6" font-weight="400" text-anchor="middle" fill="#000">1.5</text>
<text x="625.43" y="899.30" font-family="Liberation Serif" font-size="34.6" font-weight="400" text-anchor="middle" fill="#000">2</text>
<text x="91.20" y="866.30" font-family="Liberation Serif" font-size="34.6" font-weight="400" text-anchor="end" fill="#000">-0.5</text>
<text x="91.20" y="810.35" font-family="Liberation Serif" font-size="34.6" font-weight="400" text-anchor="end" fill="#000">0</text>
<text x="91.20" y="754.40" font-family="Liberation Serif" font-size="34.6" font-weight="400" text-anchor="end" fill="#000">0.5</text>
<path d="M104.70,796.72 L105.54,796.70 L106.39,796.69 L107.23,796.67 L108.07,796.66 L108.92,796.64 L109.76,796.63 L110.60,796.61 L111.45,796.59 L112.29,796.58 L113.13,796.56 L113.98,796.54 L114.82,796.52 L115.66,796.51 L116.51,796.49 L117.35,796.47 L118.19,796.45 L119.04,796.44 L119.88,796.42 L120.72,796.40 L121.56,796.39 L122.41,796.37 L123.25,796.35 L124.09,796.34 L124.94,796.32 L125.78,796.30 L126.62,796.29 L127.47,796.28 L128.31,796.26 L129.15,796.25 L130.00,796.23 L130.84,796.22 L131.68,796.21 L132.53,796.20 L133.37,796.18 L134.21,796.17 L135.06,796.16 L135.90,796.15 L136.74,796.14 L137.59,796.13 L138.43,796.13 L139.27,796.12 L140.12,796.11 L140.96,796.10 L141.80,796.10 L142.65,796.09 L143.49,796.08 L144.33,796.08 L145.18,796.07 L146.02,796.07 L146.86,796.07 L147.71,796.06 L148.55,796.06 L149.39,796.06 L150.24,796.06 L151.08,796.05 L151.92,796.05 L152.77,796.05 L153.61,796.05 L154.45,796.05 L155.29,796.06 L156.14,796.06 L156.98,796.06 L157.82,796.06 L158.67,796.07 L159.51,796.07 L160.35,796.08 L161.20,796.08 L162.04,796.09 L162.88,796.10 L163.73,796.11 L164.57,796.12 L165.41,796.13 L166.26,796.14 L167.10,796.15 L167.94,796.16 L168.79,796.18 L169.63,796.20 L170.47,796.21 L171.32,796.23 L172.16,796.25 L173.00,796.27 L173.85,796.29 L174.69,796.32 L175.53,796.34 L176.38,796.37 L177.22,796.40 L178.06,796.43 L178.91,796.46 L179.75,796.49 L180.59,796.53 L181.44,796.56 L182.28,796.60 L183.12,796.64 L183.97,796.69 L184.81,796.73 L185.65,796.78 L186.50,796.84 L187.34,796.89 L188.18,796.95 L189.02,797.01 L189.87,797.07 L190.71,797.14 L191.55,797.21 L192.40,797.28 L193.24,797.36 L194.08,797.44 L194.93,797.52 L195.77,797.61 L196.61,797.70 L197.46,797.80 L198.30,797.90 L199.14,798.01 L199.99,798.12 L200.83,798.23 L201.67,798.35 L202.52,798.47 L203.36,798.60 L204.20,798.74 L205.05,798.87 L205.89,799.01 L206.73,799.16 L207.58,799.31 L208.42,799.47 L209.26,799.63 L210.11,799.79 L210.95,799.96 L211.79,800.14 L212.64,800.31 L213.48,800.50 L214.32,800.68 L215.17,800.87 L216.01,801.07 L216.85,801.26 L217.70,801.47 L218.54,801.67 L219.38,801.88 L220.22,802.09 L221.07,802.31 L221.91,802.53 L222.75,802.75 L223.60,802.98 L224.44,803.20 L225.28,803.44 L226.13,803.67 L226.97,803.91 L227.81,804.15 L228.66,804.39 L229.50,804.64 L230.34,804.89 L231.19,805.14 L232.03,805.39 L232.87,805.65 L233.72,805.91 L234.56,806.17 L235.40,806.44 L236.25,806.70 L237.09,806.97 L237.93,807.25 L238.78,807.52 L239.62,807.80 L240.46,808.08 L241.31,808.36 L242.15,808.65 L242.99,808.94 L243.84,809.23 L244.68,809.52 L245.52,809.82 L246.37,810.12 L247.21,810.42 L248.05,810.72 L248.90,811.02 L249.74,811.33 L250.58,811.64 L251.43,811.95 L252.27,812.27 L253.11,812.58 L253.95,812.90 L254.80,813.22 L255.64,813.54 L256.48,813.86 L257.33,814.18 L258.17,814.51 L259.01,814.83 L259.86,815.16 L260.70,815.49 L261.54,815.82 L262.39,816.15 L263.23,816.48 L264.07,816.82 L264.92,817.15 L265.76,817.49 L266.60,817.82 L267.45,818.16 L268.29,818.50 L269.13,818.83 L269.98,819.17 L270.82,819.51 L271.66,819.85 L272.51,820.19 L273.35,820.53 L274.19,820.88 L275.04,821.22 L275.88,821.56 L276.72,821.90 L277.57,822.25 L278.41,822.59 L279.25,822.93 L280.10,823.28 L280.94,823.62 L281.78,823.96 L282.63,824.31 L283.47,824.65 L284.31,824.99 L285.16,825.33 L286.00,825.68 L286.84,826.02 L287.68,826.36 L288.53,826.70 L289.37,827.04 L290.21,827.38 L291.06,827.72 L291.90,828.06 L292.74,828.39 L293.59,828.73 L294.43,829.06 L295.27,829.40 L296.12,829.73 L296.96,830.06 L297.80,830.39 L298.65,830.71 L299.49,831.04 L300.33,831.36 L301.18,831.68 L302.02,832.00 L302.86,832.32 L303.71,832.63 L304.55,832.95 L305.39,833.26 L306.24,833.56 L307.08,833.87 L307.92,834.17 L308.77,834.47 L309.61,834.77 L310.45,835.06 L311.30,835.35 L312.14,835.63 L312.98,835.92 L313.83,836.20 L314.67,836.47 L315.51,836.74 L316.36,837.01 L317.20,837.28 L318.04,837.54 L318.88,837.79 L319.73,838.04 L320.57,838.29 L321.41,838.53 L322.26,838.77 L323.10,839.00 L323.94,839.23 L324.79,839.46 L325.63,839.67 L326.47,839.89 L327.32,840.09 L328.16,840.30 L329.00,840.50 L329.85,840.69 L330.69,840.88 L331.53,841.06 L332.38,841.24 L333.22,841.41 L334.06,841.57 L334.91,841.74 L335.75,841.89 L336.59,842.05 L337.44,842.19 L338.28,842.34 L339.12,842.47 L339.97,842.61 L340.81,842.73 L341.65,842.86 L342.50,842.98 L343.34,843.09 L344.18,843.20 L345.03,843.30 L345.87,843.40 L346.71,843.50 L347.56,843.59 L348.40,843.68 L349.24,843.76 L350.09,843.84 L350.93,843.91 L351.77,843.98 L352.61,844.05 L353.46,844.11 L354.30,844.17 L355.14,844.22 L355.99,844.26 L356.83,844.31 L357.67,844.35 L358.52,844.38 L359.36,844.41 L360.20,844.43 L361.05,844.45 L361.89,844.46 L362.73,844.47 L363.58,844.48 L364.42,844.48 L365.26,844.47 L366.11,844.46 L366.95,844.45 L367.79,844.42 L368.64,844.40 L369.48,844.37 L370.32,844.33 L371.17,844.29 L372.01,844.24 L372.85,844.19 L373.70,844.13 L374.54,844.07 L375.38,844.00 L376.23,843.93 L377.07,843.85 L377.91,843.77 L378.76,843.68 L379.60,843.58 L380.44,843.48 L381.29,843.37 L382.13,843.26 L382.97,843.14 L383.82,843.01 L384.66,842.88 L385.50,842.75 L386.34,842.60 L387.19,842.45 L388.03,842.30 L388.87,842.13 L389.72,841.96 L390.56,841.79 L391.40,841.60 L392.25,841.41 L393.09,841.22 L393.93,841.01 L394.78,840.80 L395.62,840.59 L396.46,840.36 L397.31,840.13 L398.15,839.90 L398.99,839.65 L399.84,839.40 L400.68,839.15 L401.52,838.89 L402.37,838.62 L403.21,838.34 L404.05,838.06 L404.90,837.78 L405.74,837.48 L406.58,837.19 L407.43,836.88 L408.27,836.58 L409.11,836.26 L409.96,835.95 L410.80,835.63 L411.64,835.30 L412.49,834.97 L413.33,834.64 L414.17,834.30 L415.02,833.96 L415.86,833.62 L416.70,833.28 L417.54,832.93 L418.39,832.58 L419.23,832.23 L420.07,831.88 L420.92,831.52 L421.76,831.16 L422.60,830.80 L423.45,830.44 L424.29,830.08 L425.13,829.72 L425.98,829.36 L426.82,828.99 L427.66,828.63 L428.51,828.26 L429.35,827.90 L430.19,827.53 L431.04,827.17 L431.88,826.80 L432.72,826.43 L433.57,826.06 L434.41,825.69 L435.25,825.32 L436.10,824.95 L436.94,824.58 L437.78,824.21 L438.63,823.84 L439.47,823.47 L440.31,823.10 L441.16,822.73 L442.00,822.36 L442.84,821.99 L443.69,821.62 L444.53,821.25 L445.37,820.89 L446.22,820.52 L447.06,820.15 L447.90,819.78 L448.75,819.41 L449.59,819.05 L450.43,818.68 L451.27,818.32 L452.12,817.96 L452.96,817.59 L453.80,817.23 L454.65,816.88 L455.49,816.52 L456.33,816.17 L457.18,815.81 L458.02,815.46 L458.86,815.11 L459.71,814.77 L460.55,814.42 L461.39,814.08 L462.24,813.74 L463.08,813.41 L463.92,813.08 L464.77,812.75 L465.61,812.42 L466.45,812.10 L467.30,811.77 L468.14,811.46 L468.98,811.14 L469.83,810.83 L470.67,810.52 L471.51,810.21 L472.36,809.91 L473.20,809.61 L474.04,809.32 L474.89,809.02 L475.73,808.73 L476.57,808.44 L477.42,808.16 L478.26,807.88 L479.10,807.60 L479.95,807.33 L480.79,807.05 L481.63,806.78 L482.48,806.52 L483.32,806.25 L484.16,805.99 L485.00,805.74 L485.85,805.48 L486.69,805.23 L487.53,804.99 L488.38,804.74 L489.22,804.50 L490.06,804.26 L490.91,804.03 L491.75,803.80 L492.59,803.57 L493.44,803.34 L494.28,803.12 L495.12,802.91 L495.97,802.69 L496.81,802.48 L497.65,802.28 L498.50,802.08 L499.34,801.88 L500.18,801.69 L501.03,801.50 L501.87,801.31 L502.71,801.13 L503.56,800.95 L504.40,800.78 L505.24,800.61 L506.09,800.45 L506.93,800.29 L507.77,800.13 L508.62,799.98 L509.46,799.83 L510.30,799.69 L511.15,799.55 L511.99,799.41 L512.83,799.28 L513.68,799.15 L514.52,799.03 L515.36,798.91 L516.20,798.79 L517.05,798.68 L517.89,798.57 L518.73,798.47 L519.58,798.36 L520.42,798.26 L521.26,798.17 L522.11,798.07 L522.95,797.98 L523.79,797.90 L524.64,797.81 L525.48,797.73 L526.32,797.65 L527.17,797.57 L528.01,797.50 L528.85,797.42 L529.70,797.35 L530.54,797.28 L531.38,797.22 L532.23,797.15 L533.07,797.09 L533.91,797.03 L534.76,796.97 L535.60,796.92 L536.44,796.86 L537.29,796.81 L538.13,796.76 L538.97,796.71 L539.82,796.66 L540.66,796.62 L541.50,796.57 L542.35,796.53 L543.19,796.49 L544.03,796.45 L544.88,796.42 L545.72,796.38 L546.56,796.35 L547.41,796.31 L548.25,796.28 L549.09,796.25 L549.93,796.23 L550.78,796.20 L551.62,796.18 L552.46,796.15 L553.31,796.13 L554.15,796.11 L554.99,796.09 L555.84,796.07 L556.68,796.06 L557.52,796.04 L558.37,796.03 L559.21,796.01 L560.05,796.00 L560.90,795.99 L561.74,795.98 L562.58,795.97 L563.43,795.96 L564.27,795.95 L565.11,795.94 L565.96,795.94 L566.80,795.93 L567.64,795.93 L568.49,795.92 L569.33,795.92 L570.17,795.91 L571.02,795.91 L571.86,795.91 L572.70,795.91 L573.55,795.90 L574.39,795.90 L575.23,795.90 L576.08,795.90 L576.92,795.90 L577.76,795.89 L578.61,795.89 L579.45,795.89 L580.29,795.89 L581.14,795.89 L581.98,795.89 L582.82,795.89 L583.66,795.89 L584.51,795.89 L585.35,795.89 L586.19,795.89 L587.04,795.89 L587.88,795.89 L588.72,795.89 L589.57,795.89 L590.41,795.89 L591.25,795.89 L592.10,795.89 L592.94,795.89 L593.78,795.89 L594.63,795.89 L595.47,795.89 L596.31,795.89 L597.16,795.89 L598.00,795.89 L598.84,795.89 L599.69,795.89 L600.53,795.89 L601.37,795.89 L602.22,795.89 L603.06,795.89 L603.90,795.89 L604.75,795.89 L605.59,795.89 L606.43,795.89 L607.28,795.89 L608.12,795.89 L608.96,795.89 L609.81,795.89" fill="none" stroke="#0072BD" stroke-width="5.6" stroke-linejoin="round"/>
<path d="M104.70,797.41 L105.62,797.40 L106.53,797.40 L107.45,797.39 L108.37,797.39 L109.28,797.38 L110.20,797.38 L111.11,797.38 L112.03,797.37 L112.95,797.37 L113.86,797.36 L114.78,797.36 L115.70,797.35 L116.61,797.35 L117.53,797.34 L118.44,797.34 L119.36,797.33 L120.28,797.33 L121.19,797.32 L122.11,797.32 L123.03,797.31 L123.94,797.31 L124.86,797.30 L125.77,797.30 L126.69,797.29 L127.61,797.29 L128.52,797.29 L129.44,797.28 L130.36,797.28 L131.27,797.28 L132.19,797.27 L133.10,797.27 L134.02,797.27 L134.94,797.27 L135.85,797.26 L136.77,797.26 L137.69,797.26 L138.60,797.26 L139.52,797.26 L140.43,797.26 L141.35,797.26 L142.27,797.25 L143.18,797.25 L144.10,797.25 L145.02,797.25 L145.93,797.25 L146.85,797.26 L147.76,797.26 L148.68,797.26 L149.60,797.26 L150.51,797.26 L151.43,797.26 L152.35,797.27 L153.26,797.27 L154.18,797.28 L155.09,797.28 L156.01,797.28 L156.93,797.29 L157.84,797.30 L158.76,797.30 L159.68,797.31 L160.59,797.32 L161.51,797.33 L162.43,797.33 L163.34,797.34 L164.26,797.35 L165.17,797.37 L166.09,797.38 L167.01,797.39 L167.92,797.40 L168.84,797.42 L169.76,797.43 L170.67,797.44 L171.59,797.46 L172.50,797.48 L173.42,797.49 L174.34,797.51 L175.25,797.53 L176.17,797.55 L177.09,797.57 L178.00,797.59 L178.92,797.61 L179.83,797.63 L180.75,797.65 L181.67,797.67 L182.58,797.70 L183.50,797.72 L184.42,797.74 L185.33,797.77 L186.25,797.79 L187.16,797.82 L188.08,797.84 L189.00,797.87 L189.91,797.90 L190.83,797.92 L191.75,797.95 L192.66,797.98 L193.58,798.00 L194.49,798.03 L195.41,798.06 L196.33,798.09 L197.24,798.12 L198.16,798.15 L199.08,798.18 L199.99,798.21 L200.91,798.24 L201.82,798.27 L202.74,798.30 L203.66,798.33 L204.57,798.36 L205.49,798.40 L206.41,798.43 L207.32,798.46 L208.24,798.49 L209.15,798.53 L210.07,798.56 L210.99,798.60 L211.90,798.63 L212.82,798.67 L213.74,798.70 L214.65,798.74 L215.57,798.77 L216.49,798.81 L217.40,798.85 L218.32,798.89 L219.23,798.93 L220.15,798.97 L221.07,799.01 L221.98,799.05 L222.90,799.09 L223.82,799.14 L224.73,799.18 L225.65,799.23 L226.56,799.27 L227.48,799.32 L228.40,799.37 L229.31,799.42 L230.23,799.47 L231.15,799.52 L232.06,799.57 L232.98,799.62 L233.89,799.68 L234.81,799.74 L235.73,799.79 L236.64,799.85 L237.56,799.92 L238.48,799.98 L239.39,800.04 L240.31,800.11 L241.22,800.18 L242.14,800.25 L243.06,800.32 L243.97,800.40 L244.89,800.48 L245.81,800.56 L246.72,800.64 L247.64,800.72 L248.55,800.81 L249.47,800.90 L250.39,801.00 L251.30,801.09 L252.22,801.19 L253.14,801.29 L254.05,801.40 L254.97,801.51 L255.88,801.62 L256.80,801.73 L257.72,801.85 L258.63,801.97 L259.55,802.09 L260.47,802.22 L261.38,802.35 L262.30,802.48 L263.21,802.62 L264.13,802.75 L265.05,802.90 L265.96,803.04 L266.88,803.19 L267.80,803.34 L268.71,803.49 L269.63,803.65 L270.55,803.81 L271.46,803.97 L272.38,804.13 L273.29,804.29 L274.21,804.46 L275.13,804.63 L276.04,804.80 L276.96,804.98 L277.88,805.15 L278.79,805.33 L279.71,805.51 L280.62,805.69 L281.54,805.88 L282.46,806.06 L283.37,806.25 L284.29,806.44 L285.21,806.63 L286.12,806.82 L287.04,807.01 L287.95,807.21 L288.87,807.40 L289.79,807.60 L290.70,807.80 L291.62,808.00 L292.54,808.21 L293.45,808.41 L294.37,808.62 L295.28,808.82 L296.20,809.03 L297.12,809.24 L298.03,809.45 L298.95,809.67 L299.87,809.88 L300.78,810.10 L301.70,810.31 L302.61,810.53 L303.53,810.75 L304.45,810.97 L305.36,811.20 L306.28,811.42 L307.20,811.65 L308.11,811.87 L309.03,812.10 L309.94,812.33 L310.86,812.56 L311.78,812.79 L312.69,813.02 L313.61,813.25 L314.53,813.48 L315.44,813.71 L316.36,813.95 L317.27,814.18 L318.19,814.42 L319.11,814.65 L320.02,814.88 L320.94,815.12 L321.86,815.35 L322.77,815.59 L323.69,815.82 L324.61,816.05 L325.52,816.29 L326.44,816.52 L327.35,816.75 L328.27,816.98 L329.19,817.22 L330.10,817.45 L331.02,817.68 L331.94,817.91 L332.85,818.14 L333.77,818.37 L334.68,818.60 L335.60,818.82 L336.52,819.05 L337.43,819.28 L338.35,819.50 L339.27,819.73 L340.18,819.95 L341.10,820.18 L342.01,820.40 L342.93,820.62 L343.85,820.84 L344.76,821.07 L345.68,821.29 L346.60,821.51 L347.51,821.72 L348.43,821.94 L349.34,822.16 L350.26,822.38 L351.18,822.59 L352.09,822.81 L353.01,823.02 L353.93,823.24 L354.84,823.45 L355.76,823.66 L356.67,823.87 L357.59,824.08 L358.51,824.29 L359.42,824.49 L360.34,824.70 L361.26,824.90 L362.17,825.11 L363.09,825.31 L364.00,825.51 L364.92,825.71 L365.84,825.91 L366.75,826.11 L367.67,826.31 L368.59,826.50 L369.50,826.70 L370.42,826.89 L371.33,827.08 L372.25,827.27 L373.17,827.46 L374.08,827.65 L375.00,827.84 L375.92,828.03 L376.83,828.21 L377.75,828.40 L378.67,828.58 L379.58,828.76 L380.50,828.94 L381.41,829.12 L382.33,829.30 L383.25,829.48 L384.16,829.66 L385.08,829.83 L386.00,830.01 L386.91,830.18 L387.83,830.36 L388.74,830.53 L389.66,830.70 L390.58,830.86 L391.49,831.03 L392.41,831.19 L393.33,831.36 L394.24,831.52 L395.16,831.68 L396.07,831.83 L396.99,831.99 L397.91,832.14 L398.82,832.29 L399.74,832.43 L400.66,832.57 L401.57,832.71 L402.49,832.85 L403.40,832.98 L404.32,833.11 L405.24,833.23 L406.15,833.35 L407.07,833.47 L407.99,833.58 L408.90,833.69 L409.82,833.79 L410.73,833.89 L411.65,833.98 L412.57,834.07 L413.48,834.15 L414.40,834.22 L415.32,834.30 L416.23,834.36 L417.15,834.42 L418.06,834.48 L418.98,834.53 L419.90,834.58 L420.81,834.62 L421.73,834.65 L422.65,834.68 L423.56,834.71 L424.48,834.73 L425.39,834.74 L426.31,834.75 L427.23,834.75 L428.14,834.76 L429.06,834.75 L429.98,834.74 L430.89,834.73 L431.81,834.71 L432.73,834.69 L433.64,834.67 L434.56,834.64 L435.47,834.61 L436.39,834.57 L437.31,834.53 L438.22,834.49 L439.14,834.45 L440.06,834.40 L440.97,834.35 L441.89,834.29 L442.80,834.24 L443.72,834.18 L444.64,834.11 L445.55,834.05 L446.47,833.98 L447.39,833.92 L448.30,833.85 L449.22,833.77 L450.13,833.70 L451.05,833.62 L451.97,833.54 L452.88,833.46 L453.80,833.38 L454.72,833.30 L455.63,833.21 L456.55,833.12 L457.46,833.03 L458.38,832.94 L459.30,832.85 L460.21,832.75 L461.13,832.66 L462.05,832.56 L462.96,832.46 L463.88,832.36 L464.79,832.25 L465.71,832.14 L466.63,832.04 L467.54,831.92 L468.46,831.81 L469.38,831.70 L470.29,831.58 L471.21,831.46 L472.12,831.34 L473.04,831.21 L473.96,831.09 L474.87,830.96 L475.79,830.83 L476.71,830.70 L477.62,830.56 L478.54,830.42 L479.45,830.28 L480.37,830.14 L481.29,830.00 L482.20,829.85 L483.12,829.70 L484.04,829.55 L484.95,829.40 L485.87,829.24 L486.79,829.08 L487.70,828.93 L488.62,828.77 L489.53,828.60 L490.45,828.44 L491.37,828.28 L492.28,828.11 L493.20,827.94 L494.12,827.77 L495.03,827.60 L495.95,827.43 L496.86,827.25 L497.78,827.08 L498.70,826.91 L499.61,826.73 L500.53,826.55 L501.45,826.37 L502.36,826.19 L503.28,826.01 L504.19,825.83 L505.11,825.65 L506.03,825.47 L506.94,825.29 L507.86,825.10 L508.78,824.92 L509.69,824.73 L510.61,824.55 L511.52,824.36 L512.44,824.17 L513.36,823.99 L514.27,823.80 L515.19,823.61 L516.11,823.42 L517.02,823.23 L517.94,823.04 L518.85,822.85 L519.77,822.65 L520.69,822.46 L521.60,822.26 L522.52,822.07 L523.44,821.87 L524.35,821.68 L525.27,821.48 L526.18,821.28 L527.10,821.08 L528.02,820.88 L528.93,820.68 L529.85,820.48 L530.77,820.28 L531.68,820.08 L532.60,819.87 L533.51,819.67 L534.43,819.46 L535.35,819.26 L536.26,819.05 L537.18,818.84 L538.10,818.64 L539.01,818.43 L539.93,818.22 L540.85,818.01 L541.76,817.80 L542.68,817.59 L543.59,817.37 L544.51,817.16 L545.43,816.95 L546.34,816.73 L547.26,816.51 L548.18,816.30 L549.09,816.08 L550.01,815.86 L550.92,815.64 L551.84,815.42 L552.76,815.20 L553.67,814.98 L554.59,814.76 L555.51,814.53 L556.42,814.31 L557.34,814.08 L558.25,813.86 L559.17,813.63 L560.09,813.41 L561.00,813.18 L561.92,812.95 L562.84,812.72 L563.75,812.49 L564.67,812.26 L565.58,812.03 L566.50,811.80 L567.42,811.57 L568.33,811.34 L569.25,811.11 L570.17,810.88 L571.08,810.65 L572.00,810.43 L572.91,810.20 L573.83,809.97 L574.75,809.74 L575.66,809.52 L576.58,809.29 L577.50,809.07 L578.41,808.85 L579.33,808.63 L580.24,808.41 L581.16,808.19 L582.08,807.97 L582.99,807.76 L583.91,807.54 L584.83,807.33 L585.74,807.12 L586.66,806.92 L587.58,806.71 L588.49,806.51 L589.41,806.31 L590.32,806.11 L591.24,805.91 L592.16,805.71 L593.07,805.52 L593.99,805.33 L594.91,805.14 L595.82,804.95 L596.74,804.76 L597.65,804.58 L598.57,804.39 L599.49,804.21 L600.40,804.03 L601.32,803.86 L602.24,803.68 L603.15,803.51 L604.07,803.34 L604.98,803.17 L605.90,803.00 L606.82,802.84 L607.73,802.67 L608.65,802.51 L609.57,802.35 L610.48,802.19 L611.40,802.04 L612.31,801.89 L613.23,801.74 L614.15,801.59 L615.06,801.44 L615.98,801.30 L616.90,801.16 L617.81,801.02 L618.73,800.89 L619.64,800.76 L620.56,800.63 L621.48,800.50 L622.39,800.38 L623.31,800.27 L624.23,800.15 L625.14,800.04 L626.06,799.94 L626.97,799.83 L627.89,799.73 L628.81,799.64 L629.72,799.55 L630.64,799.46 L631.56,799.38 L632.47,799.30 L633.39,799.23 L634.30,799.15 L635.22,799.09 L636.14,799.03 L637.05,798.97 L637.97,798.91 L638.89,798.86 L639.80,798.81 L640.72,798.77 L641.64,798.72 L642.55,798.69 L643.47,798.65 L644.38,798.62 L645.30,798.59 L646.22,798.56 L647.13,798.54 L648.05,798.52 L648.97,798.50 L649.88,798.48 L650.80,798.46 L651.71,798.45 L652.63,798.43 L653.55,798.42" fill="none" stroke="#D95319" stroke-width="5.6" stroke-dasharray="22.4 22.4" stroke-linejoin="round"/>
<path d="M104.70,797.41 L105.54,797.40 L106.38,797.40 L107.22,797.39 L108.06,797.39 L108.90,797.39 L109.74,797.38 L110.58,797.38 L111.42,797.37 L112.26,797.37 L113.10,797.36 L113.94,797.36 L114.78,797.36 L115.62,797.35 L116.46,797.35 L117.30,797.34 L118.14,797.34 L118.98,797.33 L119.82,797.33 L120.66,797.32 L121.50,797.32 L122.34,797.32 L123.18,797.31 L124.02,797.31 L124.86,797.30 L125.71,797.30 L126.55,797.30 L127.39,797.29 L128.23,797.29 L129.07,797.29 L129.91,797.28 L130.75,797.28 L131.59,797.28 L132.43,797.27 L133.27,797.27 L134.11,797.27 L134.95,797.27 L135.79,797.26 L136.63,797.26 L137.47,797.26 L138.31,797.26 L139.15,797.26 L139.99,797.26 L140.83,797.25 L141.67,797.25 L142.51,797.25 L143.35,797.25 L144.19,797.25 L145.03,797.25 L145.87,797.25 L146.71,797.25 L147.55,797.25 L148.39,797.26 L149.23,797.26 L150.07,797.26 L150.91,797.26 L151.75,797.26 L152.59,797.26 L153.43,797.27 L154.27,797.27 L155.11,797.27 L155.95,797.28 L156.79,797.28 L157.63,797.29 L158.47,797.29 L159.31,797.30 L160.15,797.30 L160.99,797.31 L161.83,797.32 L162.67,797.33 L163.51,797.33 L164.35,797.34 L165.19,797.35 L166.03,797.36 L166.88,797.37 L167.72,797.38 L168.56,797.39 L169.40,797.40 L170.24,797.42 L171.08,797.43 L171.92,797.44 L172.76,797.46 L173.60,797.47 L174.44,797.49 L175.28,797.50 L176.12,797.52 L176.96,797.54 L177.80,797.56 L178.64,797.57 L179.48,797.59 L180.32,797.61 L181.16,797.63 L182.00,797.66 L182.84,797.68 L183.68,797.70 L184.52,797.72 L185.36,797.75 L186.20,797.77 L187.04,797.80 L187.88,797.82 L188.72,797.85 L189.56,797.87 L190.40,797.90 L191.24,797.93 L192.08,797.96 L192.92,797.99 L193.76,798.02 L194.60,798.05 L195.44,798.09 L196.28,798.12 L197.12,798.16 L197.96,798.19 L198.80,798.23 L199.64,798.27 L200.48,798.31 L201.32,798.35 L202.16,798.39 L203.00,798.44 L203.84,798.48 L204.68,798.53 L205.52,798.58 L206.36,798.63 L207.21,798.68 L208.05,798.73 L208.89,798.79 L209.73,798.84 L210.57,798.90 L211.41,798.96 L212.25,799.02 L213.09,799.09 L213.93,799.15 L214.77,799.22 L215.61,799.29 L216.45,799.36 L217.29,799.43 L218.13,799.51 L218.97,799.58 L219.81,799.66 L220.65,799.74 L221.49,799.83 L222.33,799.91 L223.17,800.00 L224.01,800.09 L224.85,800.18 L225.69,800.27 L226.53,800.37 L227.37,800.46 L228.21,800.56 L229.05,800.66 L229.89,800.76 L230.73,800.87 L231.57,800.97 L232.41,801.08 L233.25,801.19 L234.09,801.30 L234.93,801.42 L235.77,801.53 L236.61,801.65 L237.45,801.77 L238.29,801.89 L239.13,802.01 L239.97,802.13 L240.81,802.26 L241.65,802.39 L242.49,802.52 L243.33,802.65 L244.17,802.79 L245.01,802.92 L245.85,803.06 L246.69,803.20 L247.53,803.35 L248.38,803.49 L249.22,803.64 L250.06,803.79 L250.90,803.94 L251.74,804.10 L252.58,804.25 L253.42,804.41 L254.26,804.58 L255.10,804.74 L255.94,804.91 L256.78,805.08 L257.62,805.25 L258.46,805.42 L259.30,805.60 L260.14,805.78 L260.98,805.96 L261.82,806.15 L262.66,806.33 L263.50,806.52 L264.34,806.71 L265.18,806.91 L266.02,807.10 L266.86,807.30 L267.70,807.50 L268.54,807.70 L269.38,807.91 L270.22,808.11 L271.06,808.32 L271.90,808.53 L272.74,808.74 L273.58,808.95 L274.42,809.17 L275.26,809.38 L276.10,809.60 L276.94,809.82 L277.78,810.04 L278.62,810.26 L279.46,810.48 L280.30,810.71 L281.14,810.93 L281.98,811.16 L282.82,811.38 L283.66,811.61 L284.50,811.84 L285.34,812.07 L286.18,812.30 L287.02,812.53 L287.86,812.76 L288.70,812.99 L289.55,813.23 L290.39,813.46 L291.23,813.70 L292.07,813.93 L292.91,814.17 L293.75,814.41 L294.59,814.64 L295.43,814.88 L296.27,815.12 L297.11,815.36 L297.95,815.60 L298.79,815.84 L299.63,816.08 L300.47,816.32 L301.31,816.57 L302.15,816.81 L302.99,817.05 L303.83,817.30 L304.67,817.54 L305.51,817.78 L306.35,818.03 L307.19,818.27 L308.03,818.52 L308.87,818.76 L309.71,819.01 L310.55,819.25 L311.39,819.49 L312.23,819.74 L313.07,819.98 L313.91,820.22 L314.75,820.46 L315.59,820.71 L316.43,820.95 L317.27,821.19 L318.11,821.43 L318.95,821.66 L319.79,821.90 L320.63,822.14 L321.47,822.37 L322.31,822.61 L323.15,822.84 L323.99,823.07 L324.83,823.30 L325.67,823.53 L326.51,823.76 L327.35,823.98 L328.19,824.21 L329.03,824.43 L329.87,824.66 L330.72,824.88 L331.56,825.10 L332.40,825.31 L333.24,825.53 L334.08,825.75 L334.92,825.96 L335.76,826.17 L336.60,826.38 L337.44,826.59 L338.28,826.80 L339.12,827.01 L339.96,827.21 L340.80,827.42 L341.64,827.62 L342.48,827.82 L343.32,828.02 L344.16,828.22 L345.00,828.41 L345.84,828.61 L346.68,828.80 L347.52,828.99 L348.36,829.18 L349.20,829.37 L350.04,829.55 L350.88,829.73 L351.72,829.91 L352.56,830.09 L353.40,830.27 L354.24,830.44 L355.08,830.61 L355.92,830.78 L356.76,830.95 L357.60,831.11 L358.44,831.27 L359.28,831.42 L360.12,831.58 L360.96,831.72 L361.80,831.87 L362.64,832.01 L363.48,832.15 L364.32,832.29 L365.16,832.42 L366.00,832.55 L366.84,832.67 L367.68,832.79 L368.52,832.90 L369.36,833.02 L370.20,833.12 L371.05,833.23 L371.89,833.33 L372.73,833.42 L373.57,833.52 L374.41,833.60 L375.25,833.69 L376.09,833.77 L376.93,833.85 L377.77,833.92 L378.61,833.99 L379.45,834.06 L380.29,834.12 L381.13,834.18 L381.97,834.24 L382.81,834.30 L383.65,834.35 L384.49,834.40 L385.33,834.44 L386.17,834.49 L387.01,834.53 L387.85,834.57 L388.69,834.61 L389.53,834.64 L390.37,834.68 L391.21,834.71 L392.05,834.74 L392.89,834.77 L393.73,834.79 L394.57,834.82 L395.41,834.84 L396.25,834.87 L397.09,834.89 L397.93,834.91 L398.77,834.93 L399.61,834.94 L400.45,834.96 L401.29,834.98 L402.13,834.99 L402.97,835.00 L403.81,835.02 L404.65,835.03 L405.49,835.04 L406.33,835.04 L407.17,835.05 L408.01,835.05 L408.85,835.06 L409.69,835.06 L410.53,835.06 L411.37,835.06 L412.22,835.05 L413.06,835.05 L413.90,835.04 L414.74,835.03 L415.58,835.02 L416.42,835.00 L417.26,834.99 L418.10,834.97 L418.94,834.94 L419.78,834.92 L420.62,834.89 L421.46,834.86 L422.30,834.82 L423.14,834.78 L423.98,834.74 L424.82,834.69 L425.66,834.64 L426.50,834.59 L427.34,834.53 L428.18,834.47 L429.02,834.40 L429.86,834.33 L430.70,834.26 L431.54,834.18 L432.38,834.09 L433.22,834.00 L434.06,833.91 L434.90,833.82 L435.74,833.71 L436.58,833.61 L437.42,833.50 L438.26,833.39 L439.10,833.27 L439.94,833.15 L440.78,833.02 L441.62,832.90 L442.46,832.76 L443.30,832.63 L444.14,832.49 L444.98,832.34 L445.82,832.20 L446.66,832.05 L447.50,831.90 L448.34,831.74 L449.18,831.59 L450.02,831.42 L450.86,831.26 L451.70,831.10 L452.54,830.93 L453.39,830.76 L454.23,830.59 L455.07,830.42 L455.91,830.24 L456.75,830.06 L457.59,829.89 L458.43,829.71 L459.27,829.52 L460.11,829.34 L460.95,829.16 L461.79,828.97 L462.63,828.78 L463.47,828.59 L464.31,828.40 L465.15,828.21 L465.99,828.02 L466.83,827.82 L467.67,827.63 L468.51,827.43 L469.35,827.23 L470.19,827.03 L471.03,826.83 L471.87,826.63 L472.71,826.43 L473.55,826.22 L474.39,826.01 L475.23,825.81 L476.07,825.60 L476.91,825.39 L477.75,825.17 L478.59,824.96 L479.43,824.74 L480.27,824.53 L481.11,824.31 L481.95,824.09 L482.79,823.87 L483.63,823.65 L484.47,823.43 L485.31,823.20 L486.15,822.98 L486.99,822.75 L487.83,822.52 L488.67,822.29 L489.51,822.06 L490.35,821.83 L491.19,821.60 L492.03,821.37 L492.87,821.14 L493.72,820.90 L494.56,820.67 L495.40,820.43 L496.24,820.19 L497.08,819.96 L497.92,819.72 L498.76,819.48 L499.60,819.24 L500.44,819.00 L501.28,818.76 L502.12,818.52 L502.96,818.28 L503.80,818.04 L504.64,817.79 L505.48,817.55 L506.32,817.31 L507.16,817.06 L508.00,816.82 L508.84,816.57 L509.68,816.33 L510.52,816.08 L511.36,815.83 L512.20,815.59 L513.04,815.34 L513.88,815.09 L514.72,814.85 L515.56,814.60 L516.40,814.35 L517.24,814.10 L518.08,813.85 L518.92,813.61 L519.76,813.36 L520.60,813.11 L521.44,812.86 L522.28,812.62 L523.12,812.37 L523.96,812.12 L524.80,811.88 L525.64,811.63 L526.48,811.39 L527.32,811.15 L528.16,810.91 L529.00,810.67 L529.84,810.43 L530.68,810.19 L531.52,809.95 L532.36,809.72 L533.20,809.49 L534.04,809.26 L534.89,809.03 L535.73,808.81 L536.57,808.59 L537.41,808.37 L538.25,808.15 L539.09,807.93 L539.93,807.72 L540.77,807.51 L541.61,807.31 L542.45,807.10 L543.29,806.90 L544.13,806.71 L544.97,806.51 L545.81,806.32 L546.65,806.13 L547.49,805.95 L548.33,805.77 L549.17,805.59 L550.01,805.41 L550.85,805.24 L551.69,805.07 L552.53,804.90 L553.37,804.74 L554.21,804.58 L555.05,804.42 L555.89,804.26 L556.73,804.11 L557.57,803.96 L558.41,803.81 L559.25,803.66 L560.09,803.52 L560.93,803.38 L561.77,803.24 L562.61,803.10 L563.45,802.97 L564.29,802.83 L565.13,802.70 L565.97,802.57 L566.81,802.45 L567.65,802.32 L568.49,802.20 L569.33,802.08 L570.17,801.96 L571.01,801.84 L571.85,801.72 L572.69,801.61 L573.53,801.49 L574.37,801.38 L575.21,801.27 L576.06,801.16 L576.90,801.06 L577.74,800.95 L578.58,800.85 L579.42,800.75 L580.26,800.65 L581.10,800.56 L581.94,800.46 L582.78,800.37 L583.62,800.28 L584.46,800.19 L585.30,800.11 L586.14,800.02 L586.98,799.94 L587.82,799.86 L588.66,799.78 L589.50,799.71 L590.34,799.63 L591.18,799.56 L592.02,799.49 L592.86,799.43 L593.70,799.36 L594.54,799.30 L595.38,799.24 L596.22,799.19 L597.06,799.13 L597.90,799.08 L598.74,799.03 L599.58,798.98 L600.42,798.94 L601.26,798.89 L602.10,798.85 L602.94,798.81 L603.78,798.78 L604.62,798.74 L605.46,798.71 L606.30,798.68 L607.14,798.65 L607.98,798.62" fill="none" stroke="#EDB120" stroke-width="5.6" stroke-dasharray="22.4 22.4" stroke-linejoin="round"/>
<line x1="104.70" y1="1024.80" x2="104.70" y2="1019.30" stroke="#333333" stroke-width="1.3"/>
<line x1="104.70" y1="906.80" x2="104.70" y2="912.30" stroke="#333333" stroke-width="1.3"/>
<line x1="234.88" y1="1024.80" x2="234.88" y2="1019.30" stroke="#333333" stroke-width="1.3"/>
<line x1="234.88" y1="906.80" x2="234.88" y2="912.30" stroke="#333333" stroke-width="1.3"/>
<line x1="365.06" y1="1024.80" x2="365.06" y2="1019.30" stroke="#333333" stroke-width="1.3"/>
<line x1="365.06" y1="906.80" x2="365.06" y2="912.30" stroke="#333333" stroke-width="1.3"/>
<line x1="495.25" y1="1024.80" x2="495.25" y2="1019.30" stroke="#333333" stroke-width="1.3"/>
<line x1="495.25" y1="906.80" x2="495.25" y2="912.30" stroke="#333333" stroke-width="1.3"/>
<line x1="625.43" y1="1024.80" x2="625.43" y2="1019.30" stroke="#333333" stroke-width="1.3"/>
<line x1="625.43" y1="906.80" x2="625.43" y2="912.30" stroke="#333333" stroke-width="1.3"/>
<line x1="104.70" y1="1024.80" x2="110.20" y2="1024.80" stroke="#333333" stroke-width="1.3"/>
<line x1="677.50" y1="1024.80" x2="672.00" y2="1024.80" stroke="#333333" stroke-width="1.3"/>
<line x1="104.70" y1="965.80" x2="110.20" y2="965.80" stroke="#333333" stroke-width="1.3"/>
<line x1="677.50" y1="965.80" x2="672.00" y2="965.80" stroke="#333333" stroke-width="1.3"/>
<line x1="104.70" y1="906.80" x2="110.20" y2="906.80" stroke="#333333" stroke-width="1.3"/>
<line x1="677.50" y1="906.80" x2="672.00" y2="906.80" stroke="#333333" stroke-width="1.3"/>
<rect x="104.70" y="906.80" width="572.80" height="118.00" fill="none" stroke="#333333" stroke-width="1.3"/>
<text x="104.70" y="1069.80" font-family="Liberation Serif" font-size="34.6" font-weight="400" text-anchor="middle" fill="#000">0</text>
<text x="234.88" y="1069.80" font-family="Liberation Serif" font-size="34.6" font-weight="400" text-anchor="middle" fill="#000">0.5</text>
<text x="365.06" y="1069.80" font-family="Liberation Serif" font-size="34.6" font-weight="400" text-anchor="middle" fill="#000">1</text>
<text x="495.25" y="1069.80" font-family="Liberation Serif" font-size="34.6" font-weight="400" text-anchor="middle" fill="#000">1.5</text>
<text x="625.43" y="1069.80" font-family="Liberation Serif" font-size="34.6" font-weight="400" text-anchor="middle" fill="#000">2</text>
<text x="91.20" y="1036.80" font-family="Liberation Serif" font-size="34.6" font-weight="400" text-anchor="end" fill="#000">-1</text>
<text x="91.20" y="977.80" font-family="Liberation Serif" font-size="34.6" font-weight="400" text-anchor="end" fill="#000">0</text>
<text x="91.20" y="918.80" font-family="Liberation Serif" font-size="34.6" font-weight="400" text-anchor="end" fill="#000">1</text>
<path d="M104.70,968.24 L105.54,968.23 L106.39,968.21 L107.23,968.19 L108.07,968.17 L108.92,968.15 L109.76,968.13 L110.60,968.10 L111.45,968.08 L112.29,968.05 L113.13,968.02 L113.98,967.99 L114.82,967.96 L115.66,967.93 L116.51,967.89 L117.35,967.86 L118.19,967.82 L119.04,967.78 L119.88,967.74 L120.72,967.69 L121.56,967.65 L122.41,967.60 L123.25,967.55 L124.09,967.50 L124.94,967.45 L125.78,967.39 L126.62,967.34 L127.47,967.28 L128.31,967.22 L129.15,967.16 L130.00,967.09 L130.84,967.03 L131.68,966.96 L132.53,966.89 L133.37,966.81 L134.21,966.74 L135.06,966.66 L135.90,966.58 L136.74,966.50 L137.59,966.41 L138.43,966.33 L139.27,966.24 L140.12,966.14 L140.96,966.05 L141.80,965.95 L142.65,965.85 L143.49,965.75 L144.33,965.64 L145.18,965.53 L146.02,965.42 L146.86,965.30 L147.71,965.18 L148.55,965.06 L149.39,964.93 L150.24,964.81 L151.08,964.67 L151.92,964.54 L152.77,964.40 L153.61,964.26 L154.45,964.11 L155.29,963.96 L156.14,963.81 L156.98,963.66 L157.82,963.50 L158.67,963.34 L159.51,963.18 L160.35,963.01 L161.20,962.84 L162.04,962.67 L162.88,962.49 L163.73,962.32 L164.57,962.14 L165.41,961.95 L166.26,961.77 L167.10,961.58 L167.94,961.39 L168.79,961.20 L169.63,961.01 L170.47,960.81 L171.32,960.61 L172.16,960.41 L173.00,960.21 L173.85,960.01 L174.69,959.80 L175.53,959.59 L176.38,959.38 L177.22,959.17 L178.06,958.96 L178.91,958.74 L179.75,958.53 L180.59,958.31 L181.44,958.09 L182.28,957.87 L183.12,957.65 L183.97,957.42 L184.81,957.20 L185.65,956.97 L186.50,956.74 L187.34,956.51 L188.18,956.28 L189.02,956.04 L189.87,955.81 L190.71,955.57 L191.55,955.33 L192.40,955.09 L193.24,954.85 L194.08,954.61 L194.93,954.36 L195.77,954.11 L196.61,953.87 L197.46,953.62 L198.30,953.36 L199.14,953.11 L199.99,952.86 L200.83,952.60 L201.67,952.34 L202.52,952.08 L203.36,951.82 L204.20,951.56 L205.05,951.30 L205.89,951.03 L206.73,950.77 L207.58,950.50 L208.42,950.23 L209.26,949.96 L210.11,949.69 L210.95,949.42 L211.79,949.15 L212.64,948.88 L213.48,948.61 L214.32,948.33 L215.17,948.06 L216.01,947.78 L216.85,947.51 L217.70,947.23 L218.54,946.96 L219.38,946.68 L220.22,946.40 L221.07,946.12 L221.91,945.85 L222.75,945.57 L223.60,945.29 L224.44,945.01 L225.28,944.73 L226.13,944.45 L226.97,944.17 L227.81,943.89 L228.66,943.61 L229.50,943.33 L230.34,943.05 L231.19,942.77 L232.03,942.49 L232.87,942.21 L233.72,941.93 L234.56,941.65 L235.40,941.37 L236.25,941.09 L237.09,940.81 L237.93,940.53 L238.78,940.25 L239.62,939.97 L240.46,939.69 L241.31,939.41 L242.15,939.13 L242.99,938.86 L243.84,938.58 L244.68,938.31 L245.52,938.03 L246.37,937.76 L247.21,937.49 L248.05,937.22 L248.90,936.96 L249.74,936.69 L250.58,936.43 L251.43,936.17 L252.27,935.92 L253.11,935.66 L253.95,935.41 L254.80,935.17 L255.64,934.92 L256.48,934.68 L257.33,934.44 L258.17,934.21 L259.01,933.98 L259.86,933.76 L260.70,933.54 L261.54,933.32 L262.39,933.11 L263.23,932.90 L264.07,932.70 L264.92,932.50 L265.76,932.30 L266.60,932.12 L267.45,931.93 L268.29,931.75 L269.13,931.58 L269.98,931.41 L270.82,931.24 L271.66,931.08 L272.51,930.93 L273.35,930.78 L274.19,930.63 L275.04,930.49 L275.88,930.36 L276.72,930.23 L277.57,930.10 L278.41,929.99 L279.25,929.87 L280.10,929.76 L280.94,929.66 L281.78,929.56 L282.63,929.47 L283.47,929.38 L284.31,929.30 L285.16,929.23 L286.00,929.16 L286.84,929.09 L287.68,929.04 L288.53,928.99 L289.37,928.94 L290.21,928.90 L291.06,928.87 L291.90,928.84 L292.74,928.82 L293.59,928.81 L294.43,928.81 L295.27,928.81 L296.12,928.81 L296.96,928.83 L297.80,928.85 L298.65,928.88 L299.49,928.91 L300.33,928.95 L301.18,929.00 L302.02,929.06 L302.86,929.12 L303.71,929.19 L304.55,929.27 L305.39,929.35 L306.24,929.44 L307.08,929.54 L307.92,929.64 L308.77,929.75 L309.61,929.87 L310.45,929.99 L311.30,930.12 L312.14,930.26 L312.98,930.40 L313.83,930.55 L314.67,930.70 L315.51,930.86 L316.36,931.03 L317.20,931.20 L318.04,931.38 L318.88,931.57 L319.73,931.76 L320.57,931.96 L321.41,932.16 L322.26,932.37 L323.10,932.58 L323.94,932.81 L324.79,933.03 L325.63,933.27 L326.47,933.51 L327.32,933.75 L328.16,934.00 L329.00,934.26 L329.85,934.52 L330.69,934.79 L331.53,935.06 L332.38,935.34 L333.22,935.63 L334.06,935.91 L334.91,936.21 L335.75,936.51 L336.59,936.82 L337.44,937.13 L338.28,937.44 L339.12,937.76 L339.97,938.09 L340.81,938.42 L341.65,938.75 L342.50,939.09 L343.34,939.43 L344.18,939.77 L345.03,940.12 L345.87,940.48 L346.71,940.83 L347.56,941.19 L348.40,941.55 L349.24,941.92 L350.09,942.29 L350.93,942.66 L351.77,943.03 L352.61,943.41 L353.46,943.79 L354.30,944.17 L355.14,944.55 L355.99,944.93 L356.83,945.32 L357.67,945.71 L358.52,946.10 L359.36,946.49 L360.20,946.89 L361.05,947.28 L361.89,947.68 L362.73,948.08 L363.58,948.48 L364.42,948.88 L365.26,949.28 L366.11,949.68 L366.95,950.09 L367.79,950.49 L368.64,950.90 L369.48,951.30 L370.32,951.71 L371.17,952.12 L372.01,952.53 L372.85,952.94 L373.70,953.35 L374.54,953.76 L375.38,954.17 L376.23,954.57 L377.07,954.98 L377.91,955.39 L378.76,955.79 L379.60,956.20 L380.44,956.60 L381.29,957.00 L382.13,957.40 L382.97,957.80 L383.82,958.20 L384.66,958.59 L385.50,958.98 L386.34,959.37 L387.19,959.75 L388.03,960.13 L388.87,960.51 L389.72,960.88 L390.56,961.25 L391.40,961.62 L392.25,961.98 L393.09,962.34 L393.93,962.69 L394.78,963.04 L395.62,963.38 L396.46,963.72 L397.31,964.05 L398.15,964.38 L398.99,964.70 L399.84,965.02 L400.68,965.34 L401.52,965.65 L402.37,965.95 L403.21,966.25 L404.05,966.55 L404.90,966.84 L405.74,967.12 L406.58,967.40 L407.43,967.68 L408.27,967.95 L409.11,968.22 L409.96,968.49 L410.80,968.75 L411.64,969.00 L412.49,969.26 L413.33,969.50 L414.17,969.75 L415.02,969.99 L415.86,970.23 L416.70,970.46 L417.54,970.70 L418.39,970.93 L419.23,971.15 L420.07,971.37 L420.92,971.59 L421.76,971.81 L422.60,972.03 L423.45,972.24 L424.29,972.45 L425.13,972.66 L425.98,972.86 L426.82,973.06 L427.66,973.26 L428.51,973.46 L429.35,973.66 L430.19,973.85 L431.04,974.04 L431.88,974.23 L432.72,974.42 L433.57,974.60 L434.41,974.78 L435.25,974.96 L436.10,975.14 L436.94,975.31 L437.78,975.48 L438.63,975.65 L439.47,975.82 L440.31,975.98 L441.16,976.14 L442.00,976.30 L442.84,976.45 L443.69,976.60 L444.53,976.75 L445.37,976.89 L446.22,977.03 L447.06,977.16 L447.90,977.29 L448.75,977.42 L449.59,977.54 L450.43,977.65 L451.27,977.77 L452.12,977.87 L452.96,977.97 L453.80,978.07 L454.65,978.16 L455.49,978.25 L456.33,978.33 L457.18,978.40 L458.02,978.47 L458.86,978.54 L459.71,978.60 L460.55,978.65 L461.39,978.70 L462.24,978.74 L463.08,978.78 L463.92,978.81 L464.77,978.84 L465.61,978.86 L466.45,978.87 L467.30,978.89 L468.14,978.89 L468.98,978.89 L469.83,978.89 L470.67,978.88 L471.51,978.87 L472.36,978.85 L473.20,978.83 L474.04,978.81 L474.89,978.78 L475.73,978.75 L476.57,978.71 L477.42,978.67 L478.26,978.63 L479.10,978.59 L479.95,978.54 L480.79,978.48 L481.63,978.43 L482.48,978.37 L483.32,978.31 L484.16,978.25 L485.00,978.18 L485.85,978.11 L486.69,978.04 L487.53,977.96 L488.38,977.88 L489.22,977.80 L490.06,977.72 L490.91,977.64 L491.75,977.55 L492.59,977.46 L493.44,977.37 L494.28,977.27 L495.12,977.17 L495.97,977.07 L496.81,976.97 L497.65,976.86 L498.50,976.75 L499.34,976.64 L500.18,976.53 L501.03,976.42 L501.87,976.30 L502.71,976.18 L503.56,976.06 L504.40,975.93 L505.24,975.80 L506.09,975.67 L506.93,975.54 L507.77,975.41 L508.62,975.27 L509.46,975.14 L510.30,975.00 L511.15,974.86 L511.99,974.72 L512.83,974.57 L513.68,974.43 L514.52,974.28 L515.36,974.13 L516.20,973.99 L517.05,973.84 L517.89,973.69 L518.73,973.54 L519.58,973.39 L520.42,973.24 L521.26,973.09 L522.11,972.94 L522.95,972.79 L523.79,972.64 L524.64,972.49 L525.48,972.34 L526.32,972.19 L527.17,972.04 L528.01,971.89 L528.85,971.75 L529.70,971.60 L530.54,971.46 L531.38,971.31 L532.23,971.17 L533.07,971.03 L533.91,970.89 L534.76,970.75 L535.60,970.61 L536.44,970.47 L537.29,970.34 L538.13,970.20 L538.97,970.07 L539.82,969.94 L540.66,969.81 L541.50,969.68 L542.35,969.55 L543.19,969.42 L544.03,969.30 L544.88,969.17 L545.72,969.05 L546.56,968.93 L547.41,968.81 L548.25,968.69 L549.09,968.57 L549.93,968.45 L550.78,968.34 L551.62,968.23 L552.46,968.11 L553.31,968.00 L554.15,967.90 L554.99,967.79 L555.84,967.69 L556.68,967.58 L557.52,967.48 L558.37,967.38 L559.21,967.29 L560.05,967.19 L560.90,967.10 L561.74,967.01 L562.58,966.92 L563.43,966.84 L564.27,966.76 L565.11,966.67 L565.96,966.60 L566.80,966.52 L567.64,966.45 L568.49,966.38 L569.33,966.31 L570.17,966.25 L571.02,966.18 L571.86,966.12 L572.70,966.07 L573.55,966.01 L574.39,965.96 L575.23,965.91 L576.08,965.86 L576.92,965.82 L577.76,965.78 L578.61,965.74 L579.45,965.70 L580.29,965.66 L581.14,965.63 L581.98,965.60 L582.82,965.57 L583.66,965.54 L584.51,965.52 L585.35,965.49 L586.19,965.47 L587.04,965.45 L587.88,965.43 L588.72,965.41 L589.57,965.40 L590.41,965.38 L591.25,965.37 L592.10,965.35 L592.94,965.34 L593.78,965.33 L594.63,965.32 L595.47,965.31 L596.31,965.30 L597.16,965.29 L598.00,965.29 L598.84,965.28 L599.69,965.27 L600.53,965.27 L601.37,965.26 L602.22,965.26 L603.06,965.25 L603.90,965.25 L604.75,965.25 L605.59,965.24 L606.43,965.24 L607.28,965.24 L608.12,965.23 L608.96,965.23 L609.81,965.23" fill="none" stroke="#0072BD" stroke-width="5.6" stroke-linejoin="round"/>
<path d="M104.70,966.19 L105.62,966.17 L106.53,966.15 L107.45,966.13 L108.37,966.10 L109.28,966.08 L110.20,966.05 L111.11,966.02 L112.03,965.98 L112.95,965.95 L113.86,965.91 L114.78,965.88 L115.70,965.84 L116.61,965.80 L117.53,965.75 L118.44,965.71 L119.36,965.66 L120.28,965.61 L121.19,965.56 L122.11,965.51 L123.03,965.45 L123.94,965.40 L124.86,965.34 L125.77,965.28 L126.69,965.22 L127.61,965.15 L128.52,965.09 L129.44,965.02 L130.36,964.95 L131.27,964.88 L132.19,964.81 L133.10,964.74 L134.02,964.67 L134.94,964.59 L135.85,964.51 L136.77,964.43 L137.69,964.35 L138.60,964.27 L139.52,964.19 L140.43,964.11 L141.35,964.02 L142.27,963.93 L143.18,963.84 L144.10,963.75 L145.02,963.66 L145.93,963.57 L146.85,963.48 L147.76,963.38 L148.68,963.28 L149.60,963.18 L150.51,963.08 L151.43,962.98 L152.35,962.88 L153.26,962.77 L154.18,962.66 L155.09,962.55 L156.01,962.44 L156.93,962.33 L157.84,962.21 L158.76,962.09 L159.68,961.97 L160.59,961.85 L161.51,961.72 L162.43,961.60 L163.34,961.47 L164.26,961.34 L165.17,961.20 L166.09,961.06 L167.01,960.92 L167.92,960.78 L168.84,960.64 L169.76,960.49 L170.67,960.34 L171.59,960.19 L172.50,960.04 L173.42,959.88 L174.34,959.73 L175.25,959.57 L176.17,959.40 L177.09,959.24 L178.00,959.07 L178.92,958.91 L179.83,958.74 L180.75,958.57 L181.67,958.39 L182.58,958.22 L183.50,958.04 L184.42,957.87 L185.33,957.69 L186.25,957.51 L187.16,957.33 L188.08,957.15 L189.00,956.97 L189.91,956.79 L190.83,956.60 L191.75,956.42 L192.66,956.24 L193.58,956.05 L194.49,955.87 L195.41,955.69 L196.33,955.50 L197.24,955.32 L198.16,955.13 L199.08,954.95 L199.99,954.76 L200.91,954.58 L201.82,954.40 L202.74,954.21 L203.66,954.03 L204.57,953.84 L205.49,953.66 L206.41,953.48 L207.32,953.29 L208.24,953.11 L209.15,952.93 L210.07,952.74 L210.99,952.56 L211.90,952.38 L212.82,952.20 L213.74,952.02 L214.65,951.83 L215.57,951.65 L216.49,951.47 L217.40,951.29 L218.32,951.11 L219.23,950.93 L220.15,950.75 L221.07,950.57 L221.98,950.39 L222.90,950.21 L223.82,950.03 L224.73,949.85 L225.65,949.68 L226.56,949.50 L227.48,949.32 L228.40,949.15 L229.31,948.97 L230.23,948.80 L231.15,948.63 L232.06,948.45 L232.98,948.28 L233.89,948.11 L234.81,947.94 L235.73,947.77 L236.64,947.60 L237.56,947.43 L238.48,947.27 L239.39,947.10 L240.31,946.94 L241.22,946.77 L242.14,946.61 L243.06,946.45 L243.97,946.28 L244.89,946.12 L245.81,945.96 L246.72,945.81 L247.64,945.65 L248.55,945.49 L249.47,945.34 L250.39,945.18 L251.30,945.03 L252.22,944.87 L253.14,944.72 L254.05,944.57 L254.97,944.42 L255.88,944.27 L256.80,944.12 L257.72,943.98 L258.63,943.83 L259.55,943.68 L260.47,943.54 L261.38,943.40 L262.30,943.26 L263.21,943.12 L264.13,942.98 L265.05,942.84 L265.96,942.70 L266.88,942.57 L267.80,942.44 L268.71,942.30 L269.63,942.17 L270.55,942.05 L271.46,941.92 L272.38,941.80 L273.29,941.67 L274.21,941.55 L275.13,941.43 L276.04,941.32 L276.96,941.20 L277.88,941.09 L278.79,940.98 L279.71,940.87 L280.62,940.76 L281.54,940.65 L282.46,940.55 L283.37,940.45 L284.29,940.35 L285.21,940.26 L286.12,940.16 L287.04,940.07 L287.95,939.98 L288.87,939.89 L289.79,939.80 L290.70,939.72 L291.62,939.63 L292.54,939.55 L293.45,939.47 L294.37,939.40 L295.28,939.32 L296.20,939.25 L297.12,939.17 L298.03,939.10 L298.95,939.03 L299.87,938.97 L300.78,938.90 L301.70,938.83 L302.61,938.77 L303.53,938.71 L304.45,938.65 L305.36,938.59 L306.28,938.53 L307.20,938.47 L308.11,938.42 L309.03,938.37 L309.94,938.31 L310.86,938.26 L311.78,938.22 L312.69,938.17 L313.61,938.12 L314.53,938.08 L315.44,938.04 L316.36,938.00 L317.27,937.96 L318.19,937.92 L319.11,937.89 L320.02,937.86 L320.94,937.83 L321.86,937.80 L322.77,937.77 L323.69,937.75 L324.61,937.73 L325.52,937.71 L326.44,937.70 L327.35,937.69 L328.27,937.68 L329.19,937.67 L330.10,937.67 L331.02,937.67 L331.94,937.67 L332.85,937.68 L333.77,937.69 L334.68,937.71 L335.60,937.72 L336.52,937.75 L337.43,937.77 L338.35,937.80 L339.27,937.83 L340.18,937.87 L341.10,937.91 L342.01,937.95 L342.93,938.00 L343.85,938.05 L344.76,938.11 L345.68,938.17 L346.60,938.24 L347.51,938.30 L348.43,938.37 L349.34,938.45 L350.26,938.53 L351.18,938.61 L352.09,938.70 L353.01,938.79 L353.93,938.88 L354.84,938.98 L355.76,939.07 L356.67,939.18 L357.59,939.28 L358.51,939.39 L359.42,939.50 L360.34,939.62 L361.26,939.73 L362.17,939.85 L363.09,939.97 L364.00,940.09 L364.92,940.22 L365.84,940.35 L366.75,940.48 L367.67,940.61 L368.59,940.75 L369.50,940.88 L370.42,941.02 L371.33,941.16 L372.25,941.30 L373.17,941.45 L374.08,941.59 L375.00,941.74 L375.92,941.89 L376.83,942.04 L377.75,942.19 L378.67,942.35 L379.58,942.51 L380.50,942.67 L381.41,942.83 L382.33,942.99 L383.25,943.16 L384.16,943.33 L385.08,943.50 L386.00,943.67 L386.91,943.84 L387.83,944.02 L388.74,944.20 L389.66,944.38 L390.58,944.56 L391.49,944.75 L392.41,944.94 L393.33,945.13 L394.24,945.32 L395.16,945.51 L396.07,945.71 L396.99,945.91 L397.91,946.11 L398.82,946.32 L399.74,946.52 L400.66,946.73 L401.57,946.94 L402.49,947.15 L403.40,947.37 L404.32,947.58 L405.24,947.80 L406.15,948.02 L407.07,948.24 L407.99,948.47 L408.90,948.69 L409.82,948.92 L410.73,949.15 L411.65,949.38 L412.57,949.62 L413.48,949.85 L414.40,950.09 L415.32,950.33 L416.23,950.57 L417.15,950.81 L418.06,951.06 L418.98,951.30 L419.90,951.55 L420.81,951.80 L421.73,952.05 L422.65,952.31 L423.56,952.56 L424.48,952.82 L425.39,953.08 L426.31,953.34 L427.23,953.61 L428.14,953.87 L429.06,954.14 L429.98,954.41 L430.89,954.68 L431.81,954.95 L432.73,955.22 L433.64,955.50 L434.56,955.78 L435.47,956.05 L436.39,956.33 L437.31,956.62 L438.22,956.90 L439.14,957.18 L440.06,957.47 L440.97,957.75 L441.89,958.04 L442.80,958.33 L443.72,958.61 L444.64,958.90 L445.55,959.19 L446.47,959.48 L447.39,959.77 L448.30,960.06 L449.22,960.35 L450.13,960.63 L451.05,960.92 L451.97,961.21 L452.88,961.50 L453.80,961.79 L454.72,962.07 L455.63,962.36 L456.55,962.65 L457.46,962.93 L458.38,963.21 L459.30,963.50 L460.21,963.78 L461.13,964.06 L462.05,964.34 L462.96,964.62 L463.88,964.90 L464.79,965.18 L465.71,965.46 L466.63,965.73 L467.54,966.01 L468.46,966.28 L469.38,966.56 L470.29,966.83 L471.21,967.10 L472.12,967.37 L473.04,967.64 L473.96,967.91 L474.87,968.17 L475.79,968.44 L476.71,968.70 L477.62,968.96 L478.54,969.22 L479.45,969.48 L480.37,969.73 L481.29,969.99 L482.20,970.24 L483.12,970.49 L484.04,970.73 L484.95,970.97 L485.87,971.21 L486.79,971.45 L487.70,971.68 L488.62,971.91 L489.53,972.14 L490.45,972.36 L491.37,972.58 L492.28,972.79 L493.20,973.00 L494.12,973.21 L495.03,973.41 L495.95,973.60 L496.86,973.79 L497.78,973.98 L498.70,974.16 L499.61,974.33 L500.53,974.50 L501.45,974.67 L502.36,974.83 L503.28,974.98 L504.19,975.13 L505.11,975.27 L506.03,975.41 L506.94,975.54 L507.86,975.67 L508.78,975.80 L509.69,975.92 L510.61,976.03 L511.52,976.14 L512.44,976.25 L513.36,976.35 L514.27,976.45 L515.19,976.54 L516.11,976.63 L517.02,976.72 L517.94,976.80 L518.85,976.89 L519.77,976.96 L520.69,977.04 L521.60,977.11 L522.52,977.18 L523.44,977.24 L524.35,977.31 L525.27,977.37 L526.18,977.43 L527.10,977.48 L528.02,977.54 L528.93,977.59 L529.85,977.64 L530.77,977.68 L531.68,977.73 L532.60,977.77 L533.51,977.81 L534.43,977.85 L535.35,977.89 L536.26,977.92 L537.18,977.95 L538.10,977.98 L539.01,978.01 L539.93,978.03 L540.85,978.06 L541.76,978.08 L542.68,978.09 L543.59,978.11 L544.51,978.12 L545.43,978.13 L546.34,978.13 L547.26,978.14 L548.18,978.14 L549.09,978.13 L550.01,978.13 L550.92,978.12 L551.84,978.10 L552.76,978.08 L553.67,978.06 L554.59,978.04 L555.51,978.01 L556.42,977.98 L557.34,977.95 L558.25,977.91 L559.17,977.86 L560.09,977.82 L561.00,977.77 L561.92,977.71 L562.84,977.66 L563.75,977.60 L564.67,977.53 L565.58,977.46 L566.50,977.39 L567.42,977.32 L568.33,977.24 L569.25,977.16 L570.17,977.08 L571.08,976.99 L572.00,976.90 L572.91,976.81 L573.83,976.71 L574.75,976.61 L575.66,976.52 L576.58,976.41 L577.50,976.31 L578.41,976.20 L579.33,976.10 L580.24,975.99 L581.16,975.88 L582.08,975.76 L582.99,975.65 L583.91,975.53 L584.83,975.42 L585.74,975.30 L586.66,975.18 L587.58,975.06 L588.49,974.94 L589.41,974.82 L590.32,974.70 L591.24,974.57 L592.16,974.45 L593.07,974.33 L593.99,974.20 L594.91,974.07 L595.82,973.95 L596.74,973.82 L597.65,973.69 L598.57,973.56 L599.49,973.43 L600.40,973.30 L601.32,973.17 L602.24,973.04 L603.15,972.91 L604.07,972.78 L604.98,972.65 L605.90,972.52 L606.82,972.38 L607.73,972.25 L608.65,972.12 L609.57,971.98 L610.48,971.85 L611.40,971.72 L612.31,971.58 L613.23,971.45 L614.15,971.32 L615.06,971.19 L615.98,971.06 L616.90,970.93 L617.81,970.80 L618.73,970.67 L619.64,970.55 L620.56,970.42 L621.48,970.30 L622.39,970.18 L623.31,970.06 L624.23,969.94 L625.14,969.83 L626.06,969.72 L626.97,969.61 L627.89,969.50 L628.81,969.40 L629.72,969.29 L630.64,969.20 L631.56,969.10 L632.47,969.01 L633.39,968.92 L634.30,968.83 L635.22,968.75 L636.14,968.67 L637.05,968.60 L637.97,968.53 L638.89,968.46 L639.80,968.39 L640.72,968.33 L641.64,968.27 L642.55,968.21 L643.47,968.16 L644.38,968.11 L645.30,968.07 L646.22,968.02 L647.13,967.98 L648.05,967.95 L648.97,967.91 L649.88,967.88 L650.80,967.85 L651.71,967.82 L652.63,967.79 L653.55,967.77" fill="none" stroke="#D95319" stroke-width="5.6" stroke-dasharray="22.4 22.4" stroke-linejoin="round"/>
<path d="M104.70,966.17 L105.54,966.15 L106.38,966.12 L107.22,966.10 L108.06,966.07 L108.90,966.04 L109.74,966.01 L110.58,965.98 L111.42,965.95 L112.26,965.92 L113.10,965.88 L113.94,965.84 L114.78,965.80 L115.62,965.76 L116.46,965.72 L117.30,965.67 L118.14,965.63 L118.98,965.58 L119.82,965.53 L120.66,965.47 L121.50,965.42 L122.34,965.36 L123.18,965.31 L124.02,965.25 L124.86,965.19 L125.71,965.12 L126.55,965.06 L127.39,964.99 L128.23,964.93 L129.07,964.86 L129.91,964.79 L130.75,964.72 L131.59,964.64 L132.43,964.57 L133.27,964.49 L134.11,964.41 L134.95,964.33 L135.79,964.25 L136.63,964.17 L137.47,964.09 L138.31,964.00 L139.15,963.91 L139.99,963.83 L140.83,963.74 L141.67,963.65 L142.51,963.56 L143.35,963.46 L144.19,963.37 L145.03,963.27 L145.87,963.18 L146.71,963.08 L147.55,962.98 L148.39,962.88 L149.23,962.77 L150.07,962.67 L150.91,962.56 L151.75,962.45 L152.59,962.34 L153.43,962.23 L154.27,962.12 L155.11,962.00 L155.95,961.89 L156.79,961.77 L157.63,961.65 L158.47,961.53 L159.31,961.40 L160.15,961.27 L160.99,961.15 L161.83,961.01 L162.67,960.88 L163.51,960.75 L164.35,960.61 L165.19,960.47 L166.03,960.32 L166.88,960.18 L167.72,960.03 L168.56,959.88 L169.40,959.73 L170.24,959.58 L171.08,959.42 L171.92,959.26 L172.76,959.10 L173.60,958.94 L174.44,958.77 L175.28,958.61 L176.12,958.44 L176.96,958.27 L177.80,958.09 L178.64,957.92 L179.48,957.74 L180.32,957.56 L181.16,957.38 L182.00,957.20 L182.84,957.02 L183.68,956.83 L184.52,956.65 L185.36,956.46 L186.20,956.27 L187.04,956.08 L187.88,955.89 L188.72,955.70 L189.56,955.51 L190.40,955.31 L191.24,955.12 L192.08,954.92 L192.92,954.73 L193.76,954.53 L194.60,954.34 L195.44,954.14 L196.28,953.94 L197.12,953.74 L197.96,953.55 L198.80,953.35 L199.64,953.15 L200.48,952.95 L201.32,952.75 L202.16,952.55 L203.00,952.35 L203.84,952.15 L204.68,951.94 L205.52,951.74 L206.36,951.54 L207.21,951.34 L208.05,951.14 L208.89,950.93 L209.73,950.73 L210.57,950.53 L211.41,950.33 L212.25,950.12 L213.09,949.92 L213.93,949.72 L214.77,949.51 L215.61,949.31 L216.45,949.11 L217.29,948.90 L218.13,948.70 L218.97,948.50 L219.81,948.30 L220.65,948.09 L221.49,947.89 L222.33,947.69 L223.17,947.49 L224.01,947.29 L224.85,947.09 L225.69,946.90 L226.53,946.70 L227.37,946.50 L228.21,946.31 L229.05,946.11 L229.89,945.92 L230.73,945.73 L231.57,945.54 L232.41,945.35 L233.25,945.16 L234.09,944.97 L234.93,944.79 L235.77,944.60 L236.61,944.42 L237.45,944.24 L238.29,944.06 L239.13,943.89 L239.97,943.71 L240.81,943.53 L241.65,943.36 L242.49,943.19 L243.33,943.02 L244.17,942.85 L245.01,942.69 L245.85,942.52 L246.69,942.36 L247.53,942.19 L248.38,942.03 L249.22,941.87 L250.06,941.72 L250.90,941.56 L251.74,941.41 L252.58,941.25 L253.42,941.10 L254.26,940.95 L255.10,940.80 L255.94,940.66 L256.78,940.51 L257.62,940.37 L258.46,940.22 L259.30,940.08 L260.14,939.95 L260.98,939.81 L261.82,939.67 L262.66,939.54 L263.50,939.41 L264.34,939.28 L265.18,939.16 L266.02,939.03 L266.86,938.91 L267.70,938.79 L268.54,938.67 L269.38,938.56 L270.22,938.45 L271.06,938.34 L271.90,938.23 L272.74,938.13 L273.58,938.03 L274.42,937.93 L275.26,937.84 L276.10,937.75 L276.94,937.66 L277.78,937.58 L278.62,937.50 L279.46,937.43 L280.30,937.35 L281.14,937.28 L281.98,937.22 L282.82,937.16 L283.66,937.10 L284.50,937.04 L285.34,936.99 L286.18,936.95 L287.02,936.90 L287.86,936.86 L288.70,936.82 L289.55,936.79 L290.39,936.76 L291.23,936.73 L292.07,936.71 L292.91,936.69 L293.75,936.67 L294.59,936.66 L295.43,936.65 L296.27,936.64 L297.11,936.63 L297.95,936.63 L298.79,936.63 L299.63,936.63 L300.47,936.64 L301.31,936.64 L302.15,936.65 L302.99,936.66 L303.83,936.68 L304.67,936.69 L305.51,936.71 L306.35,936.73 L307.19,936.75 L308.03,936.78 L308.87,936.80 L309.71,936.83 L310.55,936.86 L311.39,936.88 L312.23,936.92 L313.07,936.95 L313.91,936.98 L314.75,937.02 L315.59,937.06 L316.43,937.10 L317.27,937.14 L318.11,937.18 L318.95,937.23 L319.79,937.27 L320.63,937.32 L321.47,937.37 L322.31,937.42 L323.15,937.48 L323.99,937.53 L324.83,937.59 L325.67,937.65 L326.51,937.72 L327.35,937.78 L328.19,937.85 L329.03,937.92 L329.87,937.99 L330.72,938.07 L331.56,938.15 L332.40,938.23 L333.24,938.31 L334.08,938.40 L334.92,938.49 L335.76,938.59 L336.60,938.69 L337.44,938.79 L338.28,938.90 L339.12,939.01 L339.96,939.12 L340.80,939.24 L341.64,939.36 L342.48,939.49 L343.32,939.62 L344.16,939.76 L345.00,939.89 L345.84,940.04 L346.68,940.19 L347.52,940.34 L348.36,940.49 L349.20,940.65 L350.04,940.82 L350.88,940.98 L351.72,941.16 L352.56,941.33 L353.40,941.51 L354.24,941.70 L355.08,941.88 L355.92,942.07 L356.76,942.27 L357.60,942.47 L358.44,942.67 L359.28,942.87 L360.12,943.08 L360.96,943.29 L361.80,943.50 L362.64,943.72 L363.48,943.93 L364.32,944.16 L365.16,944.38 L366.00,944.60 L366.84,944.83 L367.68,945.06 L368.52,945.29 L369.36,945.53 L370.20,945.76 L371.05,946.00 L371.89,946.24 L372.73,946.49 L373.57,946.73 L374.41,946.98 L375.25,947.22 L376.09,947.47 L376.93,947.73 L377.77,947.98 L378.61,948.23 L379.45,948.49 L380.29,948.75 L381.13,949.01 L381.97,949.27 L382.81,949.54 L383.65,949.80 L384.49,950.07 L385.33,950.34 L386.17,950.61 L387.01,950.89 L387.85,951.16 L388.69,951.44 L389.53,951.72 L390.37,952.00 L391.21,952.28 L392.05,952.56 L392.89,952.85 L393.73,953.13 L394.57,953.42 L395.41,953.71 L396.25,954.00 L397.09,954.29 L397.93,954.58 L398.77,954.87 L399.61,955.16 L400.45,955.46 L401.29,955.75 L402.13,956.05 L402.97,956.34 L403.81,956.64 L404.65,956.93 L405.49,957.23 L406.33,957.53 L407.17,957.82 L408.01,958.12 L408.85,958.41 L409.69,958.71 L410.53,959.01 L411.37,959.30 L412.22,959.60 L413.06,959.89 L413.90,960.19 L414.74,960.48 L415.58,960.77 L416.42,961.06 L417.26,961.36 L418.10,961.65 L418.94,961.94 L419.78,962.23 L420.62,962.52 L421.46,962.81 L422.30,963.10 L423.14,963.38 L423.98,963.67 L424.82,963.95 L425.66,964.24 L426.50,964.52 L427.34,964.81 L428.18,965.09 L429.02,965.37 L429.86,965.65 L430.70,965.93 L431.54,966.21 L432.38,966.48 L433.22,966.76 L434.06,967.03 L434.90,967.30 L435.74,967.57 L436.58,967.84 L437.42,968.11 L438.26,968.37 L439.10,968.63 L439.94,968.89 L440.78,969.15 L441.62,969.41 L442.46,969.66 L443.30,969.91 L444.14,970.15 L444.98,970.39 L445.82,970.63 L446.66,970.87 L447.50,971.10 L448.34,971.33 L449.18,971.56 L450.02,971.78 L450.86,971.99 L451.70,972.21 L452.54,972.42 L453.39,972.62 L454.23,972.82 L455.07,973.02 L455.91,973.21 L456.75,973.40 L457.59,973.58 L458.43,973.76 L459.27,973.94 L460.11,974.11 L460.95,974.28 L461.79,974.44 L462.63,974.60 L463.47,974.76 L464.31,974.91 L465.15,975.06 L465.99,975.20 L466.83,975.34 L467.67,975.48 L468.51,975.61 L469.35,975.74 L470.19,975.87 L471.03,975.99 L471.87,976.11 L472.71,976.23 L473.55,976.35 L474.39,976.46 L475.23,976.57 L476.07,976.67 L476.91,976.78 L477.75,976.88 L478.59,976.98 L479.43,977.07 L480.27,977.16 L481.11,977.25 L481.95,977.34 L482.79,977.43 L483.63,977.51 L484.47,977.59 L485.31,977.67 L486.15,977.74 L486.99,977.82 L487.83,977.89 L488.67,977.95 L489.51,978.02 L490.35,978.08 L491.19,978.14 L492.03,978.20 L492.87,978.25 L493.72,978.30 L494.56,978.34 L495.40,978.39 L496.24,978.43 L497.08,978.46 L497.92,978.50 L498.76,978.53 L499.60,978.55 L500.44,978.57 L501.28,978.59 L502.12,978.61 L502.96,978.62 L503.80,978.62 L504.64,978.62 L505.48,978.62 L506.32,978.62 L507.16,978.61 L508.00,978.59 L508.84,978.57 L509.68,978.55 L510.52,978.52 L511.36,978.49 L512.20,978.45 L513.04,978.41 L513.88,978.36 L514.72,978.31 L515.56,978.25 L516.40,978.20 L517.24,978.13 L518.08,978.06 L518.92,977.99 L519.76,977.92 L520.60,977.84 L521.44,977.75 L522.28,977.67 L523.12,977.57 L523.96,977.48 L524.80,977.38 L525.64,977.28 L526.48,977.18 L527.32,977.07 L528.16,976.96 L529.00,976.85 L529.84,976.73 L530.68,976.62 L531.52,976.50 L532.36,976.38 L533.20,976.26 L534.04,976.13 L534.89,976.01 L535.73,975.88 L536.57,975.75 L537.41,975.62 L538.25,975.49 L539.09,975.36 L539.93,975.23 L540.77,975.10 L541.61,974.97 L542.45,974.84 L543.29,974.71 L544.13,974.58 L544.97,974.45 L545.81,974.32 L546.65,974.19 L547.49,974.05 L548.33,973.92 L549.17,973.79 L550.01,973.67 L550.85,973.54 L551.69,973.41 L552.53,973.28 L553.37,973.15 L554.21,973.03 L555.05,972.90 L555.89,972.78 L556.73,972.65 L557.57,972.53 L558.41,972.40 L559.25,972.28 L560.09,972.16 L560.93,972.04 L561.77,971.92 L562.61,971.80 L563.45,971.68 L564.29,971.56 L565.13,971.44 L565.97,971.32 L566.81,971.20 L567.65,971.09 L568.49,970.97 L569.33,970.86 L570.17,970.74 L571.01,970.63 L571.85,970.52 L572.69,970.41 L573.53,970.30 L574.37,970.19 L575.21,970.08 L576.06,969.97 L576.90,969.87 L577.74,969.77 L578.58,969.66 L579.42,969.56 L580.26,969.46 L581.10,969.36 L581.94,969.27 L582.78,969.17 L583.62,969.08 L584.46,968.99 L585.30,968.90 L586.14,968.81 L586.98,968.72 L587.82,968.64 L588.66,968.56 L589.50,968.48 L590.34,968.40 L591.18,968.33 L592.02,968.25 L592.86,968.18 L593.70,968.12 L594.54,968.05 L595.38,967.99 L596.22,967.92 L597.06,967.86 L597.90,967.81 L598.74,967.75 L599.58,967.70 L600.42,967.65 L601.26,967.60 L602.10,967.56 L602.94,967.52 L603.78,967.47 L604.62,967.44 L605.46,967.40 L606.30,967.37 L607.14,967.33 L607.98,967.30" fill="none" stroke="#EDB120" stroke-width="5.6" stroke-dasharray="22.4 22.4" stroke-linejoin="round"/>
<text x="0" y="0" font-family="Liberation Serif" font-size="38" text-anchor="middle" transform="translate(29.2,635.40) rotate(-90)">v<tspan font-size="28.1" dy="19">x</tspan><tspan dy="-19"> [m/s]</tspan></text>
<text x="0" y="0" font-family="Liberation Serif" font-size="38" text-anchor="middle" transform="translate(29.2,798.35) rotate(-90)">v<tspan font-size="28.1" dy="19">y</tspan><tspan dy="-19"> [m/s]</tspan></text>
<text x="0" y="0" font-family="Liberation Serif" font-size="38" text-anchor="middle" transform="translate(29.2,965.80) rotate(-90)">v<tspan font-size="28.1" dy="19">z</tspan><tspan dy="-19"> [m/s]</tspan></text>
<text x="391.10" y="1116.00" font-family="Liberation Serif" font-size="38" font-weight="400" text-anchor="middle" fill="#000">time [s]</text>
<line x1="882.00" y1="1025.60" x2="882.00" y2="1020.10" stroke="#333333" stroke-width="1.3"/>
<line x1="882.00" y1="579.00" x2="882.00" y2="584.50" stroke="#333333" stroke-width="1.3"/>
<line x1="984.76" y1="1025.60" x2="984.76" y2="1020.10" stroke="#333333" stroke-width="1.3"/>
<line x1="984.76" y1="579.00" x2="984.76" y2="584.50" stroke="#333333" stroke-width="1.3"/>
<line x1="1087.52" y1="1025.60" x2="1087.52" y2="1020.10" stroke="#333333" stroke-width="1.3"/>
<line x1="1087.52" y1="579.00" x2="1087.52" y2="584.50" stroke="#333333" stroke-width="1.3"/>
<line x1="1190.28" y1="1025.60" x2="1190.28" y2="1020.10" stroke="#333333" stroke-width="1.3"/>
<line x1="1190.28" y1="579.00" x2="1190.28" y2="584.50" stroke="#333333" stroke-width="1.3"/>
<line x1="1293.04" y1="1025.60" x2="1293.04" y2="1020.10" stroke="#333333" stroke-width="1.3"/>
<line x1="1293.04" y1="579.00" x2="1293.04" y2="584.50" stroke="#333333" stroke-width="1.3"/>
<line x1="1395.80" y1="1025.60" x2="1395.80" y2="1020.10" stroke="#333333" stroke-width="1.3"/>
<line x1="1395.80" y1="579.00" x2="1395.80" y2="584.50" stroke="#333333" stroke-width="1.3"/>
<line x1="882.00" y1="1025.60" x2="887.50" y2="1025.60" stroke="#333333" stroke-width="1.3"/>
<line x1="1395.80" y1="1025.60" x2="1390.30" y2="1025.60" stroke="#333333" stroke-width="1.3"/>
<line x1="882.00" y1="936.28" x2="887.50" y2="936.28" stroke="#333333" stroke-width="1.3"/>
<line x1="1395.80" y1="936.28" x2="1390.30" y2="936.28" stroke="#333333" stroke-width="1.3"/>
<line x1="882.00" y1="846.96" x2="887.50" y2="846.96" stroke="#333333" stroke-width="1.3"/>
<line x1="1395.80" y1="846.96" x2="1390.30" y2="846.96" stroke="#333333" stroke-width="1.3"/>
<line x1="882.00" y1="757.64" x2="887.50" y2="757.64" stroke="#333333" stroke-width="1.3"/>
<line x1="1395.80" y1="757.64" x2="1390.30" y2="757.64" stroke="#333333" stroke-width="1.3"/>
<line x1="882.00" y1="668.32" x2="887.50" y2="668.32" stroke="#333333" stroke-width="1.3"/>
<line x1="1395.80" y1="668.32" x2="1390.30" y2="668.32" stroke="#333333" stroke-width="1.3"/>
<line x1="882.00" y1="579.00" x2="887.50" y2="579.00" stroke="#333333" stroke-width="1.3"/>
<line x1="1395.80" y1="579.00" x2="1390.30" y2="579.00" stroke="#333333" stroke-width="1.3"/>
<rect x="882.00" y="579.00" width="513.80" height="446.60" fill="none" stroke="#333333" stroke-width="1.3"/>
<text x="882.00" y="1070.60" font-family="Liberation Serif" font-size="34.6" font-weight="400" text-anchor="middle" fill="#000">0</text>
<text x="984.76" y="1070.60" font-family="Liberation Serif" font-size="34.6" font-weight="400" text-anchor="middle" fill="#000">0.5</text>
<text x="1087.52" y="1070.60" font-family="Liberation Serif" font-size="34.6" font-weight="400" text-anchor="middle" fill="#000">1</text>
<text x="1190.28" y="1070.60" font-family="Liberation Serif" font-size="34.6" font-weight="400" text-anchor="middle" fill="#000">1.5</text>
<text x="1293.04" y="1070.60" font-family="Liberation Serif" font-size="34.6" font-weight="400" text-anchor="middle" fill="#000">2</text>
<text x="1395.80" y="1070.60" font-family="Liberation Serif" font-size="34.6" font-weight="400" text-anchor="middle" fill="#000">2.5</text>
<text x="868.50" y="1037.60" font-family="Liberation Serif" font-size="34.6" font-weight="400" text-anchor="end" fill="#000">0</text>
<text x="868.50" y="948.28" font-family="Liberation Serif" font-size="34.6" font-weight="400" text-anchor="end" fill="#000">0.2</text>
<text x="868.50" y="858.96" font-family="Liberation Serif" font-size="34.6" font-weight="400" text-anchor="end" fill="#000">0.4</text>
<text x="868.50" y="769.64" font-family="Liberation Serif" font-size="34.6" font-weight="400" text-anchor="end" fill="#000">0.6</text>
<text x="868.50" y="680.32" font-family="Liberation Serif" font-size="34.6" font-weight="400" text-anchor="end" fill="#000">0.8</text>
<text x="868.50" y="591.00" font-family="Liberation Serif" font-size="34.6" font-weight="400" text-anchor="end" fill="#000">1</text>
<path d="M882.09,1004.44 L883.29,1004.14 L884.55,1004.05 L885.87,1004.14 L887.23,1004.39 L888.63,1004.79 L890.06,1005.32 L891.53,1005.95 L893.01,1006.67 L894.52,1007.45 L896.03,1008.28 L897.54,1009.14 L899.06,1010.01 L900.56,1010.87 L902.05,1011.70 L903.52,1012.47 L904.96,1013.18 L906.36,1013.79 L907.73,1014.30 L909.05,1014.68 L910.33,1014.90 L911.54,1014.96 L912.69,1014.84 L913.77,1014.50 L914.78,1013.98 L915.74,1013.29 L916.64,1012.46 L917.50,1011.50 L918.32,1010.45 L919.11,1009.32 L919.87,1008.14 L920.61,1006.94 L921.35,1005.72 L922.07,1004.50 L922.78,1003.27 L923.47,1002.03 L924.16,1000.79 L924.84,999.55 L925.50,998.30 L926.16,997.04 L926.80,995.78 L927.44,994.52 L928.06,993.25 L928.68,991.97 L929.28,990.70 L929.88,989.41 L930.47,988.13 L931.04,986.83 L931.61,985.54 L932.18,984.24 L932.73,982.94 L933.27,981.63 L933.81,980.32 L934.34,979.00 L934.86,977.68 L935.38,976.36 L935.88,975.04 L936.38,973.71 L936.88,972.38 L937.36,971.04 L937.85,969.71 L938.32,968.37 L938.79,967.02 L939.25,965.68 L939.71,964.33 L940.16,962.98 L940.61,961.63 L941.05,960.27 L941.48,958.91 L941.92,957.55 L942.34,956.19 L942.77,954.83 L943.18,953.46 L943.60,952.10 L944.01,950.73 L944.42,949.36 L944.82,947.99 L945.22,946.62 L945.62,945.24 L946.02,943.87 L946.41,942.49 L946.80,941.12 L947.19,939.74 L947.58,938.36 L947.96,936.99 L948.34,935.61 L948.73,934.23 L949.11,932.85 L949.48,931.47 L949.86,930.09 L950.24,928.71 L950.62,927.33 L950.99,925.95 L951.37,924.57 L951.74,923.19 L952.11,921.81 L952.49,920.43 L952.86,919.05 L953.23,917.67 L953.60,916.29 L953.97,914.91 L954.33,913.53 L954.70,912.15 L955.07,910.77 L955.43,909.39 L955.80,908.00 L956.16,906.62 L956.52,905.24 L956.89,903.86 L957.25,902.48 L957.61,901.10 L957.97,899.72 L958.33,898.34 L958.68,896.95 L959.04,895.57 L959.40,894.19 L959.75,892.81 L960.11,891.43 L960.46,890.04 L960.82,888.66 L961.17,887.28 L961.52,885.90 L961.87,884.51 L962.22,883.13 L962.57,881.75 L962.92,880.37 L963.27,878.98 L963.61,877.60 L963.96,876.22 L964.31,874.83 L964.65,873.45 L965.00,872.07 L965.34,870.68 L965.68,869.30 L966.02,867.92 L966.37,866.53 L966.71,865.15 L967.05,863.77 L967.39,862.38 L967.72,861.00 L968.06,859.61 L968.40,858.23 L968.74,856.85 L969.07,855.46 L969.41,854.08 L969.74,852.69 L970.07,851.31 L970.41,849.92 L970.74,848.54 L971.07,847.16 L971.40,845.77 L971.73,844.39 L972.06,843.00 L972.39,841.62 L972.72,840.23 L973.05,838.85 L973.38,837.46 L973.70,836.08 L974.03,834.69 L974.35,833.30 L974.68,831.92 L975.00,830.53 L975.33,829.15 L975.65,827.76 L975.97,826.38 L976.29,824.99 L976.62,823.61 L976.94,822.22 L977.26,820.83 L977.58,819.45 L977.89,818.06 L978.21,816.67 L978.53,815.29 L978.85,813.90 L979.16,812.52 L979.48,811.13 L979.80,809.74 L980.11,808.36 L980.43,806.97 L980.74,805.58 L981.05,804.20 L981.37,802.81 L981.68,801.42 L981.99,800.03 L982.30,798.65 L982.61,797.26 L982.92,795.87 L983.23,794.49 L983.54,793.10 L983.85,791.71 L984.16,790.32 L984.47,788.94 L984.77,787.55 L985.08,786.16 L985.39,784.77 L985.69,783.39 L986.00,782.00 L986.30,780.61 L986.61,779.22 L986.91,777.83 L987.22,776.45 L987.52,775.06 L987.82,773.67 L988.12,772.28 L988.43,770.89 L988.73,769.50 L989.03,768.12 L989.33,766.73 L989.63,765.34 L989.93,763.95 L990.23,762.56 L990.53,761.17 L990.82,759.78 L991.12,758.40 L991.42,757.01 L991.72,755.62 L992.02,754.23 L992.31,752.84 L992.61,751.45 L992.90,750.06 L993.20,748.67 L993.49,747.28 L993.79,745.89 L994.08,744.50 L994.38,743.12 L994.67,741.73 L994.96,740.34 L995.26,738.95 L995.55,737.56 L995.84,736.17 L996.13,734.78 L996.43,733.39 L996.72,732.00 L997.01,730.61 L997.30,729.22 L997.59,727.83 L997.88,726.44 L998.17,725.05 L998.46,723.66 L998.75,722.27 L999.04,720.88 L999.33,719.49 L999.62,718.10 L999.91,716.71 L1000.20,715.32 L1000.50,713.93 L1000.79,712.54 L1001.08,711.15 L1001.38,709.76 L1001.67,708.38 L1001.97,706.99 L1002.27,705.60 L1002.57,704.21 L1002.87,702.82 L1003.17,701.43 L1003.47,700.05 L1003.77,698.66 L1004.08,697.27 L1004.39,695.89 L1004.70,694.50 L1005.01,693.11 L1005.32,691.73 L1005.64,690.34 L1005.95,688.96 L1006.27,687.57 L1006.59,686.19 L1006.92,684.81 L1007.24,683.42 L1007.57,682.04 L1007.90,680.66 L1008.24,679.28 L1008.57,677.89 L1008.91,676.51 L1009.25,675.13 L1009.60,673.75 L1009.95,672.38 L1010.30,671.00 L1010.65,669.62 L1011.01,668.24 L1011.37,666.87 L1011.74,665.49 L1012.11,664.11 L1012.48,662.74 L1012.85,661.36 L1013.23,659.99 L1013.62,658.62 L1014.00,657.25 L1014.40,655.88 L1014.79,654.51 L1015.19,653.14 L1015.60,651.77 L1016.00,650.40 L1016.42,649.03 L1016.84,647.67 L1017.26,646.30 L1017.69,644.94 L1018.12,643.57 L1018.55,642.21 L1019.00,640.85 L1019.44,639.49 L1019.90,638.13 L1020.35,636.77 L1020.82,635.41 L1021.28,634.05 L1021.76,632.70 L1022.24,631.34 L1022.72,629.99 L1023.21,628.63 L1023.71,627.28 L1024.21,625.93 L1024.72,624.58 L1025.23,623.23 L1025.75,621.88 L1026.28,620.54 L1026.81,619.19 L1027.35,617.85 L1027.90,616.50 L1028.45,615.16 L1029.01,613.82 L1029.57,612.48 L1030.15,611.14 L1030.73,609.81 L1031.31,608.47 L1031.91,607.14 L1032.51,605.81 L1033.12,604.48 L1033.76,603.17 L1034.41,601.87 L1035.09,600.60 L1035.81,599.35 L1036.56,598.14 L1037.35,596.96 L1038.19,595.83 L1039.08,594.74 L1040.02,593.70 L1041.03,592.72 L1042.10,591.80 L1043.24,590.94 L1044.45,590.16 L1045.73,589.46 L1047.05,588.87 L1048.40,588.40 L1049.74,588.06 L1051.05,587.89 L1052.32,587.90 L1053.54,588.08 L1054.71,588.41 L1055.84,588.90 L1056.92,589.51 L1057.97,590.24 L1058.99,591.07 L1059.97,592.00 L1060.93,593.00 L1061.85,594.07 L1062.76,595.19 L1063.64,596.34 L1064.51,597.52 L1065.36,598.71 L1066.20,599.91 L1067.03,601.11 L1067.84,602.31 L1068.64,603.52 L1069.43,604.74 L1070.21,605.96 L1070.97,607.18 L1071.72,608.41 L1072.47,609.65 L1073.19,610.88 L1073.91,612.13 L1074.62,613.37 L1075.31,614.63 L1076.00,615.88 L1076.67,617.14 L1077.33,618.41 L1077.99,619.67 L1078.63,620.95 L1079.26,622.22 L1079.88,623.50 L1080.50,624.79 L1081.10,626.07 L1081.70,627.37 L1082.28,628.66 L1082.86,629.96 L1083.42,631.26 L1083.98,632.57 L1084.53,633.87 L1085.07,635.19 L1085.61,636.50 L1086.13,637.82 L1086.65,639.14 L1087.16,640.46 L1087.66,641.79 L1088.16,643.12 L1088.65,644.45 L1089.13,645.79 L1089.60,647.13 L1090.07,648.47 L1090.53,649.81 L1090.99,651.15 L1091.44,652.50 L1091.88,653.85 L1092.32,655.20 L1092.75,656.56 L1093.18,657.91 L1093.60,659.27 L1094.02,660.63 L1094.43,662.00 L1094.84,663.36 L1095.24,664.73 L1095.64,666.09 L1096.03,667.46 L1096.42,668.83 L1096.81,670.21 L1097.19,671.58 L1097.57,672.95 L1097.95,674.33 L1098.32,675.71 L1098.69,677.09 L1099.06,678.47 L1099.43,679.85 L1099.79,681.23 L1100.15,682.61 L1100.51,683.99 L1100.86,685.38 L1101.22,686.76 L1101.57,688.15 L1101.92,689.53 L1102.27,690.92 L1102.62,692.31 L1102.97,693.69 L1103.32,695.08 L1103.66,696.47 L1104.01,697.86 L1104.36,699.24 L1104.71,700.63 L1105.05,702.02 L1105.40,703.41 L1105.75,704.79 L1106.10,706.18 L1106.44,707.57 L1106.79,708.96 L1107.15,710.34 L1107.50,711.73 L1107.85,713.11 L1108.21,714.49 L1108.57,715.88 L1108.93,717.26 L1109.29,718.64 L1109.65,720.02 L1110.01,721.41 L1110.38,722.79 L1110.75,724.17 L1111.12,725.54 L1111.49,726.92 L1111.86,728.30 L1112.23,729.68 L1112.61,731.05 L1112.98,732.43 L1113.36,733.81 L1113.74,735.18 L1114.12,736.55 L1114.51,737.93 L1114.89,739.30 L1115.28,740.67 L1115.67,742.04 L1116.06,743.42 L1116.45,744.79 L1116.84,746.16 L1117.23,747.53 L1117.63,748.89 L1118.03,750.26 L1118.42,751.63 L1118.82,753.00 L1119.23,754.36 L1119.63,755.73 L1120.04,757.09 L1120.44,758.46 L1120.85,759.82 L1121.26,761.18 L1121.67,762.55 L1122.08,763.91 L1122.50,765.27 L1122.91,766.63 L1123.33,767.99 L1123.75,769.35 L1124.17,770.71 L1124.59,772.07 L1125.02,773.43 L1125.44,774.79 L1125.87,776.14 L1126.30,777.50 L1126.73,778.85 L1127.16,780.21 L1127.59,781.56 L1128.03,782.92 L1128.46,784.27 L1128.90,785.62 L1129.34,786.98 L1129.78,788.33 L1130.22,789.68 L1130.66,791.03 L1131.11,792.38 L1131.56,793.73 L1132.00,795.08 L1132.45,796.43 L1132.90,797.77 L1133.36,799.12 L1133.81,800.47 L1134.27,801.81 L1134.72,803.16 L1135.18,804.50 L1135.64,805.85 L1136.11,807.19 L1136.57,808.54 L1137.03,809.88 L1137.50,811.22 L1137.97,812.56 L1138.44,813.90 L1138.91,815.25 L1139.38,816.59 L1139.85,817.93 L1140.33,819.26 L1140.80,820.60 L1141.28,821.94 L1141.76,823.28 L1142.24,824.62 L1142.73,825.95 L1143.21,827.29 L1143.70,828.62 L1144.18,829.96 L1144.67,831.29 L1145.16,832.63 L1145.65,833.96 L1146.15,835.29 L1146.64,836.62 L1147.14,837.96 L1147.63,839.29 L1148.13,840.62 L1148.63,841.95 L1149.13,843.28 L1149.64,844.61 L1150.14,845.93 L1150.65,847.26 L1151.16,848.59 L1151.66,849.92 L1152.17,851.24 L1152.69,852.57 L1153.20,853.90 L1153.72,855.22 L1154.23,856.54 L1154.75,857.87 L1155.27,859.19 L1155.79,860.52 L1156.31,861.84 L1156.84,863.16 L1157.36,864.48 L1157.89,865.80 L1158.42,867.12 L1158.95,868.44 L1159.48,869.76 L1160.01,871.08 L1160.55,872.39 L1161.09,873.71 L1161.63,875.03 L1162.17,876.34 L1162.71,877.66 L1163.26,878.97 L1163.81,880.28 L1164.36,881.59 L1164.91,882.90 L1165.47,884.21 L1166.02,885.52 L1166.58,886.83 L1167.14,888.13 L1167.71,889.44 L1168.28,890.74 L1168.85,892.05 L1169.42,893.35 L1169.99,894.65 L1170.57,895.95 L1171.15,897.25 L1171.73,898.55 L1172.32,899.84 L1172.91,901.14 L1173.50,902.43 L1174.09,903.73 L1174.69,905.02 L1175.29,906.31 L1175.89,907.60 L1176.50,908.88 L1177.11,910.17 L1177.72,911.45 L1178.33,912.74 L1178.95,914.02 L1179.57,915.30 L1180.20,916.58 L1180.83,917.85 L1181.46,919.13 L1182.10,920.40 L1182.74,921.67 L1183.38,922.94 L1184.03,924.21 L1184.68,925.48 L1185.33,926.74 L1185.99,928.01 L1186.65,929.27 L1187.31,930.53 L1187.98,931.79 L1188.65,933.04 L1189.33,934.30 L1190.01,935.55 L1190.70,936.80 L1191.38,938.05 L1192.08,939.30 L1192.77,940.54 L1193.48,941.79 L1194.18,943.03 L1194.89,944.27 L1195.60,945.50 L1196.32,946.74 L1197.05,947.97 L1197.77,949.20 L1198.51,950.43 L1199.24,951.65 L1199.98,952.88 L1200.73,954.10 L1201.48,955.32 L1202.23,956.54 L1202.99,957.75 L1203.76,958.96 L1204.53,960.17 L1205.30,961.38 L1206.08,962.59 L1206.86,963.79 L1207.65,964.99 L1208.45,966.19 L1209.24,967.39 L1210.05,968.58 L1210.86,969.77 L1211.67,970.96 L1212.50,972.14 L1213.32,973.32 L1214.16,974.49 L1215.00,975.66 L1215.85,976.82 L1216.71,977.97 L1217.58,979.11 L1218.45,980.25 L1219.34,981.38 L1220.23,982.49 L1221.14,983.60 L1222.05,984.69 L1222.98,985.77 L1223.92,986.84 L1224.87,987.90 L1225.83,988.94 L1226.81,989.97 L1227.80,990.98 L1228.80,991.98 L1229.81,992.96 L1230.84,993.93 L1231.89,994.87 L1232.95,995.80 L1234.02,996.71 L1235.11,997.59 L1236.22,998.46 L1237.35,999.31 L1238.49,1000.13 L1239.65,1000.93 L1240.82,1001.71 L1242.02,1002.47 L1243.23,1003.20 L1244.46,1003.90 L1245.71,1004.58 L1246.97,1005.23 L1248.24,1005.85 L1249.53,1006.44 L1250.84,1006.99 L1252.16,1007.52 L1253.49,1008.01 L1254.83,1008.47 L1256.19,1008.90 L1257.56,1009.29 L1258.94,1009.64 L1260.33,1009.95 L1261.73,1010.23 L1263.13,1010.46 L1264.55,1010.65 L1265.98,1010.81 L1267.41,1010.92 L1268.85,1010.99 L1270.29,1011.04 L1271.73,1011.06 L1273.18,1011.07 L1274.62,1011.05 L1276.05,1011.03 L1277.48,1011.00 L1278.90,1010.97 L1280.31,1010.95 L1281.71,1010.93" fill="none" stroke="#0072BD" stroke-width="5.6" stroke-linejoin="round"/>
<path d="M882.06,1015.88 L883.42,1016.65 L884.77,1017.34 L886.10,1017.95 L887.41,1018.47 L888.70,1018.91 L889.97,1019.28 L891.22,1019.57 L892.45,1019.79 L893.67,1019.93 L894.87,1020.00 L896.05,1020.01 L897.21,1019.95 L898.36,1019.83 L899.49,1019.65 L900.60,1019.40 L901.69,1019.10 L902.77,1018.74 L903.83,1018.33 L904.88,1017.87 L905.91,1017.35 L906.92,1016.79 L907.92,1016.19 L908.90,1015.54 L909.87,1014.85 L910.82,1014.12 L911.75,1013.35 L912.67,1012.54 L913.58,1011.70 L914.47,1010.83 L915.35,1009.93 L916.21,1009.01 L917.06,1008.05 L917.90,1007.08 L918.72,1006.08 L919.53,1005.06 L920.32,1004.02 L921.11,1002.97 L921.88,1001.91 L922.63,1000.83 L923.38,999.74 L924.11,998.65 L924.83,997.55 L925.53,996.45 L926.23,995.34 L926.91,994.24 L927.59,993.13 L928.25,992.03 L928.90,990.92 L929.54,989.81 L930.17,988.70 L930.79,987.59 L931.40,986.49 L932.00,985.38 L932.59,984.27 L933.18,983.15 L933.75,982.04 L934.32,980.93 L934.88,979.82 L935.44,978.71 L935.98,977.59 L936.52,976.48 L937.06,975.36 L937.58,974.25 L938.10,973.13 L938.62,972.01 L939.13,970.89 L939.64,969.78 L940.14,968.66 L940.64,967.54 L941.13,966.42 L941.62,965.29 L942.11,964.17 L942.59,963.05 L943.07,961.93 L943.55,960.80 L944.03,959.68 L944.50,958.55 L944.97,957.42 L945.45,956.30 L945.92,955.17 L946.39,954.04 L946.86,952.91 L947.33,951.78 L947.80,950.65 L948.27,949.51 L948.74,948.38 L949.21,947.25 L949.67,946.11 L950.14,944.98 L950.61,943.84 L951.07,942.70 L951.54,941.56 L952.01,940.43 L952.47,939.29 L952.94,938.15 L953.40,937.01 L953.86,935.87 L954.33,934.72 L954.79,933.58 L955.25,932.44 L955.71,931.29 L956.18,930.15 L956.64,929.00 L957.10,927.86 L957.56,926.71 L958.02,925.57 L958.47,924.42 L958.93,923.27 L959.39,922.12 L959.85,920.97 L960.30,919.82 L960.76,918.67 L961.22,917.52 L961.67,916.37 L962.13,915.22 L962.58,914.07 L963.03,912.91 L963.48,911.76 L963.94,910.61 L964.39,909.45 L964.84,908.30 L965.29,907.14 L965.74,905.99 L966.19,904.83 L966.64,903.68 L967.09,902.52 L967.53,901.36 L967.98,900.21 L968.43,899.05 L968.87,897.89 L969.32,896.73 L969.76,895.57 L970.21,894.41 L970.65,893.25 L971.09,892.09 L971.54,890.93 L971.98,889.77 L972.42,888.61 L972.86,887.45 L973.30,886.29 L973.74,885.13 L974.17,883.97 L974.61,882.80 L975.05,881.64 L975.49,880.48 L975.92,879.32 L976.36,878.15 L976.79,876.99 L977.22,875.83 L977.66,874.66 L978.09,873.50 L978.52,872.33 L978.95,871.17 L979.38,870.01 L979.81,868.84 L980.24,867.68 L980.67,866.51 L981.10,865.35 L981.52,864.18 L981.95,863.02 L982.38,861.85 L982.80,860.69 L983.23,859.52 L983.65,858.36 L984.07,857.19 L984.49,856.03 L984.91,854.86 L985.33,853.69 L985.75,852.53 L986.17,851.36 L986.59,850.20 L987.01,849.03 L987.43,847.87 L987.84,846.70 L988.26,845.54 L988.67,844.37 L989.08,843.21 L989.50,842.04 L989.91,840.88 L990.32,839.71 L990.73,838.55 L991.14,837.38 L991.55,836.22 L991.96,835.05 L992.37,833.89 L992.77,832.73 L993.18,831.56 L993.58,830.40 L993.99,829.23 L994.39,828.07 L994.79,826.91 L995.20,825.74 L995.60,824.58 L996.00,823.42 L996.40,822.26 L996.80,821.09 L997.20,819.93 L997.60,818.77 L997.99,817.61 L998.39,816.45 L998.79,815.28 L999.19,814.12 L999.58,812.96 L999.98,811.80 L1000.38,810.64 L1000.77,809.48 L1001.17,808.32 L1001.57,807.16 L1001.96,806.00 L1002.36,804.84 L1002.75,803.68 L1003.15,802.52 L1003.55,801.36 L1003.94,800.20 L1004.34,799.04 L1004.74,797.88 L1005.14,796.72 L1005.53,795.56 L1005.93,794.40 L1006.33,793.24 L1006.73,792.08 L1007.13,790.93 L1007.53,789.77 L1007.93,788.61 L1008.33,787.45 L1008.73,786.29 L1009.13,785.14 L1009.54,783.98 L1009.94,782.82 L1010.34,781.66 L1010.75,780.50 L1011.15,779.35 L1011.56,778.19 L1011.97,777.03 L1012.38,775.88 L1012.79,774.72 L1013.20,773.56 L1013.61,772.41 L1014.02,771.25 L1014.44,770.09 L1014.85,768.94 L1015.27,767.78 L1015.69,766.62 L1016.11,765.47 L1016.53,764.31 L1016.95,763.15 L1017.37,762.00 L1017.80,760.84 L1018.23,759.69 L1018.65,758.53 L1019.08,757.38 L1019.51,756.22 L1019.95,755.07 L1020.38,753.91 L1020.82,752.75 L1021.26,751.60 L1021.70,750.44 L1022.14,749.29 L1022.58,748.13 L1023.03,746.98 L1023.47,745.82 L1023.92,744.67 L1024.38,743.52 L1024.83,742.36 L1025.28,741.21 L1025.74,740.05 L1026.20,738.90 L1026.66,737.74 L1027.13,736.59 L1027.60,735.43 L1028.07,734.28 L1028.54,733.13 L1029.01,731.97 L1029.49,730.82 L1029.97,729.66 L1030.45,728.51 L1030.93,727.36 L1031.42,726.20 L1031.91,725.05 L1032.40,723.89 L1032.90,722.74 L1033.39,721.59 L1033.89,720.43 L1034.40,719.28 L1034.90,718.13 L1035.41,716.97 L1035.93,715.82 L1036.44,714.66 L1036.96,713.51 L1037.48,712.36 L1038.01,711.20 L1038.53,710.05 L1039.06,708.90 L1039.60,707.74 L1040.14,706.59 L1040.68,705.44 L1041.22,704.28 L1041.77,703.13 L1042.32,701.98 L1042.88,700.83 L1043.44,699.68 L1044.01,698.54 L1044.58,697.40 L1045.16,696.26 L1045.75,695.13 L1046.34,694.00 L1046.95,692.88 L1047.56,691.76 L1048.18,690.65 L1048.81,689.55 L1049.45,688.45 L1050.10,687.37 L1050.76,686.29 L1051.43,685.22 L1052.11,684.16 L1052.81,683.12 L1053.51,682.08 L1054.23,681.06 L1054.97,680.04 L1055.71,679.04 L1056.48,678.06 L1057.25,677.09 L1058.04,676.13 L1058.85,675.18 L1059.68,674.26 L1060.52,673.35 L1061.37,672.45 L1062.25,671.57 L1063.14,670.71 L1064.05,669.87 L1064.98,669.05 L1065.93,668.24 L1066.89,667.46 L1067.88,666.70 L1068.88,665.97 L1069.90,665.26 L1070.93,664.58 L1071.97,663.94 L1073.03,663.32 L1074.10,662.74 L1075.17,662.20 L1076.26,661.70 L1077.36,661.24 L1078.46,660.82 L1079.57,660.44 L1080.69,660.11 L1081.81,659.83 L1082.94,659.60 L1084.07,659.42 L1085.19,659.30 L1086.32,659.24 L1087.45,659.22 L1088.58,659.27 L1089.71,659.37 L1090.83,659.52 L1091.94,659.72 L1093.05,659.97 L1094.15,660.27 L1095.24,660.62 L1096.32,661.01 L1097.38,661.44 L1098.44,661.92 L1099.48,662.45 L1100.50,663.01 L1101.51,663.61 L1102.49,664.25 L1103.46,664.92 L1104.41,665.63 L1105.33,666.38 L1106.24,667.15 L1107.13,667.96 L1107.99,668.80 L1108.84,669.67 L1109.67,670.57 L1110.49,671.49 L1111.28,672.44 L1112.06,673.42 L1112.82,674.42 L1113.57,675.44 L1114.30,676.48 L1115.02,677.55 L1115.72,678.63 L1116.41,679.73 L1117.08,680.85 L1117.74,681.98 L1118.39,683.13 L1119.03,684.29 L1119.65,685.47 L1120.26,686.65 L1120.86,687.85 L1121.45,689.05 L1122.03,690.26 L1122.60,691.48 L1123.16,692.71 L1123.71,693.93 L1124.26,695.16 L1124.79,696.40 L1125.32,697.63 L1125.84,698.87 L1126.36,700.10 L1126.87,701.33 L1127.37,702.55 L1127.87,703.78 L1128.36,704.99 L1128.84,706.20 L1129.33,707.41 L1129.81,708.61 L1130.28,709.80 L1130.75,710.99 L1131.21,712.18 L1131.68,713.36 L1132.13,714.53 L1132.59,715.71 L1133.04,716.88 L1133.49,718.04 L1133.93,719.20 L1134.37,720.36 L1134.81,721.52 L1135.25,722.67 L1135.68,723.82 L1136.11,724.97 L1136.54,726.12 L1136.97,727.26 L1137.39,728.40 L1137.81,729.54 L1138.23,730.68 L1138.65,731.82 L1139.07,732.95 L1139.49,734.09 L1139.90,735.23 L1140.32,736.36 L1140.73,737.49 L1141.14,738.63 L1141.56,739.76 L1141.97,740.90 L1142.38,742.03 L1142.79,743.17 L1143.20,744.30 L1143.62,745.44 L1144.03,746.58 L1144.44,747.72 L1144.85,748.86 L1145.27,750.01 L1145.68,751.15 L1146.10,752.29 L1146.51,753.44 L1146.93,754.59 L1147.35,755.74 L1147.77,756.88 L1148.19,758.03 L1148.61,759.18 L1149.03,760.33 L1149.45,761.49 L1149.87,762.64 L1150.30,763.79 L1150.72,764.94 L1151.15,766.10 L1151.58,767.25 L1152.01,768.40 L1152.44,769.56 L1152.87,770.71 L1153.31,771.87 L1153.75,773.02 L1154.18,774.18 L1154.62,775.33 L1155.06,776.49 L1155.51,777.64 L1155.95,778.80 L1156.40,779.95 L1156.85,781.10 L1157.30,782.26 L1157.75,783.41 L1158.20,784.56 L1158.66,785.72 L1159.12,786.87 L1159.58,788.02 L1160.05,789.17 L1160.51,790.32 L1160.98,791.47 L1161.45,792.62 L1161.93,793.76 L1162.40,794.91 L1162.88,796.06 L1163.36,797.20 L1163.85,798.34 L1164.33,799.49 L1164.82,800.63 L1165.32,801.77 L1165.81,802.91 L1166.31,804.04 L1166.81,805.18 L1167.32,806.31 L1167.83,807.45 L1168.34,808.58 L1168.85,809.71 L1169.37,810.83 L1169.89,811.96 L1170.42,813.08 L1170.95,814.21 L1171.48,815.33 L1172.01,816.45 L1172.55,817.56 L1173.10,818.68 L1173.64,819.79 L1174.19,820.90 L1174.75,822.01 L1175.31,823.11 L1175.87,824.22 L1176.43,825.32 L1177.00,826.42 L1177.58,827.51 L1178.16,828.61 L1178.74,829.70 L1179.33,830.79 L1179.92,831.87 L1180.51,832.96 L1181.11,834.04 L1181.72,835.11 L1182.33,836.19 L1182.94,837.26 L1183.56,838.33 L1184.18,839.39 L1184.81,840.46 L1185.44,841.51 L1186.08,842.57 L1186.72,843.62 L1187.37,844.67 L1188.02,845.72 L1188.68,846.76 L1189.34,847.80 L1190.01,848.84 L1190.68,849.87 L1191.36,850.90 L1192.04,851.92 L1192.73,852.94 L1193.43,853.96 L1194.13,854.97 L1194.83,855.98 L1195.54,856.98 L1196.26,857.98 L1196.98,858.98 L1197.71,859.97 L1198.44,860.96 L1199.18,861.95 L1199.93,862.93 L1200.68,863.90 L1201.44,864.87 L1202.20,865.84 L1202.97,866.80 L1203.74,867.76 L1204.52,868.72 L1205.31,869.67 L1206.10,870.62 L1206.89,871.56 L1207.69,872.50 L1208.49,873.44 L1209.30,874.37 L1210.11,875.31 L1210.92,876.24 L1211.74,877.16 L1212.56,878.09 L1213.38,879.01 L1214.20,879.93 L1215.03,880.85 L1215.86,881.77 L1216.69,882.68 L1217.53,883.60 L1218.36,884.51 L1219.20,885.42 L1220.04,886.34 L1220.88,887.25 L1221.72,888.16 L1222.56,889.07 L1223.40,889.98 L1224.24,890.88 L1225.08,891.79 L1225.92,892.70 L1226.76,893.61 L1227.60,894.52 L1228.43,895.43 L1229.27,896.35 L1230.10,897.26 L1230.94,898.17 L1231.77,899.09 L1232.60,900.00 L1233.43,900.92 L1234.25,901.84 L1235.07,902.76 L1235.89,903.69 L1236.71,904.61 L1237.52,905.54 L1238.33,906.47 L1239.14,907.40 L1239.94,908.34 L1240.74,909.28 L1241.53,910.22 L1242.32,911.17 L1243.10,912.12 L1243.88,913.07 L1244.65,914.03 L1245.42,914.99 L1246.18,915.95 L1246.94,916.92 L1247.69,917.89 L1248.43,918.87 L1249.17,919.85 L1249.90,920.84 L1250.62,921.83 L1251.34,922.83 L1252.05,923.83 L1252.75,924.84 L1253.44,925.85 L1254.13,926.87 L1254.81,927.90 L1255.48,928.93 L1256.14,929.96 L1256.79,931.01 L1257.43,932.06 L1258.06,933.12 L1258.69,934.18 L1259.30,935.25 L1259.91,936.33 L1260.51,937.41 L1261.10,938.49 L1261.69,939.59 L1262.27,940.68 L1262.84,941.78 L1263.41,942.89 L1263.98,943.99 L1264.54,945.10 L1265.10,946.22 L1265.66,947.33 L1266.21,948.45 L1266.77,949.57 L1267.32,950.69 L1267.87,951.81 L1268.42,952.94 L1268.98,954.06 L1269.53,955.18 L1270.09,956.31 L1270.65,957.43 L1271.21,958.55 L1271.77,959.67 L1272.34,960.79 L1272.91,961.91 L1273.49,963.02 L1274.08,964.13 L1274.67,965.24 L1275.26,966.34 L1275.87,967.45 L1276.48,968.54 L1277.10,969.64 L1277.73,970.72 L1278.37,971.81 L1279.01,972.88 L1279.67,973.96 L1280.34,975.02 L1281.02,976.08 L1281.71,977.13 L1282.41,978.17 L1283.13,979.20 L1283.85,980.23 L1284.59,981.24 L1285.33,982.24 L1286.09,983.24 L1286.86,984.22 L1287.65,985.19 L1288.44,986.14 L1289.25,987.08 L1290.07,988.01 L1290.90,988.93 L1291.75,989.83 L1292.61,990.71 L1293.48,991.58 L1294.37,992.43 L1295.27,993.26 L1296.19,994.07 L1297.11,994.87 L1298.06,995.65 L1299.02,996.41 L1299.99,997.15 L1300.97,997.86 L1301.98,998.56 L1302.99,999.23 L1304.03,999.89 L1305.07,1000.51 L1306.14,1001.12 L1307.22,1001.70 L1308.31,1002.26 L1309.42,1002.79 L1310.55,1003.29 L1311.70,1003.77 L1312.86,1004.22 L1314.04,1004.65 L1315.23,1005.04 L1316.44,1005.41 L1317.67,1005.75 L1318.92,1006.06 L1320.19,1006.34" fill="none" stroke="#D95319" stroke-width="5.6" stroke-dasharray="22.4 22.4" stroke-linejoin="round"/>
<path d="M882.10,1015.81 L883.50,1016.68 L884.88,1017.45 L886.23,1018.12 L887.55,1018.70 L888.85,1019.18 L890.13,1019.58 L891.38,1019.89 L892.61,1020.12 L893.81,1020.26 L894.99,1020.33 L896.15,1020.32 L897.28,1020.23 L898.39,1020.07 L899.48,1019.85 L900.55,1019.55 L901.60,1019.19 L902.62,1018.77 L903.63,1018.28 L904.61,1017.74 L905.57,1017.14 L906.52,1016.49 L907.44,1015.79 L908.35,1015.05 L909.24,1014.25 L910.11,1013.41 L910.96,1012.54 L911.80,1011.62 L912.61,1010.67 L913.41,1009.68 L914.20,1008.66 L914.96,1007.61 L915.72,1006.54 L916.45,1005.44 L917.17,1004.32 L917.88,1003.19 L918.57,1002.03 L919.25,1000.86 L919.91,999.68 L920.56,998.49 L921.20,997.29 L921.83,996.09 L922.44,994.88 L923.04,993.68 L923.63,992.47 L924.21,991.27 L924.77,990.08 L925.33,988.88 L925.88,987.69 L926.41,986.51 L926.94,985.33 L927.45,984.15 L927.96,982.97 L928.46,981.79 L928.95,980.62 L929.43,979.45 L929.91,978.28 L930.38,977.12 L930.84,975.96 L931.29,974.79 L931.74,973.64 L932.18,972.48 L932.62,971.32 L933.05,970.17 L933.47,969.01 L933.90,967.86 L934.31,966.71 L934.72,965.56 L935.13,964.41 L935.54,963.26 L935.94,962.11 L936.34,960.96 L936.74,959.81 L937.14,958.67 L937.53,957.52 L937.93,956.37 L938.32,955.22 L938.71,954.07 L939.10,952.92 L939.49,951.77 L939.88,950.62 L940.27,949.47 L940.67,948.32 L941.06,947.17 L941.45,946.01 L941.85,944.86 L942.24,943.70 L942.63,942.55 L943.03,941.39 L943.42,940.23 L943.82,939.07 L944.21,937.91 L944.61,936.76 L945.00,935.60 L945.40,934.43 L945.79,933.27 L946.19,932.11 L946.59,930.95 L946.98,929.78 L947.38,928.62 L947.78,927.46 L948.17,926.29 L948.57,925.12 L948.97,923.96 L949.36,922.79 L949.76,921.62 L950.16,920.46 L950.56,919.29 L950.95,918.12 L951.35,916.95 L951.75,915.78 L952.15,914.61 L952.54,913.44 L952.94,912.26 L953.34,911.09 L953.73,909.92 L954.13,908.74 L954.53,907.57 L954.93,906.40 L955.32,905.22 L955.72,904.05 L956.12,902.87 L956.51,901.69 L956.91,900.52 L957.31,899.34 L957.70,898.16 L958.10,896.99 L958.49,895.81 L958.89,894.63 L959.29,893.45 L959.68,892.27 L960.08,891.09 L960.47,889.91 L960.86,888.73 L961.26,887.55 L961.65,886.37 L962.05,885.19 L962.44,884.01 L962.83,882.82 L963.22,881.64 L963.62,880.46 L964.01,879.28 L964.40,878.09 L964.79,876.91 L965.18,875.73 L965.57,874.54 L965.96,873.36 L966.35,872.17 L966.74,870.99 L967.13,869.80 L967.51,868.62 L967.90,867.43 L968.29,866.25 L968.67,865.06 L969.06,863.88 L969.45,862.69 L969.83,861.51 L970.21,860.32 L970.60,859.13 L970.98,857.95 L971.36,856.76 L971.74,855.57 L972.13,854.39 L972.51,853.20 L972.89,852.01 L973.26,850.83 L973.64,849.64 L974.02,848.45 L974.40,847.27 L974.77,846.08 L975.15,844.89 L975.52,843.70 L975.90,842.52 L976.27,841.33 L976.64,840.14 L977.02,838.95 L977.39,837.77 L977.76,836.58 L978.13,835.39 L978.49,834.21 L978.86,833.02 L979.23,831.83 L979.59,830.64 L979.96,829.46 L980.32,828.27 L980.69,827.08 L981.05,825.90 L981.41,824.71 L981.77,823.52 L982.13,822.34 L982.49,821.15 L982.84,819.97 L983.20,818.78 L983.56,817.59 L983.91,816.41 L984.26,815.22 L984.62,814.04 L984.97,812.85 L985.32,811.67 L985.67,810.48 L986.02,809.30 L986.37,808.11 L986.72,806.93 L987.07,805.74 L987.42,804.56 L987.77,803.37 L988.11,802.19 L988.46,801.00 L988.81,799.82 L989.15,798.64 L989.50,797.45 L989.85,796.27 L990.19,795.08 L990.54,793.90 L990.88,792.72 L991.23,791.53 L991.57,790.35 L991.92,789.17 L992.26,787.98 L992.61,786.80 L992.95,785.62 L993.30,784.43 L993.64,783.25 L993.99,782.07 L994.33,780.89 L994.68,779.70 L995.02,778.52 L995.37,777.34 L995.72,776.16 L996.06,774.97 L996.41,773.79 L996.76,772.61 L997.10,771.43 L997.45,770.25 L997.80,769.06 L998.15,767.88 L998.50,766.70 L998.85,765.52 L999.20,764.34 L999.55,763.16 L999.91,761.97 L1000.26,760.79 L1000.61,759.61 L1000.97,758.43 L1001.32,757.25 L1001.68,756.07 L1002.04,754.89 L1002.39,753.71 L1002.75,752.53 L1003.11,751.34 L1003.47,750.16 L1003.83,748.98 L1004.20,747.80 L1004.56,746.62 L1004.93,745.44 L1005.29,744.26 L1005.66,743.08 L1006.03,741.90 L1006.40,740.72 L1006.77,739.54 L1007.14,738.36 L1007.52,737.18 L1007.89,736.00 L1008.27,734.82 L1008.65,733.64 L1009.03,732.46 L1009.41,731.28 L1009.79,730.10 L1010.18,728.92 L1010.57,727.74 L1010.95,726.56 L1011.34,725.38 L1011.73,724.20 L1012.13,723.02 L1012.52,721.84 L1012.92,720.66 L1013.32,719.48 L1013.72,718.30 L1014.12,717.12 L1014.53,715.94 L1014.93,714.76 L1015.34,713.58 L1015.75,712.40 L1016.16,711.22 L1016.58,710.04 L1017.00,708.86 L1017.41,707.68 L1017.84,706.50 L1018.26,705.33 L1018.69,704.15 L1019.11,702.97 L1019.54,701.79 L1019.98,700.61 L1020.41,699.43 L1020.85,698.25 L1021.29,697.07 L1021.73,695.89 L1022.18,694.71 L1022.63,693.53 L1023.08,692.35 L1023.53,691.18 L1023.99,690.00 L1024.45,688.82 L1024.92,687.65 L1025.39,686.48 L1025.87,685.31 L1026.35,684.14 L1026.83,682.98 L1027.33,681.82 L1027.83,680.66 L1028.33,679.51 L1028.85,678.36 L1029.37,677.22 L1029.90,676.08 L1030.43,674.95 L1030.98,673.82 L1031.53,672.70 L1032.09,671.58 L1032.66,670.48 L1033.25,669.37 L1033.84,668.28 L1034.44,667.19 L1035.05,666.11 L1035.68,665.04 L1036.31,663.98 L1036.96,662.93 L1037.62,661.89 L1038.29,660.85 L1038.97,659.83 L1039.67,658.81 L1040.38,657.81 L1041.10,656.82 L1041.84,655.84 L1042.59,654.87 L1043.36,653.91 L1044.14,652.96 L1044.94,652.03 L1045.75,651.11 L1046.58,650.20 L1047.42,649.31 L1048.29,648.43 L1049.16,647.56 L1050.06,646.71 L1050.98,645.88 L1051.91,645.05 L1052.86,644.25 L1053.83,643.46 L1054.82,642.68 L1055.82,641.93 L1056.85,641.19 L1057.90,640.46 L1058.96,639.76 L1060.05,639.09 L1061.14,638.46 L1062.25,637.89 L1063.37,637.38 L1064.49,636.93 L1065.62,636.57 L1066.75,636.30 L1067.89,636.13 L1069.01,636.07 L1070.14,636.13 L1071.25,636.31 L1072.36,636.63 L1073.46,637.06 L1074.54,637.60 L1075.61,638.23 L1076.66,638.95 L1077.69,639.74 L1078.70,640.60 L1079.69,641.51 L1080.66,642.45 L1081.60,643.43 L1082.51,644.43 L1083.40,645.44 L1084.26,646.46 L1085.08,647.49 L1085.89,648.52 L1086.66,649.57 L1087.42,650.62 L1088.15,651.68 L1088.85,652.75 L1089.53,653.83 L1090.19,654.92 L1090.84,656.01 L1091.46,657.10 L1092.06,658.21 L1092.64,659.32 L1093.21,660.43 L1093.75,661.55 L1094.29,662.68 L1094.81,663.81 L1095.31,664.95 L1095.80,666.09 L1096.28,667.23 L1096.75,668.38 L1097.20,669.53 L1097.65,670.68 L1098.08,671.84 L1098.51,673.00 L1098.93,674.16 L1099.35,675.33 L1099.75,676.49 L1100.16,677.66 L1100.56,678.83 L1100.95,680.00 L1101.34,681.17 L1101.73,682.34 L1102.12,683.51 L1102.51,684.68 L1102.90,685.85 L1103.29,687.02 L1103.68,688.18 L1104.07,689.35 L1104.46,690.52 L1104.86,691.69 L1105.25,692.86 L1105.64,694.02 L1106.03,695.19 L1106.42,696.36 L1106.81,697.53 L1107.20,698.69 L1107.59,699.86 L1107.98,701.03 L1108.37,702.20 L1108.76,703.36 L1109.15,704.53 L1109.54,705.70 L1109.93,706.87 L1110.32,708.04 L1110.71,709.21 L1111.09,710.38 L1111.48,711.55 L1111.86,712.72 L1112.25,713.90 L1112.63,715.07 L1113.02,716.24 L1113.40,717.42 L1113.78,718.60 L1114.16,719.77 L1114.54,720.95 L1114.91,722.13 L1115.29,723.31 L1115.66,724.49 L1116.04,725.67 L1116.41,726.85 L1116.78,728.04 L1117.16,729.22 L1117.53,730.40 L1117.90,731.59 L1118.27,732.77 L1118.64,733.96 L1119.01,735.15 L1119.38,736.34 L1119.75,737.52 L1120.11,738.71 L1120.48,739.90 L1120.85,741.09 L1121.22,742.28 L1121.59,743.47 L1121.96,744.66 L1122.32,745.85 L1122.69,747.04 L1123.06,748.23 L1123.43,749.42 L1123.80,750.61 L1124.17,751.80 L1124.54,752.99 L1124.91,754.18 L1125.29,755.37 L1125.66,756.56 L1126.03,757.75 L1126.41,758.94 L1126.78,760.12 L1127.16,761.31 L1127.54,762.50 L1127.92,763.69 L1128.30,764.88 L1128.68,766.06 L1129.06,767.25 L1129.45,768.44 L1129.83,769.62 L1130.22,770.80 L1130.61,771.99 L1131.00,773.17 L1131.40,774.35 L1131.79,775.53 L1132.19,776.71 L1132.58,777.89 L1132.98,779.07 L1133.39,780.25 L1133.79,781.43 L1134.20,782.60 L1134.61,783.78 L1135.02,784.95 L1135.43,786.12 L1135.85,787.29 L1136.27,788.46 L1136.69,789.63 L1137.11,790.80 L1137.54,791.96 L1137.97,793.13 L1138.40,794.29 L1138.84,795.45 L1139.28,796.61 L1139.72,797.77 L1140.16,798.92 L1140.61,800.08 L1141.06,801.23 L1141.52,802.38 L1141.97,803.53 L1142.44,804.68 L1142.90,805.83 L1143.37,806.97 L1143.84,808.11 L1144.32,809.25 L1144.80,810.39 L1145.28,811.53 L1145.77,812.66 L1146.26,813.79 L1146.75,814.92 L1147.25,816.05 L1147.76,817.17 L1148.26,818.29 L1148.78,819.41 L1149.29,820.53 L1149.81,821.65 L1150.34,822.76 L1150.87,823.87 L1151.40,824.98 L1151.94,826.08 L1152.49,827.19 L1153.04,828.29 L1153.59,829.38 L1154.15,830.48 L1154.71,831.57 L1155.28,832.66 L1155.86,833.74 L1156.44,834.83 L1157.02,835.91 L1157.61,836.98 L1158.21,838.06 L1158.81,839.13 L1159.42,840.20 L1160.03,841.26 L1160.65,842.32 L1161.27,843.38 L1161.90,844.44 L1162.53,845.49 L1163.18,846.54 L1163.82,847.58 L1164.47,848.62 L1165.13,849.66 L1165.79,850.70 L1166.46,851.73 L1167.13,852.76 L1167.81,853.79 L1168.49,854.82 L1169.18,855.84 L1169.87,856.86 L1170.56,857.88 L1171.26,858.90 L1171.96,859.91 L1172.67,860.92 L1173.38,861.93 L1174.09,862.94 L1174.81,863.95 L1175.53,864.95 L1176.25,865.96 L1176.97,866.96 L1177.70,867.96 L1178.43,868.96 L1179.16,869.95 L1179.90,870.95 L1180.63,871.95 L1181.37,872.94 L1182.11,873.93 L1182.85,874.93 L1183.60,875.92 L1184.34,876.91 L1185.09,877.90 L1185.84,878.89 L1186.58,879.88 L1187.33,880.87 L1188.08,881.86 L1188.83,882.84 L1189.58,883.83 L1190.33,884.82 L1191.08,885.81 L1191.83,886.80 L1192.58,887.79 L1193.33,888.78 L1194.08,889.77 L1194.83,890.76 L1195.58,891.75 L1196.33,892.74 L1197.07,893.73 L1197.82,894.73 L1198.56,895.72 L1199.30,896.71 L1200.04,897.71 L1200.78,898.71 L1201.51,899.71 L1202.25,900.71 L1202.98,901.71 L1203.71,902.71 L1204.43,903.71 L1205.15,904.72 L1205.88,905.73 L1206.59,906.74 L1207.31,907.75 L1208.02,908.76 L1208.73,909.78 L1209.43,910.80 L1210.13,911.82 L1210.83,912.84 L1211.52,913.86 L1212.21,914.89 L1212.89,915.92 L1213.57,916.95 L1214.24,917.99 L1214.91,919.03 L1215.58,920.07 L1216.24,921.11 L1216.89,922.16 L1217.54,923.21 L1218.19,924.27 L1218.82,925.32 L1219.46,926.38 L1220.08,927.45 L1220.70,928.52 L1221.32,929.59 L1221.92,930.66 L1222.52,931.74 L1223.12,932.83 L1223.71,933.91 L1224.29,935.00 L1224.86,936.10 L1225.43,937.20 L1225.99,938.30 L1226.54,939.41 L1227.08,940.53 L1227.62,941.64 L1228.14,942.77 L1228.66,943.89 L1229.18,945.03 L1229.68,946.16 L1230.17,947.31 L1230.66,948.45 L1231.14,949.61 L1231.60,950.76 L1232.06,951.93 L1232.51,953.10 L1232.95,954.27 L1233.38,955.45 L1233.80,956.64 L1234.21,957.83 L1234.62,959.02 L1235.02,960.22 L1235.42,961.42 L1235.81,962.62 L1236.21,963.82 L1236.61,965.02 L1237.01,966.22 L1237.42,967.41 L1237.84,968.60 L1238.26,969.78 L1238.70,970.95 L1239.15,972.12 L1239.62,973.28 L1240.10,974.42 L1240.60,975.56 L1241.13,976.68 L1241.67,977.79 L1242.24,978.89 L1242.84,979.97 L1243.46,981.03 L1244.11,982.08 L1244.80,983.10 L1245.52,984.11 L1246.27,985.09 L1247.07,986.06 L1247.90,986.99 L1248.77,987.91 L1249.68,988.80 L1250.64,989.66 L1251.65,990.50 L1252.70,991.30 L1253.81,992.08 L1254.96,992.82 L1256.17,993.53 L1257.42,994.22 L1258.69,994.90 L1259.95,995.57 L1261.17,996.27 L1262.33,996.99 L1263.41,997.75 L1264.36,998.58 L1265.18,999.47 L1265.84,1000.46" fill="none" stroke="#EDB120" stroke-width="5.6" stroke-dasharray="22.4 22.4" stroke-linejoin="round"/>
<text x="0" y="0" font-family="Liberation Serif" font-size="38" text-anchor="middle" transform="translate(808.40,802.30) rotate(-90)">|v| [m/s]</text>
<text x="1138.90" y="1117.00" font-family="Liberation Serif" font-size="38" font-weight="400" text-anchor="middle" fill="#000">time [s]</text>
<text x="14.00" y="23.70" font-family="Liberation Sans" font-size="34.5" font-weight="700" text-anchor="start" fill="#000">A</text>
<text x="780.00" y="23.90" font-family="Liberation Sans" font-size="34.5" font-weight="700" text-anchor="start" fill="#000">B</text>
<text x="3.70" y="563.20" font-family="Liberation Sans" font-size="34.5" font-weight="700" text-anchor="start" fill="#000">C</text>
<text x="789.20" y="550.20" font-family="Liberation Sans" font-size="34.5" font-weight="700" text-anchor="start" fill="#000">D</text>
</svg></body></html>
